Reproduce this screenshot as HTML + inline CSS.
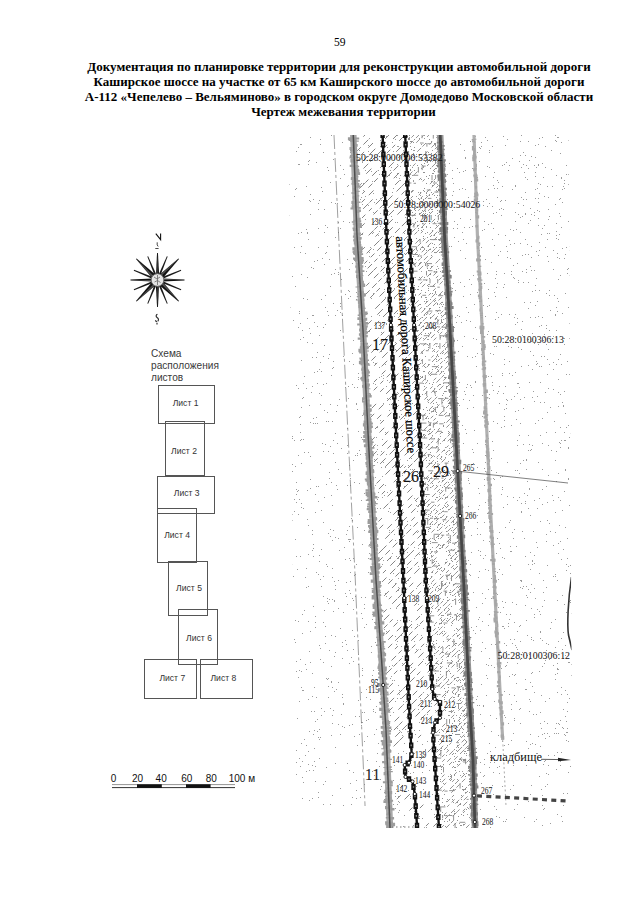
<!DOCTYPE html>
<html><head><meta charset="utf-8">
<style>
html,body{margin:0;padding:0;background:#fff;}
body{width:640px;height:905px;position:relative;overflow:hidden;}
.t{position:absolute;white-space:nowrap;font-family:"Liberation Serif",serif;color:#000;}
.s{position:absolute;white-space:nowrap;font-family:"Liberation Sans",sans-serif;color:#222;}
.title{font-weight:bold;font-size:13px;line-height:15px;left:0;width:678px;text-align:center;}
.box{position:absolute;border:1px solid #555;box-sizing:border-box;}
.bl{position:absolute;width:60px;margin-left:-30px;margin-top:-5.5px;line-height:11px;text-align:center;font-family:"Liberation Sans",sans-serif;font-size:8.6px;color:#333;white-space:nowrap;}
.sc{top:772.6px;font-size:10px;line-height:12px;color:#111;}
.lbl{position:absolute;white-space:nowrap;font-family:"Liberation Serif",serif;color:#111;line-height:1;}
.rot{position:absolute;white-space:nowrap;font-family:"Liberation Serif",serif;font-size:12.5px;line-height:1;color:#000;transform-origin:0 0;-webkit-text-stroke:0.25px #000;}
</style></head><body>
<svg width="640" height="905" viewBox="0 0 640 905" style="position:absolute;left:0;top:0">
<defs>
<clipPath id="mapclip"><polygon points="289,135 568.5,135 572.5,828 385,828 385,806 295,806"/></clipPath>
</defs>
<g clip-path="url(#mapclip)">
<path d="M520 708h1v1h-1zM527 597h1v1h-1zM549 736h1v1h-1zM386 324h1v1h-1zM551 622h1v1h-1zM384 231h1v1h-1zM517 445h1v1h-1zM361 227h1v1h-1zM491 598h1v1h-1zM559 199h1v1h-1zM412 749h1v1h-1zM304 610h1v1h-1zM389 666h1v1h-1zM408 790h1v1h-1zM439 646h1v1h-1zM431 551h1v1h-1zM571 220h1v1h-1zM419 457h1v1h-1zM406 660h1v1h-1zM436 165h1v1h-1zM324 711h1v1h-1zM494 245h1v1h-1zM437 530h1v1h-1zM323 152h1v1h-1zM289 353h1v1h-1zM315 616h1v1h-1zM390 826h1v1h-1zM427 479h1v1h-1zM333 453h1v1h-1zM498 255h1v1h-1zM357 387h1v1h-1zM294 196h1v1h-1zM538 316h1v1h-1zM385 593h1v1h-1zM549 330h1v1h-1zM356 564h1v1h-1zM348 539h1v1h-1zM397 135h1v1h-1zM427 741h1v1h-1zM444 155h1v1h-1zM490 751h1v1h-1zM340 178h1v1h-1zM398 587h1v1h-1zM421 144h1v1h-1zM457 438h1v1h-1zM327 227h1v1h-1zM413 150h1v1h-1zM477 515h1v1h-1zM354 736h1v1h-1zM367 453h1v1h-1zM416 329h1v1h-1zM370 779h1v1h-1zM389 532h1v1h-1zM536 753h1v1h-1zM344 174h1v1h-1zM419 379h1v1h-1zM489 398h1v1h-1zM504 745h1v1h-1zM540 435h1v1h-1zM555 314h1v1h-1zM324 264h1v1h-1zM326 421h1v1h-1zM393 151h1v1h-1zM324 410h1v1h-1zM416 196h1v1h-1zM312 315h1v1h-1zM560 720h1v1h-1zM356 229h1v1h-1zM519 473h1v1h-1zM556 733h1v1h-1zM298 621h1v1h-1zM448 461h1v1h-1zM358 209h1v1h-1zM327 598h1v1h-1zM311 267h1v1h-1zM531 214h1v1h-1zM502 165h1v1h-1zM544 721h1v1h-1zM296 774h1v1h-1zM348 398h1v1h-1zM458 532h1v1h-1zM523 586h1v1h-1zM525 689h1v1h-1zM331 666h1v1h-1zM304 452h1v1h-1zM535 157h1v1h-1zM406 250h1v1h-1zM543 764h1v1h-1zM537 396h1v1h-1zM294 511h1v1h-1zM392 665h1v1h-1zM375 485h1v1h-1zM515 645h1v1h-1zM412 469h1v1h-1zM496 816h1v1h-1zM509 340h1v1h-1zM398 528h1v1h-1zM401 732h1v1h-1zM451 349h1v1h-1zM358 272h1v1h-1zM309 200h1v1h-1zM430 308h1v1h-1zM346 596h1v1h-1zM398 558h1v1h-1zM484 775h1v1h-1zM450 774h1v1h-1zM520 463h1v1h-1zM327 167h1v1h-1zM310 422h1v1h-1zM447 799h1v1h-1zM521 329h1v1h-1zM301 407h1v1h-1zM361 183h1v1h-1zM563 805h1v1h-1zM477 214h1v1h-1zM390 339h1v1h-1zM532 397h1v1h-1zM380 146h1v1h-1zM530 682h1v1h-1zM307 318h1v1h-1zM466 687h1v1h-1zM555 647h1v1h-1zM370 537h1v1h-1zM403 224h1v1h-1zM499 532h1v1h-1zM355 596h1v1h-1zM292 520h1v1h-1zM546 486h1v1h-1zM526 469h1v1h-1zM393 236h1v1h-1zM352 353h1v1h-1zM488 224h1v1h-1zM447 684h1v1h-1zM453 403h1v1h-1zM297 491h1v1h-1zM308 586h1v1h-1zM504 416h1v1h-1zM538 164h1v1h-1zM400 200h1v1h-1zM508 170h1v1h-1zM377 680h1v1h-1zM553 665h1v1h-1zM514 639h1v1h-1zM333 361h1v1h-1zM437 710h1v1h-1zM373 670h1v1h-1zM420 454h1v1h-1zM484 759h1v1h-1zM361 692h1v1h-1zM543 340h1v1h-1zM291 754h1v1h-1zM564 180h1v1h-1zM553 545h1v1h-1zM567 711h1v1h-1zM374 202h1v1h-1zM564 604h1v1h-1zM500 548h1v1h-1zM426 387h1v1h-1zM531 639h1v1h-1zM354 482h1v1h-1zM532 672h1v1h-1zM451 246h1v1h-1zM405 147h1v1h-1zM434 464h1v1h-1zM470 385h1v1h-1zM342 646h1v1h-1zM351 657h1v1h-1zM390 678h1v1h-1zM512 158h1v1h-1zM481 783h1v1h-1zM560 765h1v1h-1zM370 686h1v1h-1zM399 690h1v1h-1zM358 373h1v1h-1zM466 320h1v1h-1zM450 334h1v1h-1zM400 334h1v1h-1zM338 272h1v1h-1zM356 225h1v1h-1zM338 580h1v1h-1zM504 691h1v1h-1zM353 340h1v1h-1zM298 233h1v1h-1zM547 784h1v1h-1zM546 328h1v1h-1zM308 699h1v1h-1zM535 285h1v1h-1zM386 323h1v1h-1zM369 424h1v1h-1zM525 214h1v1h-1zM338 469h1v1h-1zM507 662h1v1h-1zM470 575h1v1h-1zM480 148h1v1h-1zM521 503h1v1h-1zM478 550h1v1h-1zM373 232h1v1h-1zM551 150h1v1h-1zM454 221h1v1h-1zM496 718h1v1h-1zM547 733h1v1h-1zM463 399h1v1h-1zM348 298h1v1h-1zM496 271h1v1h-1zM457 686h1v1h-1zM478 577h1v1h-1zM496 346h1v1h-1zM383 207h1v1h-1zM463 443h1v1h-1zM294 499h1v1h-1zM314 372h1v1h-1zM442 480h1v1h-1zM399 810h1v1h-1zM496 718h1v1h-1zM328 533h1v1h-1zM350 539h1v1h-1zM300 252h1v1h-1zM410 397h1v1h-1zM516 546h1v1h-1zM547 186h1v1h-1zM389 798h1v1h-1zM481 146h1v1h-1zM339 399h1v1h-1zM463 698h1v1h-1zM565 655h1v1h-1zM501 668h1v1h-1zM340 788h1v1h-1zM328 697h1v1h-1zM312 530h1v1h-1zM370 530h1v1h-1zM375 642h1v1h-1zM318 574h1v1h-1zM504 426h1v1h-1zM558 543h1v1h-1zM448 509h1v1h-1zM560 427h1v1h-1zM434 814h1v1h-1zM440 162h1v1h-1zM296 385h1v1h-1zM369 553h1v1h-1zM488 189h1v1h-1zM450 542h1v1h-1zM314 730h1v1h-1zM452 210h1v1h-1zM403 574h1v1h-1zM533 391h1v1h-1zM413 181h1v1h-1zM556 235h1v1h-1zM528 282h1v1h-1zM414 753h1v1h-1zM347 186h1v1h-1zM522 255h1v1h-1zM393 188h1v1h-1zM471 675h1v1h-1zM502 601h1v1h-1zM423 789h1v1h-1zM503 507h1v1h-1zM560 275h1v1h-1zM437 266h1v1h-1zM411 627h1v1h-1zM347 650h1v1h-1zM548 774h1v1h-1zM429 413h1v1h-1zM386 783h1v1h-1zM411 329h1v1h-1zM416 649h1v1h-1zM389 175h1v1h-1zM320 144h1v1h-1zM506 162h1v1h-1zM308 239h1v1h-1zM431 209h1v1h-1zM409 781h1v1h-1zM480 630h1v1h-1zM396 481h1v1h-1zM464 641h1v1h-1zM357 211h1v1h-1zM350 593h1v1h-1zM398 590h1v1h-1zM506 399h1v1h-1zM488 289h1v1h-1zM477 292h1v1h-1zM455 432h1v1h-1zM569 323h1v1h-1zM338 608h1v1h-1zM537 609h1v1h-1zM398 812h1v1h-1zM330 446h1v1h-1zM456 424h1v1h-1zM401 501h1v1h-1zM456 510h1v1h-1zM349 465h1v1h-1zM431 583h1v1h-1zM560 447h1v1h-1zM523 460h1v1h-1zM402 544h1v1h-1zM553 389h1v1h-1zM332 505h1v1h-1zM301 507h1v1h-1zM487 334h1v1h-1zM477 534h1v1h-1zM379 315h1v1h-1zM334 600h1v1h-1zM433 157h1v1h-1zM402 663h1v1h-1zM440 157h1v1h-1zM505 200h1v1h-1zM568 447h1v1h-1zM568 221h1v1h-1zM460 218h1v1h-1zM362 234h1v1h-1zM505 386h1v1h-1zM401 635h1v1h-1zM556 481h1v1h-1zM524 538h1v1h-1zM468 480h1v1h-1zM459 823h1v1h-1zM358 640h1v1h-1zM326 767h1v1h-1zM499 817h1v1h-1zM290 522h1v1h-1zM526 689h1v1h-1zM301 671h1v1h-1zM294 247h1v1h-1zM504 284h1v1h-1zM414 301h1v1h-1zM481 306h1v1h-1zM488 570h1v1h-1zM429 195h1v1h-1zM530 450h1v1h-1zM347 445h1v1h-1zM380 198h1v1h-1zM523 152h1v1h-1zM535 172h1v1h-1zM449 246h1v1h-1zM472 357h1v1h-1zM530 744h1v1h-1zM549 364h1v1h-1zM515 324h1v1h-1zM432 547h1v1h-1zM377 454h1v1h-1zM569 698h1v1h-1zM534 401h1v1h-1zM537 547h1v1h-1zM464 811h1v1h-1zM569 229h1v1h-1zM536 361h1v1h-1zM493 185h1v1h-1zM400 272h1v1h-1zM486 675h1v1h-1zM429 194h1v1h-1zM410 146h1v1h-1zM530 515h1v1h-1zM519 387h1v1h-1zM504 755h1v1h-1zM453 283h1v1h-1zM553 269h1v1h-1zM425 663h1v1h-1zM562 189h1v1h-1zM366 720h1v1h-1zM289 344h1v1h-1zM365 266h1v1h-1zM331 495h1v1h-1zM559 234h1v1h-1zM534 614h1v1h-1zM331 735h1v1h-1zM548 445h1v1h-1zM298 327h1v1h-1zM335 585h1v1h-1zM567 558h1v1h-1zM558 641h1v1h-1zM369 453h1v1h-1zM496 212h1v1h-1zM445 613h1v1h-1zM360 243h1v1h-1zM490 827h1v1h-1zM351 804h1v1h-1zM482 621h1v1h-1zM347 604h1v1h-1zM394 765h1v1h-1zM366 432h1v1h-1zM565 440h1v1h-1zM461 536h1v1h-1zM481 247h1v1h-1zM457 452h1v1h-1zM484 229h1v1h-1zM341 279h1v1h-1zM356 780h1v1h-1zM381 332h1v1h-1zM494 172h1v1h-1zM526 741h1v1h-1zM335 237h1v1h-1zM369 262h1v1h-1zM511 551h1v1h-1zM326 484h1v1h-1zM507 658h1v1h-1zM360 797h1v1h-1zM364 530h1v1h-1zM494 762h1v1h-1zM414 811h1v1h-1zM560 153h1v1h-1zM422 473h1v1h-1zM385 485h1v1h-1zM446 801h1v1h-1zM514 243h1v1h-1zM482 344h1v1h-1zM439 240h1v1h-1zM370 394h1v1h-1zM564 440h1v1h-1zM569 374h1v1h-1zM469 761h1v1h-1zM545 660h1v1h-1zM361 722h1v1h-1zM553 336h1v1h-1zM302 777h1v1h-1zM331 274h1v1h-1zM502 476h1v1h-1zM457 228h1v1h-1zM473 407h1v1h-1zM352 598h1v1h-1zM358 379h1v1h-1zM567 694h1v1h-1zM321 708h1v1h-1zM375 477h1v1h-1zM363 260h1v1h-1zM290 430h1v1h-1zM475 381h1v1h-1zM474 304h1v1h-1zM569 213h1v1h-1zM521 167h1v1h-1zM495 319h1v1h-1zM359 450h1v1h-1zM484 764h1v1h-1zM528 168h1v1h-1zM362 675h1v1h-1zM496 312h1v1h-1zM461 667h1v1h-1zM356 404h1v1h-1zM459 189h1v1h-1zM308 822h1v1h-1zM495 644h1v1h-1zM529 488h1v1h-1zM499 773h1v1h-1zM497 423h1v1h-1zM537 609h1v1h-1zM498 579h1v1h-1zM558 473h1v1h-1zM557 668h1v1h-1zM510 565h1v1h-1zM301 463h1v1h-1zM440 765h1v1h-1zM510 520h1v1h-1zM453 447h1v1h-1zM517 383h1v1h-1zM546 541h1v1h-1zM315 622h1v1h-1zM558 379h1v1h-1zM568 448h1v1h-1zM491 376h1v1h-1zM324 816h1v1h-1zM568 566h1v1h-1zM373 362h1v1h-1zM504 715h1v1h-1zM355 261h1v1h-1zM521 135h1v1h-1zM440 384h1v1h-1zM442 159h1v1h-1zM321 586h1v1h-1zM560 541h1v1h-1zM361 500h1v1h-1zM407 181h1v1h-1zM445 166h1v1h-1zM449 450h1v1h-1zM455 645h1v1h-1zM362 618h1v1h-1zM392 437h1v1h-1zM319 335h1v1h-1zM392 680h1v1h-1zM409 331h1v1h-1zM449 415h1v1h-1zM504 273h1v1h-1zM460 590h1v1h-1zM501 215h1v1h-1zM375 363h1v1h-1zM446 258h1v1h-1zM389 410h1v1h-1zM381 376h1v1h-1zM428 516h1v1h-1zM557 253h1v1h-1zM553 369h1v1h-1zM443 319h1v1h-1zM404 418h1v1h-1zM356 790h1v1h-1zM525 213h1v1h-1zM514 675h1v1h-1zM326 678h1v1h-1zM292 749h1v1h-1zM564 391h1v1h-1zM505 717h1v1h-1zM333 303h1v1h-1zM386 386h1v1h-1zM380 420h1v1h-1zM569 164h1v1h-1zM384 289h1v1h-1zM306 771h1v1h-1zM485 137h1v1h-1zM544 196h1v1h-1zM381 200h1v1h-1zM473 463h1v1h-1zM305 664h1v1h-1zM555 679h1v1h-1zM378 743h1v1h-1zM373 249h1v1h-1zM512 375h1v1h-1zM514 695h1v1h-1zM420 376h1v1h-1zM421 635h1v1h-1zM567 361h1v1h-1zM544 402h1v1h-1zM307 342h1v1h-1zM315 721h1v1h-1zM381 467h1v1h-1zM543 580h1v1h-1zM546 587h1v1h-1zM423 166h1v1h-1zM326 252h1v1h-1zM567 728h1v1h-1zM410 773h1v1h-1zM363 190h1v1h-1zM448 570h1v1h-1zM310 456h1v1h-1zM558 406h1v1h-1zM544 225h1v1h-1zM550 310h1v1h-1zM482 395h1v1h-1zM543 809h1v1h-1zM521 197h1v1h-1zM450 555h1v1h-1zM528 508h1v1h-1zM399 178h1v1h-1zM354 636h1v1h-1zM357 283h1v1h-1zM556 175h1v1h-1zM290 381h1v1h-1zM558 279h1v1h-1zM335 537h1v1h-1zM530 569h1v1h-1zM328 170h1v1h-1zM406 437h1v1h-1zM418 256h1v1h-1zM571 382h1v1h-1zM503 607h1v1h-1zM333 367h1v1h-1zM461 760h1v1h-1zM400 175h1v1h-1zM371 547h1v1h-1zM318 486h1v1h-1zM379 608h1v1h-1zM490 353h1v1h-1zM484 522h1v1h-1zM399 563h1v1h-1zM466 387h1v1h-1zM570 302h1v1h-1zM534 343h1v1h-1zM493 354h1v1h-1zM528 450h1v1h-1zM530 592h1v1h-1zM539 776h1v1h-1zM538 344h1v1h-1zM565 527h1v1h-1zM503 209h1v1h-1zM313 418h1v1h-1zM429 770h1v1h-1zM423 659h1v1h-1zM490 715h1v1h-1zM400 410h1v1h-1zM473 275h1v1h-1zM350 155h1v1h-1zM484 468h1v1h-1zM490 757h1v1h-1zM354 167h1v1h-1zM499 569h1v1h-1zM534 692h1v1h-1zM358 664h1v1h-1zM422 456h1v1h-1zM393 422h1v1h-1zM562 595h1v1h-1zM496 274h1v1h-1zM486 664h1v1h-1zM404 240h1v1h-1zM438 514h1v1h-1zM465 760h1v1h-1zM399 278h1v1h-1zM309 160h1v1h-1zM536 714h1v1h-1zM294 440h1v1h-1zM323 356h1v1h-1zM469 817h1v1h-1zM351 518h1v1h-1zM421 227h1v1h-1zM507 257h1v1h-1zM485 471h1v1h-1zM432 361h1v1h-1zM370 547h1v1h-1zM374 494h1v1h-1zM411 667h1v1h-1zM336 485h1v1h-1zM366 624h1v1h-1zM572 450h1v1h-1zM321 549h1v1h-1zM482 642h1v1h-1zM442 615h1v1h-1zM307 490h1v1h-1zM480 714h1v1h-1zM384 792h1v1h-1zM399 212h1v1h-1zM313 770h1v1h-1zM501 200h1v1h-1zM430 204h1v1h-1zM526 595h1v1h-1zM358 654h1v1h-1zM542 504h1v1h-1zM531 156h1v1h-1zM405 399h1v1h-1zM401 375h1v1h-1zM555 135h1v1h-1zM567 538h1v1h-1zM290 380h1v1h-1zM569 215h1v1h-1zM459 405h1v1h-1zM298 455h1v1h-1zM395 540h1v1h-1zM369 331h1v1h-1zM371 298h1v1h-1zM459 771h1v1h-1zM540 712h1v1h-1zM439 513h1v1h-1zM501 427h1v1h-1zM476 819h1v1h-1zM410 796h1v1h-1zM416 505h1v1h-1zM455 317h1v1h-1zM353 199h1v1h-1zM520 659h1v1h-1zM535 176h1v1h-1zM372 771h1v1h-1zM535 189h1v1h-1zM465 394h1v1h-1zM489 394h1v1h-1zM417 511h1v1h-1zM456 322h1v1h-1zM393 712h1v1h-1zM355 716h1v1h-1zM353 772h1v1h-1zM426 299h1v1h-1zM353 340h1v1h-1zM438 371h1v1h-1zM383 149h1v1h-1zM530 734h1v1h-1zM357 409h1v1h-1zM503 393h1v1h-1zM492 530h1v1h-1zM360 184h1v1h-1zM369 256h1v1h-1zM310 333h1v1h-1zM564 258h1v1h-1zM496 472h1v1h-1zM302 690h1v1h-1zM376 517h1v1h-1zM323 451h1v1h-1zM434 364h1v1h-1zM489 767h1v1h-1zM361 725h1v1h-1zM399 694h1v1h-1zM433 285h1v1h-1zM515 314h1v1h-1zM343 704h1v1h-1zM417 634h1v1h-1zM510 258h1v1h-1zM366 466h1v1h-1zM427 714h1v1h-1zM362 415h1v1h-1zM429 464h1v1h-1zM405 217h1v1h-1zM535 340h1v1h-1zM476 699h1v1h-1zM447 821h1v1h-1zM536 278h1v1h-1zM392 553h1v1h-1zM536 167h1v1h-1zM501 494h1v1h-1zM570 766h1v1h-1zM418 418h1v1h-1zM385 432h1v1h-1zM416 588h1v1h-1zM313 315h1v1h-1zM327 412h1v1h-1zM447 199h1v1h-1zM475 146h1v1h-1zM558 406h1v1h-1zM414 641h1v1h-1zM493 450h1v1h-1zM561 816h1v1h-1zM340 628h1v1h-1zM498 391h1v1h-1zM301 144h1v1h-1zM405 466h1v1h-1zM487 513h1v1h-1zM430 508h1v1h-1zM519 497h1v1h-1zM448 420h1v1h-1zM323 804h1v1h-1zM337 405h1v1h-1zM381 351h1v1h-1zM313 268h1v1h-1zM394 316h1v1h-1zM466 243h1v1h-1zM479 493h1v1h-1zM300 144h1v1h-1zM564 344h1v1h-1zM299 313h1v1h-1zM344 727h1v1h-1zM509 619h1v1h-1zM401 646h1v1h-1zM498 317h1v1h-1zM428 206h1v1h-1zM488 464h1v1h-1zM471 672h1v1h-1zM364 784h1v1h-1zM317 352h1v1h-1zM465 585h1v1h-1zM506 651h1v1h-1zM347 259h1v1h-1zM521 581h1v1h-1zM528 564h1v1h-1zM485 648h1v1h-1zM566 721h1v1h-1zM310 662h1v1h-1zM434 742h1v1h-1zM455 290h1v1h-1zM457 397h1v1h-1zM449 327h1v1h-1zM529 699h1v1h-1zM494 188h1v1h-1zM384 799h1v1h-1zM361 252h1v1h-1zM342 658h1v1h-1zM422 201h1v1h-1zM383 174h1v1h-1zM464 391h1v1h-1zM467 599h1v1h-1zM432 794h1v1h-1zM411 210h1v1h-1zM343 703h1v1h-1zM540 382h1v1h-1zM325 643h1v1h-1zM570 202h1v1h-1zM459 172h1v1h-1zM401 430h1v1h-1zM487 166h1v1h-1zM527 635h1v1h-1zM325 225h1v1h-1zM394 680h1v1h-1zM450 336h1v1h-1zM509 522h1v1h-1zM296 482h1v1h-1zM431 809h1v1h-1zM395 349h1v1h-1zM381 266h1v1h-1zM376 729h1v1h-1zM465 759h1v1h-1zM472 449h1v1h-1zM324 345h1v1h-1zM473 452h1v1h-1zM391 284h1v1h-1zM325 781h1v1h-1zM480 762h1v1h-1zM522 271h1v1h-1zM548 261h1v1h-1zM337 489h1v1h-1zM502 375h1v1h-1zM541 728h1v1h-1zM435 215h1v1h-1zM521 366h1v1h-1zM533 531h1v1h-1zM390 558h1v1h-1zM401 594h1v1h-1zM321 510h1v1h-1zM433 733h1v1h-1zM514 809h1v1h-1zM438 812h1v1h-1zM295 823h1v1h-1zM296 556h1v1h-1zM417 532h1v1h-1zM504 420h1v1h-1zM463 239h1v1h-1zM342 694h1v1h-1zM521 349h1v1h-1zM304 739h1v1h-1zM465 158h1v1h-1zM376 610h1v1h-1zM534 821h1v1h-1zM320 362h1v1h-1zM491 578h1v1h-1zM566 247h1v1h-1zM318 203h1v1h-1zM494 806h1v1h-1zM554 733h1v1h-1zM396 644h1v1h-1zM478 281h1v1h-1zM418 814h1v1h-1zM531 257h1v1h-1zM510 614h1v1h-1zM368 151h1v1h-1zM478 509h1v1h-1zM301 246h1v1h-1zM563 709h1v1h-1zM562 248h1v1h-1zM337 443h1v1h-1zM352 204h1v1h-1zM551 450h1v1h-1zM439 496h1v1h-1zM414 387h1v1h-1zM500 612h1v1h-1zM316 357h1v1h-1zM359 241h1v1h-1zM546 293h1v1h-1zM362 712h1v1h-1zM497 767h1v1h-1zM349 558h1v1h-1zM406 292h1v1h-1zM345 640h1v1h-1zM567 793h1v1h-1zM312 534h1v1h-1zM329 354h1v1h-1zM346 807h1v1h-1zM457 635h1v1h-1zM393 804h1v1h-1zM359 716h1v1h-1zM338 538h1v1h-1zM425 749h1v1h-1zM421 360h1v1h-1zM477 221h1v1h-1zM508 623h1v1h-1zM485 502h1v1h-1zM459 596h1v1h-1zM348 185h1v1h-1zM560 198h1v1h-1zM372 675h1v1h-1zM454 544h1v1h-1zM403 826h1v1h-1zM473 630h1v1h-1zM555 674h1v1h-1zM538 144h1v1h-1zM480 551h1v1h-1zM342 142h1v1h-1zM471 387h1v1h-1zM477 443h1v1h-1zM349 663h1v1h-1zM465 189h1v1h-1zM398 393h1v1h-1zM427 570h1v1h-1zM338 222h1v1h-1zM404 391h1v1h-1zM457 168h1v1h-1zM368 427h1v1h-1zM433 193h1v1h-1zM540 184h1v1h-1zM359 483h1v1h-1zM300 766h1v1h-1zM397 728h1v1h-1zM568 140h1v1h-1zM534 563h1v1h-1zM460 775h1v1h-1zM327 311h1v1h-1zM514 278h1v1h-1zM482 593h1v1h-1zM349 590h1v1h-1zM325 253h1v1h-1zM471 817h1v1h-1zM569 250h1v1h-1zM349 541h1v1h-1zM454 684h1v1h-1zM360 261h1v1h-1zM368 415h1v1h-1zM530 552h1v1h-1zM305 577h1v1h-1zM391 825h1v1h-1zM542 640h1v1h-1zM512 532h1v1h-1zM550 628h1v1h-1zM342 697h1v1h-1zM374 734h1v1h-1zM296 489h1v1h-1zM468 521h1v1h-1zM555 532h1v1h-1zM520 723h1v1h-1zM525 501h1v1h-1zM364 627h1v1h-1zM491 470h1v1h-1zM335 636h1v1h-1zM422 494h1v1h-1zM321 395h1v1h-1zM398 578h1v1h-1zM500 678h1v1h-1zM522 531h1v1h-1zM538 255h1v1h-1zM407 325h1v1h-1zM341 448h1v1h-1zM365 170h1v1h-1zM469 716h1v1h-1zM370 699h1v1h-1zM539 290h1v1h-1zM517 500h1v1h-1zM443 235h1v1h-1zM415 294h1v1h-1zM400 339h1v1h-1zM562 759h1v1h-1zM465 258h1v1h-1zM477 467h1v1h-1zM437 757h1v1h-1zM424 248h1v1h-1zM416 501h1v1h-1zM299 311h1v1h-1zM418 818h1v1h-1zM439 428h1v1h-1zM418 709h1v1h-1zM356 403h1v1h-1zM428 164h1v1h-1zM434 419h1v1h-1zM549 290h1v1h-1zM488 298h1v1h-1zM567 269h1v1h-1zM334 691h1v1h-1zM372 682h1v1h-1zM422 448h1v1h-1zM316 572h1v1h-1zM474 802h1v1h-1zM566 374h1v1h-1zM535 598h1v1h-1zM478 488h1v1h-1zM547 412h1v1h-1zM570 247h1v1h-1zM325 444h1v1h-1zM341 714h1v1h-1zM388 511h1v1h-1zM447 497h1v1h-1zM361 197h1v1h-1zM362 668h1v1h-1zM512 674h1v1h-1zM383 223h1v1h-1zM558 497h1v1h-1zM544 337h1v1h-1zM387 215h1v1h-1zM538 165h1v1h-1zM334 273h1v1h-1zM420 478h1v1h-1zM401 414h1v1h-1zM366 689h1v1h-1zM368 572h1v1h-1zM299 758h1v1h-1zM554 295h1v1h-1zM443 159h1v1h-1zM365 325h1v1h-1zM555 728h1v1h-1zM331 135h1v1h-1zM399 539h1v1h-1zM407 552h1v1h-1zM468 478h1v1h-1zM489 150h1v1h-1zM412 403h1v1h-1zM313 734h1v1h-1zM460 668h1v1h-1zM469 600h1v1h-1zM501 314h1v1h-1zM391 288h1v1h-1zM397 394h1v1h-1zM520 625h1v1h-1zM402 475h1v1h-1zM383 378h1v1h-1zM422 744h1v1h-1zM556 723h1v1h-1zM419 722h1v1h-1zM300 323h1v1h-1zM322 443h1v1h-1zM393 825h1v1h-1zM306 388h1v1h-1zM329 650h1v1h-1zM400 180h1v1h-1zM501 705h1v1h-1zM359 514h1v1h-1zM324 209h1v1h-1zM487 273h1v1h-1zM503 821h1v1h-1zM462 346h1v1h-1zM435 710h1v1h-1zM323 622h1v1h-1zM296 188h1v1h-1zM483 201h1v1h-1zM506 297h1v1h-1zM362 204h1v1h-1zM394 298h1v1h-1zM541 366h1v1h-1zM452 485h1v1h-1zM452 178h1v1h-1zM358 377h1v1h-1zM521 511h1v1h-1zM479 258h1v1h-1zM428 284h1v1h-1zM325 324h1v1h-1zM314 261h1v1h-1zM558 669h1v1h-1zM565 716h1v1h-1zM515 674h1v1h-1zM423 229h1v1h-1zM330 804h1v1h-1zM328 451h1v1h-1zM546 325h1v1h-1zM371 473h1v1h-1zM342 436h1v1h-1zM524 493h1v1h-1zM539 611h1v1h-1zM529 160h1v1h-1zM513 733h1v1h-1zM372 181h1v1h-1zM377 545h1v1h-1zM397 155h1v1h-1zM301 360h1v1h-1zM544 761h1v1h-1zM464 150h1v1h-1zM310 479h1v1h-1zM478 619h1v1h-1zM451 305h1v1h-1zM502 574h1v1h-1zM565 735h1v1h-1zM524 397h1v1h-1zM459 638h1v1h-1zM408 771h1v1h-1zM372 614h1v1h-1zM436 310h1v1h-1zM449 375h1v1h-1zM495 296h1v1h-1zM462 425h1v1h-1zM290 490h1v1h-1zM346 644h1v1h-1zM289 813h1v1h-1zM426 644h1v1h-1zM525 192h1v1h-1zM335 462h1v1h-1zM535 198h1v1h-1zM362 162h1v1h-1zM432 686h1v1h-1zM515 186h1v1h-1zM332 421h1v1h-1zM409 732h1v1h-1zM493 177h1v1h-1zM419 334h1v1h-1zM547 239h1v1h-1zM507 496h1v1h-1zM318 209h1v1h-1zM535 290h1v1h-1zM437 458h1v1h-1zM546 650h1v1h-1zM464 336h1v1h-1zM517 440h1v1h-1zM354 387h1v1h-1zM429 439h1v1h-1zM379 255h1v1h-1zM532 445h1v1h-1zM413 180h1v1h-1zM300 659h1v1h-1zM530 794h1v1h-1zM493 794h1v1h-1zM370 247h1v1h-1zM421 429h1v1h-1zM488 453h1v1h-1zM419 325h1v1h-1zM422 772h1v1h-1zM497 538h1v1h-1zM290 717h1v1h-1zM541 789h1v1h-1zM404 528h1v1h-1zM371 646h1v1h-1zM406 371h1v1h-1zM349 291h1v1h-1zM450 612h1v1h-1zM428 326h1v1h-1zM302 798h1v1h-1zM341 473h1v1h-1zM316 162h1v1h-1zM444 610h1v1h-1zM400 670h1v1h-1zM538 202h1v1h-1zM307 233h1v1h-1zM563 186h1v1h-1zM531 673h1v1h-1zM416 430h1v1h-1zM391 729h1v1h-1zM475 382h1v1h-1zM492 206h1v1h-1zM462 188h1v1h-1zM440 674h1v1h-1zM561 559h1v1h-1zM399 551h1v1h-1zM409 620h1v1h-1zM329 259h1v1h-1zM532 560h1v1h-1zM545 392h1v1h-1zM566 564h1v1h-1zM382 193h1v1h-1zM365 323h1v1h-1zM571 414h1v1h-1zM452 409h1v1h-1zM310 194h1v1h-1zM510 244h1v1h-1zM532 333h1v1h-1zM418 192h1v1h-1zM570 207h1v1h-1zM290 410h1v1h-1zM513 265h1v1h-1zM506 645h1v1h-1zM414 547h1v1h-1zM411 765h1v1h-1zM498 182h1v1h-1zM317 719h1v1h-1zM489 614h1v1h-1zM395 386h1v1h-1zM538 736h1v1h-1zM450 788h1v1h-1zM350 478h1v1h-1zM402 656h1v1h-1zM499 543h1v1h-1zM387 398h1v1h-1zM306 229h1v1h-1zM518 347h1v1h-1zM476 813h1v1h-1zM520 580h1v1h-1zM450 351h1v1h-1zM300 556h1v1h-1zM334 601h1v1h-1zM570 600h1v1h-1zM481 651h1v1h-1zM405 438h1v1h-1zM406 753h1v1h-1zM521 580h1v1h-1zM397 804h1v1h-1zM441 366h1v1h-1zM332 687h1v1h-1zM463 711h1v1h-1zM489 152h1v1h-1zM502 487h1v1h-1zM507 400h1v1h-1zM335 763h1v1h-1zM492 441h1v1h-1zM389 579h1v1h-1zM319 645h1v1h-1zM399 802h1v1h-1zM489 203h1v1h-1zM462 508h1v1h-1zM417 397h1v1h-1zM497 692h1v1h-1zM301 274h1v1h-1zM455 656h1v1h-1zM300 416h1v1h-1zM464 675h1v1h-1zM542 469h1v1h-1zM374 775h1v1h-1zM313 606h1v1h-1zM514 718h1v1h-1zM300 432h1v1h-1zM568 307h1v1h-1zM475 356h1v1h-1zM429 284h1v1h-1zM472 727h1v1h-1zM301 687h1v1h-1zM496 287h1v1h-1zM448 776h1v1h-1zM416 346h1v1h-1zM380 161h1v1h-1zM349 222h1v1h-1zM302 330h1v1h-1zM539 193h1v1h-1zM303 816h1v1h-1zM458 351h1v1h-1zM474 464h1v1h-1zM400 620h1v1h-1zM449 163h1v1h-1zM433 758h1v1h-1zM547 502h1v1h-1zM403 696h1v1h-1zM403 751h1v1h-1zM452 288h1v1h-1zM463 585h1v1h-1zM509 314h1v1h-1zM382 741h1v1h-1zM376 619h1v1h-1zM467 356h1v1h-1zM452 366h1v1h-1zM319 369h1v1h-1zM313 199h1v1h-1zM567 732h1v1h-1zM301 232h1v1h-1zM469 638h1v1h-1zM486 199h1v1h-1zM379 702h1v1h-1zM436 361h1v1h-1zM299 499h1v1h-1zM290 389h1v1h-1zM442 402h1v1h-1zM296 151h1v1h-1zM502 741h1v1h-1zM377 250h1v1h-1zM372 233h1v1h-1zM529 659h1v1h-1zM386 454h1v1h-1zM568 772h1v1h-1zM516 647h1v1h-1zM414 558h1v1h-1zM488 505h1v1h-1zM528 589h1v1h-1zM559 724h1v1h-1zM561 364h1v1h-1zM434 157h1v1h-1zM440 443h1v1h-1zM489 167h1v1h-1zM309 770h1v1h-1zM556 330h1v1h-1zM477 705h1v1h-1zM545 701h1v1h-1zM405 729h1v1h-1zM388 211h1v1h-1zM345 387h1v1h-1zM460 691h1v1h-1zM507 662h1v1h-1zM447 174h1v1h-1zM553 500h1v1h-1zM327 679h1v1h-1zM295 286h1v1h-1zM345 593h1v1h-1zM511 740h1v1h-1zM568 741h1v1h-1zM317 731h1v1h-1zM324 610h1v1h-1zM413 825h1v1h-1zM544 356h1v1h-1zM461 726h1v1h-1zM298 147h1v1h-1zM398 753h1v1h-1zM326 383h1v1h-1zM459 316h1v1h-1zM556 238h1v1h-1zM383 403h1v1h-1zM385 364h1v1h-1zM373 193h1v1h-1zM465 170h1v1h-1zM360 341h1v1h-1zM372 619h1v1h-1zM453 400h1v1h-1zM383 462h1v1h-1zM311 711h1v1h-1zM418 531h1v1h-1zM383 560h1v1h-1zM542 805h1v1h-1zM411 740h1v1h-1zM431 411h1v1h-1zM391 825h1v1h-1zM331 202h1v1h-1zM410 525h1v1h-1zM437 816h1v1h-1zM350 783h1v1h-1zM485 462h1v1h-1zM319 555h1v1h-1zM485 259h1v1h-1zM560 394h1v1h-1zM479 705h1v1h-1zM364 741h1v1h-1zM381 343h1v1h-1zM545 146h1v1h-1zM544 808h1v1h-1zM411 594h1v1h-1zM386 631h1v1h-1zM310 214h1v1h-1zM528 365h1v1h-1zM372 507h1v1h-1zM315 494h1v1h-1zM308 164h1v1h-1zM484 283h1v1h-1zM464 751h1v1h-1zM435 319h1v1h-1zM386 596h1v1h-1zM346 582h1v1h-1zM556 307h1v1h-1zM325 307h1v1h-1zM549 233h1v1h-1zM487 140h1v1h-1zM531 449h1v1h-1zM460 144h1v1h-1zM489 431h1v1h-1zM566 427h1v1h-1zM356 299h1v1h-1zM479 245h1v1h-1zM309 405h1v1h-1zM438 385h1v1h-1zM490 484h1v1h-1zM417 250h1v1h-1zM350 560h1v1h-1zM474 739h1v1h-1zM431 374h1v1h-1zM362 400h1v1h-1zM335 269h1v1h-1zM320 579h1v1h-1zM432 348h1v1h-1zM454 756h1v1h-1zM488 331h1v1h-1zM426 593h1v1h-1zM548 755h1v1h-1zM386 690h1v1h-1zM423 338h1v1h-1zM483 705h1v1h-1zM290 777h1v1h-1zM429 615h1v1h-1zM509 373h1v1h-1zM535 317h1v1h-1zM526 620h1v1h-1zM504 409h1v1h-1zM451 710h1v1h-1zM492 382h1v1h-1zM449 609h1v1h-1zM392 263h1v1h-1zM371 171h1v1h-1zM504 558h1v1h-1zM382 693h1v1h-1zM472 796h1v1h-1zM307 277h1v1h-1zM420 396h1v1h-1zM569 601h1v1h-1zM479 250h1v1h-1zM318 792h1v1h-1zM532 369h1v1h-1zM340 165h1v1h-1zM321 299h1v1h-1zM354 230h1v1h-1zM465 258h1v1h-1zM479 571h1v1h-1zM412 190h1v1h-1zM565 469h1v1h-1zM435 589h1v1h-1zM435 783h1v1h-1zM506 614h1v1h-1zM397 146h1v1h-1zM514 622h1v1h-1zM423 628h1v1h-1zM549 295h1v1h-1zM550 407h1v1h-1zM476 234h1v1h-1zM437 210h1v1h-1zM522 758h1v1h-1zM547 565h1v1h-1zM432 538h1v1h-1zM536 542h1v1h-1zM534 500h1v1h-1zM505 235h1v1h-1zM406 286h1v1h-1zM477 528h1v1h-1zM398 146h1v1h-1zM290 307h1v1h-1zM321 715h1v1h-1zM398 475h1v1h-1zM517 322h1v1h-1zM315 423h1v1h-1zM460 282h1v1h-1zM327 246h1v1h-1zM459 616h1v1h-1zM494 346h1v1h-1zM542 443h1v1h-1zM446 562h1v1h-1zM395 793h1v1h-1zM326 564h1v1h-1zM319 561h1v1h-1zM309 651h1v1h-1zM568 662h1v1h-1zM568 425h1v1h-1zM416 310h1v1h-1zM571 664h1v1h-1zM451 307h1v1h-1zM423 383h1v1h-1zM461 825h1v1h-1zM504 364h1v1h-1zM526 199h1v1h-1zM375 384h1v1h-1zM504 643h1v1h-1zM537 508h1v1h-1zM390 512h1v1h-1zM328 315h1v1h-1zM415 266h1v1h-1zM335 652h1v1h-1zM510 551h1v1h-1zM410 798h1v1h-1zM480 555h1v1h-1zM352 797h1v1h-1zM527 495h1v1h-1zM426 827h1v1h-1zM367 429h1v1h-1zM311 392h1v1h-1zM340 312h1v1h-1zM443 740h1v1h-1zM361 788h1v1h-1zM331 681h1v1h-1zM539 366h1v1h-1zM337 203h1v1h-1zM531 341h1v1h-1zM437 569h1v1h-1zM431 447h1v1h-1zM534 165h1v1h-1zM396 789h1v1h-1zM455 643h1v1h-1zM387 147h1v1h-1zM572 150h1v1h-1zM412 599h1v1h-1zM528 748h1v1h-1zM538 462h1v1h-1zM452 170h1v1h-1zM513 497h1v1h-1zM421 271h1v1h-1zM473 772h1v1h-1zM352 263h1v1h-1zM335 315h1v1h-1zM499 766h1v1h-1zM451 726h1v1h-1zM440 436h1v1h-1zM329 599h1v1h-1zM531 270h1v1h-1zM449 820h1v1h-1zM350 296h1v1h-1zM500 662h1v1h-1zM516 229h1v1h-1zM363 183h1v1h-1zM371 451h1v1h-1zM375 712h1v1h-1zM458 241h1v1h-1zM503 136h1v1h-1zM541 695h1v1h-1zM482 230h1v1h-1zM397 206h1v1h-1zM467 408h1v1h-1zM382 557h1v1h-1zM457 668h1v1h-1zM393 573h1v1h-1zM525 177h1v1h-1zM420 195h1v1h-1zM527 244h1v1h-1zM569 275h1v1h-1zM390 715h1v1h-1zM561 687h1v1h-1zM539 138h1v1h-1zM398 801h1v1h-1zM483 776h1v1h-1zM514 317h1v1h-1zM542 734h1v1h-1zM395 796h1v1h-1zM407 228h1v1h-1zM291 620h1v1h-1zM469 227h1v1h-1zM564 491h1v1h-1zM512 602h1v1h-1zM302 614h1v1h-1zM522 652h1v1h-1zM456 715h1v1h-1zM363 292h1v1h-1zM312 673h1v1h-1zM472 168h1v1h-1zM506 819h1v1h-1zM403 512h1v1h-1zM347 453h1v1h-1zM319 739h1v1h-1zM484 479h1v1h-1zM407 325h1v1h-1zM450 616h1v1h-1zM539 498h1v1h-1zM423 200h1v1h-1zM441 750h1v1h-1zM464 678h1v1h-1zM337 310h1v1h-1zM457 340h1v1h-1zM403 259h1v1h-1zM523 444h1v1h-1zM515 212h1v1h-1zM501 657h1v1h-1zM306 186h1v1h-1zM438 563h1v1h-1zM493 213h1v1h-1zM501 208h1v1h-1zM499 386h1v1h-1zM495 747h1v1h-1zM405 646h1v1h-1zM321 187h1v1h-1zM427 694h1v1h-1zM438 544h1v1h-1zM564 432h1v1h-1zM477 152h1v1h-1zM540 521h1v1h-1zM336 411h1v1h-1zM292 438h1v1h-1zM369 252h1v1h-1zM410 165h1v1h-1zM535 744h1v1h-1zM299 164h1v1h-1zM516 683h1v1h-1zM558 301h1v1h-1zM541 234h1v1h-1zM465 530h1v1h-1zM546 534h1v1h-1zM361 825h1v1h-1zM562 727h1v1h-1zM557 663h1v1h-1zM315 766h1v1h-1zM314 748h1v1h-1zM481 142h1v1h-1zM373 711h1v1h-1zM539 250h1v1h-1zM446 576h1v1h-1zM292 471h1v1h-1zM482 416h1v1h-1zM498 607h1v1h-1zM320 737h1v1h-1zM559 213h1v1h-1zM306 587h1v1h-1zM517 263h1v1h-1zM428 700h1v1h-1zM545 247h1v1h-1zM382 476h1v1h-1zM485 555h1v1h-1zM557 580h1v1h-1zM357 745h1v1h-1zM298 677h1v1h-1zM414 337h1v1h-1zM467 807h1v1h-1zM439 454h1v1h-1zM396 177h1v1h-1zM410 237h1v1h-1zM413 256h1v1h-1zM330 404h1v1h-1zM516 419h1v1h-1zM530 266h1v1h-1zM468 656h1v1h-1zM557 752h1v1h-1zM455 789h1v1h-1zM358 285h1v1h-1zM397 313h1v1h-1zM404 253h1v1h-1zM308 554h1v1h-1zM460 715h1v1h-1zM320 659h1v1h-1zM538 183h1v1h-1zM451 580h1v1h-1zM477 195h1v1h-1zM323 522h1v1h-1zM496 608h1v1h-1zM394 288h1v1h-1zM520 587h1v1h-1zM569 246h1v1h-1zM369 138h1v1h-1zM492 385h1v1h-1zM405 275h1v1h-1zM402 560h1v1h-1zM357 827h1v1h-1zM377 449h1v1h-1zM378 497h1v1h-1zM331 482h1v1h-1zM467 814h1v1h-1zM316 697h1v1h-1zM528 755h1v1h-1zM537 210h1v1h-1zM525 605h1v1h-1zM296 750h1v1h-1zM376 761h1v1h-1zM320 139h1v1h-1zM454 774h1v1h-1zM540 631h1v1h-1zM390 170h1v1h-1zM396 608h1v1h-1zM492 146h1v1h-1zM572 468h1v1h-1zM468 197h1v1h-1zM491 458h1v1h-1zM429 201h1v1h-1zM338 724h1v1h-1zM491 262h1v1h-1zM335 747h1v1h-1zM471 181h1v1h-1zM389 725h1v1h-1zM560 443h1v1h-1zM404 467h1v1h-1zM296 671h1v1h-1zM438 482h1v1h-1zM539 671h1v1h-1zM425 682h1v1h-1zM472 201h1v1h-1zM434 744h1v1h-1zM357 453h1v1h-1zM338 682h1v1h-1zM513 754h1v1h-1zM526 272h1v1h-1zM485 455h1v1h-1zM426 195h1v1h-1zM514 529h1v1h-1zM521 756h1v1h-1zM507 462h1v1h-1zM396 394h1v1h-1zM472 226h1v1h-1zM353 364h1v1h-1zM558 733h1v1h-1zM543 592h1v1h-1zM542 163h1v1h-1zM518 410h1v1h-1zM309 800h1v1h-1zM528 254h1v1h-1zM457 315h1v1h-1zM457 727h1v1h-1zM353 558h1v1h-1zM430 429h1v1h-1zM439 492h1v1h-1zM332 540h1v1h-1zM386 136h1v1h-1zM340 228h1v1h-1zM538 198h1v1h-1zM530 302h1v1h-1zM314 761h1v1h-1zM488 438h1v1h-1zM428 373h1v1h-1zM303 298h1v1h-1zM504 558h1v1h-1zM477 696h1v1h-1zM449 448h1v1h-1zM385 680h1v1h-1zM509 240h1v1h-1zM526 165h1v1h-1zM471 758h1v1h-1zM552 186h1v1h-1zM413 263h1v1h-1zM408 465h1v1h-1zM392 385h1v1h-1zM440 294h1v1h-1zM546 643h1v1h-1zM343 356h1v1h-1zM315 512h1v1h-1zM399 203h1v1h-1zM376 437h1v1h-1zM310 137h1v1h-1zM470 219h1v1h-1zM312 343h1v1h-1zM411 765h1v1h-1zM404 233h1v1h-1zM472 682h1v1h-1zM423 585h1v1h-1zM352 384h1v1h-1zM424 138h1v1h-1zM567 702h1v1h-1zM481 684h1v1h-1zM518 280h1v1h-1zM537 363h1v1h-1zM390 262h1v1h-1zM535 423h1v1h-1zM403 701h1v1h-1zM334 656h1v1h-1zM502 186h1v1h-1zM559 258h1v1h-1zM315 781h1v1h-1zM488 376h1v1h-1zM376 199h1v1h-1zM519 709h1v1h-1zM395 139h1v1h-1zM413 264h1v1h-1zM530 220h1v1h-1zM466 755h1v1h-1zM532 561h1v1h-1zM434 271h1v1h-1zM301 743h1v1h-1zM359 734h1v1h-1zM362 544h1v1h-1zM303 782h1v1h-1zM539 326h1v1h-1zM541 356h1v1h-1zM451 488h1v1h-1zM392 192h1v1h-1zM516 604h1v1h-1zM531 584h1v1h-1zM358 431h1v1h-1zM438 332h1v1h-1zM428 444h1v1h-1zM571 200h1v1h-1zM562 202h1v1h-1zM476 607h1v1h-1zM502 626h1v1h-1zM395 222h1v1h-1zM482 603h1v1h-1zM317 260h1v1h-1zM497 283h1v1h-1zM523 199h1v1h-1zM359 257h1v1h-1zM549 216h1v1h-1zM506 246h1v1h-1zM359 243h1v1h-1zM516 701h1v1h-1zM370 417h1v1h-1zM568 184h1v1h-1zM300 339h1v1h-1zM338 274h1v1h-1zM421 297h1v1h-1zM312 357h1v1h-1zM498 659h1v1h-1zM393 352h1v1h-1zM494 292h1v1h-1zM296 494h1v1h-1zM415 325h1v1h-1zM391 676h1v1h-1zM432 756h1v1h-1zM437 404h1v1h-1zM390 399h1v1h-1zM397 698h1v1h-1zM466 307h1v1h-1zM302 398h1v1h-1zM308 452h1v1h-1zM309 731h1v1h-1zM412 203h1v1h-1zM340 330h1v1h-1zM361 613h1v1h-1zM475 136h1v1h-1zM377 753h1v1h-1zM413 772h1v1h-1zM407 731h1v1h-1zM454 237h1v1h-1zM434 388h1v1h-1zM489 305h1v1h-1zM404 815h1v1h-1zM303 383h1v1h-1zM511 274h1v1h-1zM569 437h1v1h-1zM554 755h1v1h-1zM572 171h1v1h-1zM376 706h1v1h-1zM409 434h1v1h-1zM352 724h1v1h-1zM491 665h1v1h-1zM530 317h1v1h-1zM332 368h1v1h-1zM392 142h1v1h-1zM557 311h1v1h-1zM534 617h1v1h-1zM361 437h1v1h-1zM557 673h1v1h-1zM399 417h1v1h-1zM340 734h1v1h-1zM442 766h1v1h-1zM426 697h1v1h-1zM395 430h1v1h-1zM446 516h1v1h-1zM510 639h1v1h-1zM570 324h1v1h-1zM471 284h1v1h-1zM542 666h1v1h-1zM462 771h1v1h-1zM369 528h1v1h-1zM350 152h1v1h-1zM406 581h1v1h-1zM537 753h1v1h-1zM569 505h1v1h-1zM426 227h1v1h-1zM569 186h1v1h-1zM508 626h1v1h-1zM535 305h1v1h-1zM489 658h1v1h-1zM441 304h1v1h-1zM382 309h1v1h-1zM553 362h1v1h-1zM438 225h1v1h-1zM520 141h1v1h-1zM570 339h1v1h-1zM518 214h1v1h-1zM524 302h1v1h-1zM471 513h1v1h-1zM347 763h1v1h-1zM530 701h1v1h-1zM290 713h1v1h-1zM454 327h1v1h-1zM427 484h1v1h-1zM569 662h1v1h-1zM312 798h1v1h-1zM465 429h1v1h-1zM515 372h1v1h-1zM395 583h1v1h-1zM407 567h1v1h-1zM468 750h1v1h-1zM427 612h1v1h-1zM531 785h1v1h-1zM379 377h1v1h-1zM568 478h1v1h-1zM473 395h1v1h-1zM512 643h1v1h-1zM420 757h1v1h-1zM424 526h1v1h-1zM513 538h1v1h-1zM494 567h1v1h-1zM362 670h1v1h-1zM511 709h1v1h-1zM408 290h1v1h-1zM388 229h1v1h-1zM316 417h1v1h-1zM525 155h1v1h-1zM373 469h1v1h-1zM295 189h1v1h-1zM531 637h1v1h-1zM411 739h1v1h-1zM343 169h1v1h-1zM411 621h1v1h-1zM479 505h1v1h-1zM345 559h1v1h-1zM536 364h1v1h-1zM391 297h1v1h-1zM540 632h1v1h-1zM428 372h1v1h-1zM318 228h1v1h-1zM317 326h1v1h-1zM492 239h1v1h-1zM405 146h1v1h-1zM423 167h1v1h-1zM459 382h1v1h-1zM522 335h1v1h-1zM332 795h1v1h-1zM566 165h1v1h-1zM389 404h1v1h-1zM517 470h1v1h-1zM364 608h1v1h-1zM564 338h1v1h-1zM509 676h1v1h-1zM416 154h1v1h-1zM403 324h1v1h-1zM418 425h1v1h-1zM292 514h1v1h-1zM520 399h1v1h-1zM294 639h1v1h-1zM424 262h1v1h-1zM496 809h1v1h-1zM455 552h1v1h-1zM451 205h1v1h-1zM471 535h1v1h-1zM470 141h1v1h-1zM442 659h1v1h-1zM364 604h1v1h-1zM418 548h1v1h-1zM298 388h1v1h-1zM555 576h1v1h-1zM566 570h1v1h-1zM555 512h1v1h-1zM571 242h1v1h-1zM540 638h1v1h-1zM418 440h1v1h-1zM508 744h1v1h-1zM534 215h1v1h-1zM470 294h1v1h-1zM349 539h1v1h-1zM443 511h1v1h-1zM295 642h1v1h-1zM312 696h1v1h-1zM323 596h1v1h-1zM547 374h1v1h-1zM527 655h1v1h-1zM297 718h1v1h-1zM557 669h1v1h-1zM383 364h1v1h-1zM323 327h1v1h-1zM542 606h1v1h-1zM502 786h1v1h-1zM534 555h1v1h-1zM525 679h1v1h-1zM476 339h1v1h-1zM571 675h1v1h-1zM415 734h1v1h-1zM341 206h1v1h-1zM416 786h1v1h-1zM366 697h1v1h-1zM469 574h1v1h-1zM377 445h1v1h-1zM292 276h1v1h-1zM449 653h1v1h-1zM518 203h1v1h-1zM508 723h1v1h-1zM299 701h1v1h-1zM497 594h1v1h-1zM517 663h1v1h-1zM434 456h1v1h-1zM395 409h1v1h-1zM502 373h1v1h-1zM555 574h1v1h-1zM431 803h1v1h-1zM532 686h1v1h-1zM359 211h1v1h-1zM328 421h1v1h-1zM368 205h1v1h-1zM441 490h1v1h-1zM556 769h1v1h-1zM380 651h1v1h-1zM482 365h1v1h-1zM437 814h1v1h-1zM361 597h1v1h-1zM319 729h1v1h-1zM503 626h1v1h-1zM483 205h1v1h-1zM381 669h1v1h-1zM571 200h1v1h-1zM464 613h1v1h-1zM406 345h1v1h-1zM571 408h1v1h-1zM419 730h1v1h-1zM529 382h1v1h-1zM527 179h1v1h-1zM469 699h1v1h-1zM503 287h1v1h-1zM418 330h1v1h-1zM557 600h1v1h-1zM495 278h1v1h-1zM480 809h1v1h-1zM467 384h1v1h-1zM510 546h1v1h-1zM380 226h1v1h-1zM345 294h1v1h-1zM477 522h1v1h-1zM444 505h1v1h-1zM413 299h1v1h-1zM369 544h1v1h-1zM437 497h1v1h-1zM424 315h1v1h-1zM508 346h1v1h-1zM342 642h1v1h-1zM485 598h1v1h-1zM523 205h1v1h-1zM303 508h1v1h-1zM493 772h1v1h-1zM539 211h1v1h-1zM505 145h1v1h-1zM537 188h1v1h-1zM330 286h1v1h-1zM452 375h1v1h-1zM368 558h1v1h-1zM518 383h1v1h-1zM428 675h1v1h-1zM447 475h1v1h-1zM467 466h1v1h-1zM562 821h1v1h-1zM329 472h1v1h-1zM542 825h1v1h-1zM444 373h1v1h-1zM382 564h1v1h-1zM435 252h1v1h-1zM479 161h1v1h-1zM557 298h1v1h-1zM360 827h1v1h-1zM441 581h1v1h-1zM552 653h1v1h-1zM556 451h1v1h-1zM343 805h1v1h-1zM565 293h1v1h-1zM327 601h1v1h-1zM423 581h1v1h-1zM567 273h1v1h-1zM425 750h1v1h-1zM522 588h1v1h-1zM561 178h1v1h-1zM292 436h1v1h-1zM488 625h1v1h-1zM411 458h1v1h-1zM555 432h1v1h-1zM462 536h1v1h-1zM476 196h1v1h-1zM486 445h1v1h-1zM314 687h1v1h-1zM342 726h1v1h-1zM498 234h1v1h-1zM464 595h1v1h-1zM395 636h1v1h-1zM539 573h1v1h-1zM408 673h1v1h-1zM317 383h1v1h-1zM374 622h1v1h-1zM458 661h1v1h-1zM550 531h1v1h-1zM483 540h1v1h-1zM519 161h1v1h-1zM528 308h1v1h-1zM427 705h1v1h-1zM365 219h1v1h-1zM548 765h1v1h-1zM522 216h1v1h-1zM312 765h1v1h-1zM436 658h1v1h-1zM313 556h1v1h-1zM450 337h1v1h-1zM544 663h1v1h-1zM308 764h1v1h-1zM488 801h1v1h-1zM531 246h1v1h-1zM382 655h1v1h-1zM377 606h1v1h-1zM523 408h1v1h-1zM541 325h1v1h-1zM374 459h1v1h-1zM397 392h1v1h-1zM505 602h1v1h-1zM362 257h1v1h-1zM566 612h1v1h-1zM446 206h1v1h-1zM382 439h1v1h-1zM378 170h1v1h-1zM381 786h1v1h-1zM308 525h1v1h-1zM406 399h1v1h-1zM330 529h1v1h-1zM394 534h1v1h-1zM535 145h1v1h-1zM377 462h1v1h-1zM307 299h1v1h-1zM403 583h1v1h-1zM426 297h1v1h-1zM328 603h1v1h-1zM420 262h1v1h-1zM332 723h1v1h-1zM517 649h1v1h-1zM528 141h1v1h-1zM525 556h1v1h-1zM517 318h1v1h-1zM460 736h1v1h-1zM513 277h1v1h-1zM428 584h1v1h-1zM542 489h1v1h-1zM303 439h1v1h-1zM558 359h1v1h-1zM375 817h1v1h-1zM399 416h1v1h-1zM474 430h1v1h-1zM453 191h1v1h-1zM360 199h1v1h-1zM432 608h1v1h-1zM301 439h1v1h-1zM393 780h1v1h-1zM296 502h1v1h-1zM565 690h1v1h-1zM325 636h1v1h-1zM556 223h1v1h-1zM444 266h1v1h-1zM403 704h1v1h-1zM368 719h1v1h-1zM476 626h1v1h-1zM430 332h1v1h-1zM511 399h1v1h-1zM480 343h1v1h-1zM547 520h1v1h-1zM560 761h1v1h-1zM442 461h1v1h-1zM472 139h1v1h-1zM359 266h1v1h-1zM379 231h1v1h-1zM487 678h1v1h-1zM561 638h1v1h-1zM463 518h1v1h-1zM454 440h1v1h-1zM293 576h1v1h-1zM483 706h1v1h-1zM520 217h1v1h-1zM441 619h1v1h-1zM318 797h1v1h-1zM462 232h1v1h-1zM333 611h1v1h-1zM560 500h1v1h-1zM335 433h1v1h-1zM548 209h1v1h-1zM399 784h1v1h-1zM533 714h1v1h-1zM330 536h1v1h-1zM436 765h1v1h-1zM313 544h1v1h-1zM504 359h1v1h-1zM410 744h1v1h-1zM399 543h1v1h-1zM364 493h1v1h-1zM479 147h1v1h-1zM534 212h1v1h-1zM332 568h1v1h-1zM318 737h1v1h-1zM389 530h1v1h-1zM523 282h1v1h-1zM296 661h1v1h-1zM450 276h1v1h-1zM564 734h1v1h-1zM397 641h1v1h-1zM448 537h1v1h-1zM315 627h1v1h-1zM518 282h1v1h-1zM377 544h1v1h-1zM437 777h1v1h-1zM307 232h1v1h-1zM509 361h1v1h-1zM499 209h1v1h-1zM522 321h1v1h-1zM384 629h1v1h-1zM380 694h1v1h-1zM362 722h1v1h-1zM387 380h1v1h-1zM303 690h1v1h-1zM443 352h1v1h-1zM447 749h1v1h-1zM408 544h1v1h-1zM411 632h1v1h-1zM528 223h1v1h-1zM546 773h1v1h-1zM505 527h1v1h-1zM507 504h1v1h-1zM381 451h1v1h-1zM323 384h1v1h-1zM291 594h1v1h-1zM452 372h1v1h-1zM528 339h1v1h-1zM544 600h1v1h-1zM469 483h1v1h-1zM469 279h1v1h-1zM468 312h1v1h-1zM507 251h1v1h-1zM438 166h1v1h-1zM417 624h1v1h-1zM543 177h1v1h-1zM557 257h1v1h-1zM479 617h1v1h-1zM532 743h1v1h-1zM570 602h1v1h-1zM562 510h1v1h-1zM559 442h1v1h-1zM410 329h1v1h-1zM320 648h1v1h-1zM402 509h1v1h-1zM542 137h1v1h-1zM452 348h1v1h-1zM491 644h1v1h-1zM529 489h1v1h-1zM346 534h1v1h-1zM336 689h1v1h-1zM371 652h1v1h-1zM423 580h1v1h-1zM422 818h1v1h-1zM530 208h1v1h-1zM397 173h1v1h-1zM407 521h1v1h-1zM404 743h1v1h-1zM537 301h1v1h-1zM402 735h1v1h-1zM335 203h1v1h-1zM438 268h1v1h-1zM302 633h1v1h-1zM445 447h1v1h-1zM367 313h1v1h-1zM556 231h1v1h-1zM445 416h1v1h-1zM554 421h1v1h-1zM442 238h1v1h-1zM377 427h1v1h-1zM421 719h1v1h-1zM454 513h1v1h-1zM365 196h1v1h-1zM333 530h1v1h-1zM397 261h1v1h-1zM551 169h1v1h-1zM428 504h1v1h-1zM331 682h1v1h-1zM333 159h1v1h-1zM561 752h1v1h-1zM464 286h1v1h-1zM548 197h1v1h-1zM548 219h1v1h-1zM524 172h1v1h-1zM411 712h1v1h-1zM440 810h1v1h-1zM564 188h1v1h-1zM391 216h1v1h-1zM453 228h1v1h-1zM459 723h1v1h-1zM323 784h1v1h-1zM353 661h1v1h-1zM475 327h1v1h-1zM368 275h1v1h-1zM406 583h1v1h-1zM397 222h1v1h-1zM403 150h1v1h-1zM471 796h1v1h-1zM292 564h1v1h-1zM353 252h1v1h-1zM555 619h1v1h-1zM318 247h1v1h-1zM349 770h1v1h-1zM328 678h1v1h-1zM317 423h1v1h-1zM557 692h1v1h-1zM517 804h1v1h-1zM493 478h1v1h-1zM468 649h1v1h-1zM477 177h1v1h-1zM397 164h1v1h-1zM387 492h1v1h-1zM504 628h1v1h-1zM513 765h1v1h-1zM402 617h1v1h-1zM399 730h1v1h-1zM419 554h1v1h-1zM517 393h1v1h-1zM332 599h1v1h-1zM303 337h1v1h-1zM485 176h1v1h-1zM400 378h1v1h-1zM423 320h1v1h-1zM368 145h1v1h-1zM357 171h1v1h-1zM385 142h1v1h-1zM449 715h1v1h-1zM549 523h1v1h-1zM380 213h1v1h-1zM461 322h1v1h-1zM292 464h1v1h-1zM354 149h1v1h-1zM396 556h1v1h-1zM452 195h1v1h-1zM460 250h1v1h-1zM450 360h1v1h-1zM415 233h1v1h-1zM353 460h1v1h-1zM470 203h1v1h-1zM405 675h1v1h-1zM313 548h1v1h-1zM538 420h1v1h-1zM380 779h1v1h-1zM412 175h1v1h-1zM395 808h1v1h-1zM442 812h1v1h-1zM300 440h1v1h-1zM565 645h1v1h-1zM538 225h1v1h-1zM558 137h1v1h-1zM490 762h1v1h-1zM378 492h1v1h-1zM453 183h1v1h-1zM290 573h1v1h-1zM534 270h1v1h-1zM320 404h1v1h-1zM439 231h1v1h-1zM497 572h1v1h-1zM353 649h1v1h-1zM461 551h1v1h-1zM514 396h1v1h-1zM560 216h1v1h-1zM423 692h1v1h-1zM377 499h1v1h-1zM389 268h1v1h-1zM536 819h1v1h-1zM471 644h1v1h-1zM487 455h1v1h-1zM476 366h1v1h-1zM448 357h1v1h-1zM368 156h1v1h-1zM333 440h1v1h-1zM459 721h1v1h-1zM513 230h1v1h-1zM350 581h1v1h-1zM526 460h1v1h-1zM497 188h1v1h-1zM438 793h1v1h-1zM544 733h1v1h-1zM398 465h1v1h-1zM493 228h1v1h-1zM497 197h1v1h-1zM539 242h1v1h-1zM330 182h1v1h-1zM461 499h1v1h-1zM354 575h1v1h-1zM515 185h1v1h-1zM329 478h1v1h-1zM542 317h1v1h-1zM548 388h1v1h-1zM499 403h1v1h-1zM317 371h1v1h-1zM450 474h1v1h-1zM332 577h1v1h-1zM547 233h1v1h-1zM431 703h1v1h-1zM316 486h1v1h-1zM414 498h1v1h-1zM558 239h1v1h-1zM407 460h1v1h-1zM373 709h1v1h-1zM565 413h1v1h-1zM395 701h1v1h-1zM407 239h1v1h-1zM340 211h1v1h-1zM528 435h1v1h-1zM426 765h1v1h-1zM484 221h1v1h-1zM489 743h1v1h-1zM464 227h1v1h-1zM321 371h1v1h-1zM473 779h1v1h-1zM421 806h1v1h-1zM289 215h1v1h-1zM340 303h1v1h-1zM528 801h1v1h-1zM382 497h1v1h-1zM364 435h1v1h-1zM476 748h1v1h-1zM298 164h1v1h-1zM306 669h1v1h-1zM431 706h1v1h-1zM352 630h1v1h-1zM480 534h1v1h-1zM438 367h1v1h-1zM457 224h1v1h-1zM548 644h1v1h-1zM389 550h1v1h-1zM394 657h1v1h-1zM309 152h1v1h-1zM305 253h1v1h-1zM310 488h1v1h-1zM328 358h1v1h-1zM404 791h1v1h-1zM358 700h1v1h-1zM414 150h1v1h-1zM365 597h1v1h-1zM555 460h1v1h-1zM330 708h1v1h-1zM306 745h1v1h-1zM306 568h1v1h-1zM514 720h1v1h-1zM308 161h1v1h-1zM439 629h1v1h-1zM532 564h1v1h-1zM403 141h1v1h-1zM515 221h1v1h-1zM510 229h1v1h-1zM444 346h1v1h-1zM400 779h1v1h-1zM347 428h1v1h-1zM570 565h1v1h-1zM328 686h1v1h-1zM555 204h1v1h-1zM463 296h1v1h-1zM414 329h1v1h-1zM384 495h1v1h-1zM373 293h1v1h-1zM480 772h1v1h-1zM533 355h1v1h-1zM542 795h1v1h-1zM350 572h1v1h-1zM570 573h1v1h-1zM335 589h1v1h-1zM408 244h1v1h-1zM452 767h1v1h-1zM320 464h1v1h-1zM500 201h1v1h-1zM533 640h1v1h-1zM463 171h1v1h-1zM371 158h1v1h-1zM465 157h1v1h-1zM347 530h1v1h-1zM349 361h1v1h-1zM471 552h1v1h-1zM324 232h1v1h-1zM505 821h1v1h-1zM526 459h1v1h-1zM494 667h1v1h-1zM359 150h1v1h-1zM428 339h1v1h-1zM487 753h1v1h-1zM521 512h1v1h-1zM370 534h1v1h-1zM545 786h1v1h-1zM380 716h1v1h-1zM566 732h1v1h-1zM394 513h1v1h-1zM303 397h1v1h-1zM540 402h1v1h-1zM519 435h1v1h-1zM409 304h1v1h-1zM546 432h1v1h-1zM353 600h1v1h-1zM331 635h1v1h-1zM519 626h1v1h-1zM494 479h1v1h-1zM561 227h1v1h-1zM373 481h1v1h-1zM380 789h1v1h-1zM498 640h1v1h-1zM498 651h1v1h-1zM417 741h1v1h-1zM289 184h1v1h-1zM564 391h1v1h-1zM353 609h1v1h-1zM563 793h1v1h-1zM523 336h1v1h-1zM483 558h1v1h-1zM424 135h1v1h-1zM561 694h1v1h-1zM547 723h1v1h-1zM300 424h1v1h-1zM454 697h1v1h-1zM356 798h1v1h-1zM526 586h1v1h-1zM298 514h1v1h-1zM404 486h1v1h-1zM327 566h1v1h-1zM302 761h1v1h-1zM373 212h1v1h-1zM515 470h1v1h-1zM449 702h1v1h-1zM386 691h1v1h-1zM449 740h1v1h-1zM502 489h1v1h-1zM380 643h1v1h-1zM418 566h1v1h-1zM500 651h1v1h-1zM445 397h1v1h-1zM534 588h1v1h-1zM487 206h1v1h-1zM338 232h1v1h-1zM432 562h1v1h-1zM340 306h1v1h-1zM418 286h1v1h-1zM432 599h1v1h-1zM562 313h1v1h-1zM489 541h1v1h-1zM310 201h1v1h-1zM556 364h1v1h-1zM355 827h1v1h-1zM466 433h1v1h-1zM563 406h1v1h-1zM563 658h1v1h-1zM379 766h1v1h-1zM482 723h1v1h-1zM529 444h1v1h-1zM428 250h1v1h-1zM538 218h1v1h-1zM331 375h1v1h-1zM437 696h1v1h-1zM540 614h1v1h-1zM546 344h1v1h-1zM367 494h1v1h-1zM571 505h1v1h-1zM370 486h1v1h-1zM515 411h1v1h-1zM312 386h1v1h-1zM443 243h1v1h-1zM322 191h1v1h-1zM455 371h1v1h-1zM513 785h1v1h-1zM304 376h1v1h-1zM488 513h1v1h-1zM469 400h1v1h-1zM559 525h1v1h-1zM393 447h1v1h-1zM295 620h1v1h-1zM314 322h1v1h-1zM349 725h1v1h-1zM362 262h1v1h-1zM520 243h1v1h-1zM398 796h1v1h-1zM349 526h1v1h-1zM502 557h1v1h-1zM377 350h1v1h-1zM443 695h1v1h-1zM319 758h1v1h-1zM323 576h1v1h-1zM566 740h1v1h-1zM536 251h1v1h-1zM523 164h1v1h-1zM426 518h1v1h-1zM520 641h1v1h-1zM442 524h1v1h-1zM323 662h1v1h-1zM391 167h1v1h-1zM542 418h1v1h-1zM553 250h1v1h-1zM473 592h1v1h-1zM409 381h1v1h-1zM566 174h1v1h-1zM426 646h1v1h-1zM443 652h1v1h-1zM485 569h1v1h-1zM511 347h1v1h-1zM431 473h1v1h-1zM390 608h1v1h-1zM410 469h1v1h-1zM506 408h1v1h-1zM547 256h1v1h-1zM562 402h1v1h-1zM454 437h1v1h-1zM488 665h1v1h-1zM308 621h1v1h-1zM357 527h1v1h-1zM360 454h1v1h-1zM343 194h1v1h-1zM324 497h1v1h-1zM561 440h1v1h-1zM447 703h1v1h-1zM540 723h1v1h-1zM397 620h1v1h-1zM432 150h1v1h-1zM458 416h1v1h-1zM419 818h1v1h-1zM383 272h1v1h-1zM400 698h1v1h-1zM434 653h1v1h-1zM497 393h1v1h-1zM540 746h1v1h-1zM527 481h1v1h-1zM549 659h1v1h-1zM443 237h1v1h-1zM442 802h1v1h-1zM325 295h1v1h-1zM507 139h1v1h-1zM511 425h1v1h-1zM350 485h1v1h-1zM398 400h1v1h-1zM509 694h1v1h-1zM568 479h1v1h-1zM511 704h1v1h-1zM314 711h1v1h-1zM475 633h1v1h-1zM427 590h1v1h-1zM423 213h1v1h-1zM423 508h1v1h-1zM302 814h1v1h-1zM441 459h1v1h-1zM428 794h1v1h-1zM570 433h1v1h-1zM436 168h1v1h-1zM444 627h1v1h-1zM561 177h1v1h-1zM408 192h1v1h-1zM383 375h1v1h-1zM423 793h1v1h-1zM473 660h1v1h-1zM429 673h1v1h-1zM565 470h1v1h-1zM401 207h1v1h-1zM420 698h1v1h-1zM332 715h1v1h-1zM325 626h1v1h-1zM558 553h1v1h-1zM339 550h1v1h-1zM563 728h1v1h-1zM560 761h1v1h-1zM506 665h1v1h-1zM293 320h1v1h-1zM344 547h1v1h-1zM364 712h1v1h-1zM509 165h1v1h-1zM560 354h1v1h-1zM385 467h1v1h-1zM563 632h1v1h-1zM295 539h1v1h-1zM563 405h1v1h-1zM390 801h1v1h-1zM349 269h1v1h-1zM348 386h1v1h-1zM352 520h1v1h-1zM461 553h1v1h-1zM367 736h1v1h-1zM467 652h1v1h-1zM389 508h1v1h-1zM451 625h1v1h-1zM380 592h1v1h-1zM568 174h1v1h-1zM347 485h1v1h-1zM319 393h1v1h-1zM355 455h1v1h-1zM529 654h1v1h-1zM531 608h1v1h-1zM400 341h1v1h-1zM366 271h1v1h-1zM484 726h1v1h-1zM494 701h1v1h-1zM444 805h1v1h-1zM553 576h1v1h-1zM438 568h1v1h-1zM308 751h1v1h-1zM297 569h1v1h-1zM520 232h1v1h-1zM318 501h1v1h-1zM367 760h1v1h-1zM550 823h1v1h-1zM418 604h1v1h-1zM484 485h1v1h-1zM431 556h1v1h-1zM417 342h1v1h-1zM506 404h1v1h-1zM520 423h1v1h-1zM562 649h1v1h-1zM468 560h1v1h-1zM483 305h1v1h-1zM542 228h1v1h-1zM446 620h1v1h-1zM497 180h1v1h-1zM355 574h1v1h-1zM548 349h1v1h-1zM545 167h1v1h-1zM454 630h1v1h-1zM498 735h1v1h-1zM525 239h1v1h-1zM295 466h1v1h-1zM468 506h1v1h-1zM436 294h1v1h-1zM504 164h1v1h-1zM348 290h1v1h-1zM371 316h1v1h-1zM363 293h1v1h-1zM299 670h1v1h-1zM404 648h1v1h-1zM322 258h1v1h-1zM571 613h1v1h-1zM414 730h1v1h-1zM425 198h1v1h-1zM301 503h1v1h-1zM436 520h1v1h-1zM385 181h1v1h-1zM380 508h1v1h-1zM483 367h1v1h-1zM457 511h1v1h-1zM487 306h1v1h-1zM471 771h1v1h-1zM307 808h1v1h-1zM512 189h1v1h-1zM313 423h1v1h-1zM299 417h1v1h-1zM373 383h1v1h-1zM397 517h1v1h-1zM453 346h1v1h-1zM555 140h1v1h-1zM398 685h1v1h-1zM357 455h1v1h-1zM525 254h1v1h-1zM372 574h1v1h-1zM418 506h1v1h-1zM385 297h1v1h-1zM434 655h1v1h-1zM548 475h1v1h-1zM557 814h1v1h-1zM565 254h1v1h-1zM529 711h1v1h-1zM488 589h1v1h-1zM451 663h1v1h-1zM549 698h1v1h-1zM470 321h1v1h-1zM386 673h1v1h-1zM563 549h1v1h-1zM459 463h1v1h-1zM491 223h1v1h-1zM307 519h1v1h-1zM500 477h1v1h-1zM572 517h1v1h-1zM408 580h1v1h-1zM537 188h1v1h-1zM379 367h1v1h-1zM414 778h1v1h-1zM570 304h1v1h-1zM564 183h1v1h-1zM556 141h1v1h-1zM520 155h1v1h-1zM372 175h1v1h-1zM364 183h1v1h-1zM505 666h1v1h-1zM485 316h1v1h-1zM477 353h1v1h-1zM547 359h1v1h-1zM361 266h1v1h-1zM342 315h1v1h-1zM365 327h1v1h-1zM525 503h1v1h-1zM419 625h1v1h-1zM545 738h1v1h-1zM310 631h1v1h-1zM485 444h1v1h-1zM420 649h1v1h-1zM492 785h1v1h-1zM569 338h1v1h-1zM388 305h1v1h-1zM390 490h1v1h-1zM334 581h1v1h-1zM448 272h1v1h-1zM386 210h1v1h-1zM425 722h1v1h-1zM459 525h1v1h-1zM462 710h1v1h-1zM471 627h1v1h-1zM395 342h1v1h-1zM532 291h1v1h-1zM500 251h1v1h-1zM491 731h1v1h-1zM473 338h1v1h-1zM517 631h1v1h-1zM545 760h1v1h-1zM305 755h1v1h-1zM343 612h1v1h-1zM367 160h1v1h-1zM379 174h1v1h-1zM362 439h1v1h-1zM438 741h1v1h-1zM450 417h1v1h-1zM486 695h1v1h-1zM356 292h1v1h-1zM493 421h1v1h-1zM419 816h1v1h-1zM378 235h1v1h-1zM478 206h1v1h-1zM496 553h1v1h-1zM563 338h1v1h-1zM298 490h1v1h-1zM400 166h1v1h-1zM380 140h1v1h-1zM558 723h1v1h-1zM309 328h1v1h-1zM568 268h1v1h-1zM510 789h1v1h-1zM319 200h1v1h-1zM558 392h1v1h-1zM427 339h1v1h-1zM343 221h1v1h-1zM296 762h1v1h-1zM396 350h1v1h-1zM544 334h1v1h-1zM312 550h1v1h-1zM396 462h1v1h-1zM552 495h1v1h-1zM333 710h1v1h-1zM377 508h1v1h-1zM526 269h1v1h-1zM526 765h1v1h-1zM372 503h1v1h-1zM421 614h1v1h-1zM561 142h1v1h-1zM427 642h1v1h-1zM524 817h1v1h-1zM493 390h1v1h-1zM355 181h1v1h-1zM557 137h1v1h-1zM426 306h1v1h-1zM470 564h1v1h-1zM421 635h1v1h-1zM511 271h1v1h-1zM530 351h1v1h-1zM555 315h1v1h-1z" fill="#9c9c9c"/>
<path d="M359.0 125.0l5.5 -5.5M367.0 125.0l4.2 -4.2M360.7 131.3l4.2 -4.2M375.0 125.0l2.9 -2.9M370.0 130.0l2.9 -2.9M363.3 136.7l4.4 -4.4M383.0 125.0l3.1 -3.1M363.4 144.6l4.9 -4.9M357.1 150.9l3.7 -3.7M391.0 125.0l4.0 -4.0M383.4 132.6l5.6 -5.6M368.3 147.7l4.7 -4.7M360.7 155.3l3.4 -3.4M385.1 138.9l4.6 -4.6M370.0 154.0l5.3 -5.3M362.3 161.7l5.0 -5.0M400.2 131.8l4.6 -4.6M393.0 139.0l4.9 -4.9M384.0 148.0l3.2 -3.2M377.4 154.6l4.7 -4.7M370.3 161.7l4.8 -4.8M363.5 168.5l4.7 -4.7M399.1 140.9l5.3 -5.3M392.2 147.8l3.0 -3.0M386.8 153.2l3.5 -3.5M366.2 173.8l5.2 -5.2M396.2 151.8l5.0 -5.0M387.7 160.3l3.4 -3.4M380.2 167.8l4.8 -4.8M372.6 175.4l4.6 -4.6M365.3 182.7l3.2 -3.2M359.4 188.6l4.5 -4.5M398.3 157.7l5.3 -5.3M388.8 167.2l5.0 -5.0M381.1 174.9l4.4 -4.4M374.0 182.0l3.8 -3.8M368.4 187.6l4.0 -4.0M362.2 193.8l2.8 -2.8M401.2 162.8l5.6 -5.6M393.4 170.6l5.1 -5.1M386.7 177.3l5.1 -5.1M368.8 195.2l4.8 -4.8M361.6 202.4l3.3 -3.3M393.7 178.3l5.4 -5.4M369.5 202.5l3.1 -3.1M363.1 208.9l5.3 -5.3M403.7 176.3l5.2 -5.2M395.1 184.9l4.5 -4.5M381.2 198.8l3.1 -3.1M375.7 204.3l4.9 -4.9M368.9 211.1l2.9 -2.9M362.0 218.0l3.4 -3.4M402.1 185.9l3.4 -3.4M396.5 191.5l5.2 -5.2M387.9 200.1l4.6 -4.6M379.7 208.3l4.3 -4.3M373.5 214.5l4.2 -4.2M361.4 226.6l3.3 -3.3M401.5 194.5l3.2 -3.2M395.2 200.8l3.0 -3.0M388.2 207.8l4.9 -4.9M372.7 223.3l3.8 -3.8M360.2 235.8l3.0 -3.0M403.2 200.8l5.2 -5.2M388.6 215.4l5.4 -5.4M374.4 229.6l3.3 -3.3M368.6 235.4l4.9 -4.9M397.4 214.6l5.1 -5.1M388.4 223.6l4.5 -4.5M382.5 229.5l4.4 -4.4M375.4 236.6l3.2 -3.2M361.1 250.9l3.8 -3.8M404.8 215.2l4.9 -4.9M387.8 232.2l5.0 -5.0M379.4 240.6l3.5 -3.5M374.1 245.9l4.9 -4.9M366.6 253.4l5.0 -5.0M401.9 226.1l5.3 -5.3M395.0 233.0l4.8 -4.8M386.6 241.4l5.2 -5.2M377.9 250.1l3.5 -3.5M370.7 257.3l3.8 -3.8M364.4 263.6l2.9 -2.9M408.9 227.1l3.7 -3.7M402.8 233.2l3.1 -3.1M389.0 247.0l3.6 -3.6M381.7 254.3l4.7 -4.7M374.3 261.7l3.1 -3.1M367.6 268.4l4.4 -4.4M404.1 239.9l3.5 -3.5M396.4 247.6l3.7 -3.7M381.9 262.1l5.0 -5.0M373.7 270.3l3.1 -3.1M368.5 275.5l4.9 -4.9M408.5 243.5l3.5 -3.5M402.8 249.2l3.5 -3.5M397.3 254.7l4.2 -4.2M389.6 262.4l5.5 -5.5M380.6 271.4l4.3 -4.3M373.9 278.1l4.6 -4.6M366.2 285.8l3.1 -3.1M405.0 255.0l5.4 -5.4M390.9 269.1l5.4 -5.4M383.6 276.4l3.0 -3.0M378.4 281.6l3.2 -3.2M372.1 287.9l4.6 -4.6M365.1 294.9l4.6 -4.6M405.9 262.1l4.3 -4.3M390.8 277.2l4.1 -4.1M384.3 283.7l5.2 -5.2M376.4 291.6l3.6 -3.6M370.1 297.9l4.5 -4.5M409.7 266.3l4.3 -4.3M403.0 273.0l4.5 -4.5M394.6 281.4l3.9 -3.9M387.1 288.9l5.1 -5.1M379.5 296.5l5.0 -5.0M402.0 282.0l3.5 -3.5M396.7 287.3l5.1 -5.1M390.0 294.0l4.6 -4.6M381.2 302.8l4.5 -4.5M375.2 308.8l5.0 -5.0M409.3 282.7l5.2 -5.2M401.2 290.8l5.4 -5.4M394.1 297.9l5.1 -5.1M386.7 305.3l5.3 -5.3M377.3 314.7l5.2 -5.2M368.1 323.9l3.6 -3.6M399.8 300.2l3.7 -3.7M383.0 317.0l5.4 -5.4M374.2 325.8l4.9 -4.9M366.5 333.5l4.8 -4.8M407.2 300.8l5.2 -5.2M393.9 314.1l4.0 -4.0M387.5 320.5l4.4 -4.4M381.4 326.6l2.9 -2.9M410.5 305.5l3.5 -3.5M404.9 311.1l3.9 -3.9M398.1 317.9l4.0 -4.0M380.7 335.3l3.5 -3.5M374.7 341.3l3.9 -3.9M367.1 348.9l4.2 -4.2M397.5 326.5l3.6 -3.6M391.3 332.7l2.8 -2.8M384.8 339.2l4.4 -4.4M379.0 345.0l5.0 -5.0M371.3 352.7l4.0 -4.0M412.6 319.4l5.2 -5.2M396.3 335.7l5.2 -5.2M387.5 344.5l5.1 -5.1M379.6 352.4l4.2 -4.2M371.4 360.6l4.3 -4.3M406.9 333.1l4.3 -4.3M399.4 340.6l5.2 -5.2M391.5 348.5l5.4 -5.4M382.2 357.8l5.5 -5.5M374.2 365.8l3.0 -3.0M403.5 344.5l4.9 -4.9M395.8 352.2l5.6 -5.6M381.6 366.4l5.6 -5.6M413.5 342.5l4.9 -4.9M406.2 349.8l4.1 -4.1M398.9 357.1l5.2 -5.2M390.3 365.7l4.9 -4.9M381.7 374.3l3.8 -3.8M373.9 382.1l3.2 -3.2M414.3 349.7l3.1 -3.1M408.5 355.5l4.0 -4.0M401.9 362.1l5.1 -5.1M386.7 377.3l4.0 -4.0M380.3 383.7l3.0 -3.0M373.7 390.3l3.6 -3.6M401.3 370.7l4.9 -4.9M394.6 377.4l3.8 -3.8M389.2 382.8l5.4 -5.4M380.1 391.9l3.6 -3.6M409.0 371.0l3.8 -3.8M402.8 377.2l3.1 -3.1M391.6 388.4l3.4 -3.4M386.1 393.9l4.9 -4.9M372.0 408.0l4.1 -4.1M409.3 378.7l4.1 -4.1M402.3 385.7l3.0 -3.0M387.1 400.9l5.2 -5.2M378.7 409.3l4.9 -4.9M370.5 417.5l3.7 -3.7M412.2 383.8l3.1 -3.1M406.9 389.1l4.0 -4.0M399.3 396.7l5.1 -5.1M391.0 405.0l3.1 -3.1M377.1 418.9l4.1 -4.1M411.3 392.7l4.8 -4.8M394.5 409.5l4.3 -4.3M387.5 416.5l3.8 -3.8M380.3 423.7l3.7 -3.7M375.0 429.0l2.8 -2.8M407.5 404.5l4.3 -4.3M401.5 410.5l5.1 -5.1M379.5 432.5l4.7 -4.7M371.1 440.9l3.7 -3.7M413.9 406.1l4.9 -4.9M407.5 412.5l2.9 -2.9M400.3 419.7l5.0 -5.0M391.8 428.2l3.5 -3.5M385.0 435.0l3.4 -3.4M372.2 447.8l3.3 -3.3M413.0 415.0l4.0 -4.0M404.9 423.1l3.5 -3.5M397.9 430.1l5.5 -5.5M382.0 446.0l5.4 -5.4M372.8 455.2l3.9 -3.9M416.0 420.0l5.5 -5.5M401.7 434.3l3.3 -3.3M394.3 441.7l3.8 -3.8M387.4 448.6l3.9 -3.9M380.4 455.6l4.0 -4.0M374.1 461.9l3.6 -3.6M410.4 433.6l5.2 -5.2M403.1 440.9l3.5 -3.5M395.7 448.3l3.2 -3.2M389.6 454.4l5.3 -5.3M380.1 463.9l5.6 -5.6M414.5 437.5l4.1 -4.1M408.3 443.7l4.6 -4.6M400.0 452.0l5.5 -5.5M391.1 460.9l4.4 -4.4M385.2 466.8l5.6 -5.6M413.1 446.9l4.7 -4.7M404.6 455.4l4.9 -4.9M397.4 462.6l3.2 -3.2M392.1 467.9l5.1 -5.1M385.4 474.6l4.9 -4.9M376.6 483.4l3.8 -3.8M415.8 452.2l3.9 -3.9M409.0 459.0l5.3 -5.3M400.0 468.0l3.3 -3.3M393.7 474.3l3.9 -3.9M378.9 489.1l5.1 -5.1M413.9 462.1l4.5 -4.5M408.0 468.0l4.4 -4.4M402.1 473.9l4.3 -4.3M393.7 482.3l3.1 -3.1M381.8 494.2l3.2 -3.2M419.3 464.7l5.2 -5.2M410.1 473.9l4.9 -4.9M402.8 481.2l3.5 -3.5M396.0 488.0l5.3 -5.3M387.5 496.5l5.0 -5.0M417.0 475.0l3.6 -3.6M409.6 482.4l3.7 -3.7M403.2 488.8l4.7 -4.7M395.7 496.3l4.5 -4.5M389.8 502.2l3.0 -3.0M383.4 508.6l5.0 -5.0M407.4 492.6l4.7 -4.7M378.5 521.5l3.5 -3.5M420.0 488.0l5.5 -5.5M407.7 500.3l4.8 -4.8M399.5 508.5l4.0 -4.0M393.3 514.7l4.8 -4.8M379.3 528.7l3.9 -3.9M420.5 495.5l3.5 -3.5M415.0 501.0l3.4 -3.4M408.2 507.8l3.6 -3.6M400.5 515.5l3.1 -3.1M395.1 520.9l4.7 -4.7M387.3 528.7l4.6 -4.6M417.3 506.7l4.2 -4.2M411.1 512.9l4.5 -4.5M402.7 521.3l4.2 -4.2M396.7 527.3l3.3 -3.3M390.7 533.3l3.7 -3.7M385.2 538.8l4.6 -4.6M411.3 520.7l3.5 -3.5M404.5 527.5l3.5 -3.5M389.3 542.7l3.3 -3.3M383.6 548.4l2.9 -2.9M378.5 553.5l5.3 -5.3M413.4 526.6l4.4 -4.4M406.4 533.6l4.8 -4.8M400.0 540.0l4.8 -4.8M392.7 547.3l4.7 -4.7M385.4 554.6l4.3 -4.3M379.0 561.0l3.1 -3.1M420.9 527.1l4.4 -4.4M412.8 535.2l4.8 -4.8M387.0 561.0l4.7 -4.7M378.4 569.6l3.3 -3.3M417.5 538.5l3.5 -3.5M410.6 545.4l4.0 -4.0M404.0 552.0l4.5 -4.5M396.9 559.1l3.9 -3.9M390.3 565.7l5.1 -5.1M382.9 573.1l3.1 -3.1M418.2 545.8l4.9 -4.9M410.4 553.6l3.5 -3.5M404.9 559.1l5.6 -5.6M397.1 566.9l3.3 -3.3M390.0 574.0l5.3 -5.3M382.1 581.9l4.4 -4.4M420.9 551.1l4.0 -4.0M415.4 556.6l4.3 -4.3M407.1 564.9l4.2 -4.2M401.1 570.9l2.9 -2.9M395.5 576.5l4.0 -4.0M388.2 583.8l4.4 -4.4M422.1 557.9l4.1 -4.1M414.4 565.6l3.7 -3.7M406.6 573.4l5.6 -5.6M392.0 588.0l4.6 -4.6M384.1 595.9l4.7 -4.7M422.2 565.8l4.6 -4.6M414.3 573.7l5.3 -5.3M405.2 582.8l5.6 -5.6M395.9 592.1l3.9 -3.9M388.8 599.2l2.8 -2.8M422.6 573.4l4.5 -4.5M409.3 586.7l3.9 -3.9M403.5 592.5l3.7 -3.7M398.0 598.0l3.9 -3.9M392.2 603.8l5.1 -5.1M383.5 612.5l3.2 -3.2M417.1 586.9l4.3 -4.3M410.1 593.9l3.7 -3.7M404.4 599.6l4.7 -4.7M396.5 607.5l4.0 -4.0M383.8 620.2l5.5 -5.5M417.7 594.3l3.2 -3.2M402.6 609.4l3.1 -3.1M389.7 622.3l3.0 -3.0M383.7 628.3l3.8 -3.8M423.6 596.4l5.5 -5.5M414.3 605.7l2.9 -2.9M393.5 626.5l4.1 -4.1M385.8 634.2l3.9 -3.9M417.0 611.0l5.5 -5.5M396.8 631.2l4.5 -4.5M388.2 639.8l4.8 -4.8M415.8 620.2l4.2 -4.2M407.6 628.4l4.4 -4.4M400.3 635.7l3.2 -3.2M395.2 640.8l5.4 -5.4M388.1 647.9l4.1 -4.1M427.5 616.5l3.9 -3.9M420.0 624.0l3.3 -3.3M414.7 629.3l3.5 -3.5M408.8 635.2l3.7 -3.7M394.9 649.1l3.0 -3.0M411.2 640.8l5.3 -5.3M404.5 647.5l4.2 -4.2M398.5 653.5l3.2 -3.2M391.5 660.5l4.6 -4.6M419.5 640.5l3.5 -3.5M411.8 648.2l3.6 -3.6M405.7 654.3l4.5 -4.5M398.7 661.3l3.0 -3.0M393.5 666.5l3.9 -3.9M386.9 673.1l4.8 -4.8M427.8 640.2l5.4 -5.4M420.9 647.1l3.3 -3.3M414.8 653.2l3.7 -3.7M402.1 665.9l4.8 -4.8M393.9 674.1l3.4 -3.4M418.4 657.6l5.1 -5.1M409.8 666.2l3.3 -3.3M405.1 670.9l4.9 -4.9M389.1 686.9l3.8 -3.8M425.9 658.1l4.8 -4.8M418.1 665.9l4.9 -4.9M410.0 674.0l5.5 -5.5M389.7 694.3l4.0 -4.0M426.5 665.5l5.5 -5.5M417.0 675.0l3.3 -3.3M409.9 682.1l4.7 -4.7M403.3 688.7l3.9 -3.9M397.3 694.7l5.2 -5.2M388.7 703.3l5.4 -5.4M427.6 672.4l5.1 -5.1M420.1 679.9l3.5 -3.5M405.6 694.4l2.8 -2.8M401.3 698.7l4.6 -4.6M388.5 711.5l4.1 -4.1M420.2 687.8l4.7 -4.7M412.8 695.2l4.4 -4.4M405.7 702.3l5.3 -5.3M398.3 709.7l4.4 -4.4M426.7 689.3l5.2 -5.2M418.6 697.4l3.7 -3.7M412.0 704.0l4.7 -4.7M403.3 712.7l5.4 -5.4M394.6 721.4l4.6 -4.6M430.3 693.7l3.9 -3.9M424.3 699.7l4.9 -4.9M417.9 706.1l4.4 -4.4M411.9 712.1l3.3 -3.3M406.5 717.5l5.3 -5.3M399.2 724.8l3.2 -3.2M393.9 730.1l4.6 -4.6M429.4 702.6l5.0 -5.0M421.8 710.2l4.7 -4.7M415.5 716.5l4.6 -4.6M402.1 729.9l5.2 -5.2M395.2 736.8l5.4 -5.4M434.4 705.6l4.2 -4.2M426.9 713.1l3.2 -3.2M420.5 719.5l4.9 -4.9M407.7 732.3l4.7 -4.7M399.3 740.7l4.2 -4.2M393.6 746.4l5.2 -5.2M435.6 712.4l4.4 -4.4M427.4 720.6l4.8 -4.8M418.2 737.8l2.9 -2.9M430.4 733.6l4.7 -4.7M407.3 764.7l4.7 -4.7M432.4 747.6l3.0 -3.0M427.8 752.2l5.1 -5.1M420.5 759.5l3.9 -3.9M400.0 788.0l3.0 -3.0M396.8 799.2l3.9 -3.9M404.6 799.4l5.3 -5.3M409.4 810.6l3.1 -3.1M419.9 808.1l3.5 -3.5M434.2 817.8l4.3 -4.3M425.9 826.1l2.9 -2.9M421.0 831.0l3.7 -3.7M433.4 826.6l3.6 -3.6" stroke="#858585" stroke-width="1" fill="none"/>
<path d="M409.0 125.0l2.4 -2.4M407.2 131.8l3.0 -3.0M419.0 125.0l3.9 -3.9M411.8 132.2l2.2 -2.2M424.0 125.0l3.6 -3.6M417.3 131.7l2.5 -2.5M411.4 137.6l3.6 -3.6M429.0 125.0l3.5 -3.5M423.2 130.8l3.8 -3.8M415.9 138.1l3.9 -3.9M410.3 143.7l3.0 -3.0M421.6 137.4l2.2 -2.2M416.2 142.8l3.7 -3.7M427.0 137.0l2.9 -2.9M433.8 135.2l4.0 -4.0M422.4 146.6l3.6 -3.6M417.2 151.8l3.9 -3.9M410.6 158.4l3.6 -3.6M436.2 137.8l3.3 -3.3M429.4 144.6l2.8 -2.8M431.5 147.5l4.1 -4.1M424.6 154.4l3.0 -3.0M419.7 159.3l4.0 -4.0M412.8 166.2l2.8 -2.8M434.8 149.2l2.9 -2.9M424.7 159.3l2.2 -2.2M409.7 174.3l2.8 -2.8M437.2 151.8l2.2 -2.2M433.4 155.6l3.7 -3.7M426.7 162.3l4.2 -4.2M414.3 174.7l3.2 -3.2M408.8 180.2l2.3 -2.3M432.4 161.6l3.6 -3.6M436.6 162.4l2.6 -2.6M431.8 167.2l3.5 -3.5M418.9 180.1l2.2 -2.2M433.0 171.0l2.4 -2.4M422.6 181.4l2.2 -2.2M411.2 192.8l2.6 -2.6M410.6 198.4l2.4 -2.4M439.1 174.9l3.8 -3.8M433.7 180.3l2.2 -2.2M429.9 184.1l3.1 -3.1M418.8 195.2l2.5 -2.5M437.5 181.5l2.7 -2.7M431.7 187.3l3.5 -3.5M426.1 192.9l3.6 -3.6M420.7 198.3l2.1 -2.1M436.1 187.9l2.6 -2.6M424.9 199.1l3.5 -3.5M419.2 204.8l3.1 -3.1M414.0 210.0l2.9 -2.9M436.6 192.4l3.7 -3.7M423.5 205.5l2.9 -2.9M418.3 210.7l2.4 -2.4M412.6 216.4l3.3 -3.3M419.0 215.0l3.2 -3.2M440.3 198.7l3.1 -3.1M434.9 204.1l3.5 -3.5M428.1 210.9l2.6 -2.6M422.4 216.6l3.6 -3.6M412.7 226.3l2.8 -2.8M435.6 208.4l2.7 -2.7M429.4 214.6l3.6 -3.6M423.1 220.9l4.0 -4.0M416.8 227.2l2.5 -2.5M412.3 231.7l3.3 -3.3M440.1 208.9l3.5 -3.5M421.7 227.3l4.1 -4.1M414.5 234.5l2.9 -2.9M437.6 216.4l3.2 -3.2M431.6 222.4l3.5 -3.5M420.8 233.2l2.2 -2.2M440.2 218.8l4.1 -4.1M415.4 243.6l3.8 -3.8M435.1 228.9l2.9 -2.9M429.3 234.7l3.9 -3.9M422.7 241.3l2.7 -2.7M417.6 246.4l3.5 -3.5M411.9 252.1l3.5 -3.5M439.3 229.7l3.2 -3.2M433.3 235.7l4.0 -4.0M425.9 243.1l3.2 -3.2M420.4 248.6l2.5 -2.5M414.5 254.5l2.8 -2.8M439.5 234.5l3.7 -3.7M433.9 240.1l3.2 -3.2M427.4 246.6l3.8 -3.8M421.7 252.3l2.5 -2.5M417.5 256.5l2.1 -2.1M438.8 240.2l2.4 -2.4M427.9 251.1l2.5 -2.5M423.8 255.2l3.6 -3.6M418.4 260.6l2.2 -2.2M413.9 265.1l2.6 -2.6M438.8 245.2l4.2 -4.2M431.5 252.5l4.1 -4.1M423.9 260.1l3.9 -3.9M417.8 266.2l4.1 -4.1M435.9 253.1l3.6 -3.6M429.7 259.3l2.9 -2.9M425.0 264.0l3.7 -3.7M419.1 269.9l4.0 -4.0M442.2 256.8l3.9 -3.9M435.6 263.4l3.1 -3.1M430.0 269.0l3.3 -3.3M419.0 280.0l3.7 -3.7M427.2 276.8l4.0 -4.0M419.9 284.1l2.5 -2.5M444.2 264.8l3.1 -3.1M433.4 275.6l3.7 -3.7M421.9 287.1l3.3 -3.3M441.6 272.4l3.0 -3.0M435.9 278.1l2.3 -2.3M418.7 295.3l2.5 -2.5M443.5 275.5l3.0 -3.0M438.6 280.4l2.9 -2.9M432.4 286.6l3.2 -3.2M414.8 304.2l3.9 -3.9M439.6 284.4l3.2 -3.2M433.0 291.0l2.7 -2.7M428.6 295.4l2.4 -2.4M417.5 306.5l2.4 -2.4M431.6 297.4l4.1 -4.1M424.9 304.1l3.4 -3.4M419.3 309.7l2.4 -2.4M438.7 295.3l4.1 -4.1M432.4 301.6l3.5 -3.5M427.4 306.6l4.2 -4.2M421.4 312.6l4.0 -4.0M444.0 295.0l3.4 -3.4M438.5 300.5l3.3 -3.3M433.7 305.3l3.0 -3.0M428.8 310.2l2.2 -2.2M423.8 315.2l3.4 -3.4M418.8 320.2l2.7 -2.7M439.3 304.7l2.8 -2.8M429.3 314.7l2.3 -2.3M424.3 319.7l2.7 -2.7M418.3 325.7l3.9 -3.9M436.9 312.1l2.4 -2.4M431.2 317.8l3.5 -3.5M420.6 328.4l3.2 -3.2M440.2 313.8l3.1 -3.1M434.8 319.2l3.1 -3.1M428.3 325.7l2.5 -2.5M422.6 331.4l3.5 -3.5M417.4 336.6l3.7 -3.7M441.4 317.6l3.7 -3.7M436.1 322.9l3.1 -3.1M430.9 328.1l2.7 -2.7M418.8 340.2l2.8 -2.8M444.8 319.2l2.3 -2.3M439.7 324.3l2.2 -2.2M434.6 329.4l3.5 -3.5M428.5 335.5l2.8 -2.8M423.4 340.6l3.6 -3.6M417.3 346.7l3.4 -3.4M442.6 326.4l3.9 -3.9M437.0 332.0l3.6 -3.6M431.9 337.1l2.9 -2.9M423.2 345.8l2.8 -2.8M444.5 329.5l2.6 -2.6M439.4 334.6l2.8 -2.8M433.6 340.4l2.8 -2.8M428.2 345.8l2.1 -2.1M420.5 353.5l4.0 -4.0M444.7 334.3l2.8 -2.8M433.5 345.5l2.3 -2.3M417.9 361.1l2.2 -2.2M432.2 351.8l2.7 -2.7M447.0 342.0l2.8 -2.8M442.0 347.0l3.5 -3.5M436.3 352.7l2.2 -2.2M431.4 357.6l2.2 -2.2M422.4 366.6l3.4 -3.4M445.1 348.9l2.2 -2.2M441.3 352.7l2.5 -2.5M432.4 361.6l4.0 -4.0M426.7 367.3l3.2 -3.2M444.4 354.6l4.1 -4.1M437.7 361.3l2.6 -2.6M419.8 379.2l2.8 -2.8M445.1 358.9l3.1 -3.1M440.0 364.0l2.7 -2.7M435.1 368.9l3.7 -3.7M428.8 375.2l3.5 -3.5M422.3 381.7l3.4 -3.4M445.8 363.2l2.3 -2.3M440.2 368.8l2.2 -2.2M435.6 373.4l3.7 -3.7M425.2 383.8l2.3 -2.3M444.7 369.3l3.1 -3.1M439.3 374.7l3.0 -3.0M433.6 380.4l2.6 -2.6M423.3 390.7l2.5 -2.5M441.5 377.5l2.1 -2.1M436.4 382.6l4.0 -4.0M430.1 388.9l2.5 -2.5M424.7 394.3l2.6 -2.6M448.3 375.7l2.9 -2.9M443.4 380.6l3.2 -3.2M437.1 386.9l2.9 -2.9M431.3 392.7l4.0 -4.0M424.4 399.6l3.4 -3.4M440.2 388.8l3.2 -3.2M427.5 401.5l3.9 -3.9M446.1 387.9l3.5 -3.5M434.5 399.5l2.7 -2.7M430.3 403.7l3.3 -3.3M450.9 388.1l3.8 -3.8M429.2 409.8l3.8 -3.8M422.2 416.8l3.6 -3.6M443.0 401.0l3.1 -3.1M436.4 407.6l3.1 -3.1M431.5 412.5l3.5 -3.5M424.8 419.2l3.2 -3.2M447.6 401.4l3.0 -3.0M430.7 418.3l2.5 -2.5M450.1 403.9l2.6 -2.6M445.9 408.1l3.3 -3.3M439.5 414.5l3.7 -3.7M433.4 420.6l2.5 -2.5M428.3 425.7l2.8 -2.8M423.9 430.1l3.6 -3.6M450.0 409.0l3.5 -3.5M443.5 415.5l3.4 -3.4M434.2 424.8l3.8 -3.8M427.2 431.8l3.4 -3.4M421.9 437.1l3.0 -3.0M448.1 415.9l2.2 -2.2M429.7 434.3l3.5 -3.5M446.4 422.6l4.1 -4.1M435.4 433.6l3.0 -3.0M429.6 439.4l2.9 -2.9M450.7 423.3l2.2 -2.2M446.4 427.6l3.2 -3.2M439.8 434.2l2.2 -2.2M430.8 443.2l2.4 -2.4M425.7 448.3l3.9 -3.9M450.6 428.4l2.9 -2.9M436.3 442.7l3.8 -3.8M429.0 450.0l3.8 -3.8M423.3 455.7l3.4 -3.4M447.6 436.4l2.9 -2.9M442.4 441.6l3.8 -3.8M435.7 448.3l2.6 -2.6M424.9 459.1l2.1 -2.1M447.7 441.3l4.1 -4.1M436.4 452.6l3.4 -3.4M430.6 458.4l3.0 -3.0M453.5 440.5l3.6 -3.6M446.3 447.7l2.3 -2.3M441.5 452.5l2.9 -2.9M436.6 457.4l2.2 -2.2M431.0 463.0l2.9 -2.9M426.3 467.7l3.9 -3.9M450.8 448.2l3.2 -3.2M445.4 453.6l3.1 -3.1M439.9 459.1l2.2 -2.2M431.8 467.2l3.9 -3.9M448.7 455.3l4.1 -4.1M441.6 462.4l4.0 -4.0M436.1 467.9l4.0 -4.0M429.9 474.1l2.4 -2.4M424.6 479.4l3.8 -3.8M435.0 474.0l2.6 -2.6M429.3 479.7l2.5 -2.5M423.5 485.5l2.3 -2.3M440.4 473.6l2.6 -2.6M435.2 478.8l2.8 -2.8M430.3 483.7l3.4 -3.4M425.2 488.8l2.2 -2.2M442.7 476.3l4.0 -4.0M431.6 487.4l2.2 -2.2M441.6 482.4l4.2 -4.2M434.4 489.6l3.7 -3.7M453.1 475.9l2.3 -2.3M449.0 480.0l2.9 -2.9M443.7 485.3l3.5 -3.5M437.1 491.9l2.9 -2.9M432.0 497.0l3.8 -3.8M426.0 503.0l3.8 -3.8M455.8 478.2l2.9 -2.9M450.8 483.2l2.9 -2.9M446.3 487.7l3.7 -3.7M439.5 494.5l4.0 -4.0M427.0 507.0l3.8 -3.8M454.1 484.9l3.4 -3.4M442.9 496.1l2.2 -2.2M437.5 501.5l3.8 -3.8M430.3 508.7l4.1 -4.1M424.8 514.2l2.6 -2.6M454.4 489.6l2.4 -2.4M449.8 494.2l3.3 -3.3M444.5 499.5l3.8 -3.8M437.5 506.5l2.2 -2.2M433.2 510.8l2.2 -2.2M429.6 514.4l2.1 -2.1M454.8 494.2l2.6 -2.6M450.6 498.4l2.5 -2.5M444.9 504.1l2.6 -2.6M434.8 514.2l3.4 -3.4M428.5 520.5l2.2 -2.2M453.0 501.0l4.1 -4.1M446.1 507.9l2.9 -2.9M440.5 513.5l3.0 -3.0M434.4 519.6l3.0 -3.0M429.5 524.5l3.4 -3.4M455.3 503.7l3.5 -3.5M448.6 510.4l4.2 -4.2M440.9 518.1l3.5 -3.5M434.1 524.9l3.3 -3.3M455.4 508.6l3.8 -3.8M443.6 520.4l3.8 -3.8M437.5 526.5l3.6 -3.6M431.5 532.5l3.1 -3.1M455.5 513.5l4.1 -4.1M449.8 519.2l2.7 -2.7M445.4 523.6l3.5 -3.5M438.5 530.5l3.8 -3.8M427.9 541.1l2.9 -2.9M456.2 517.8l2.6 -2.6M451.1 522.9l4.1 -4.1M445.2 528.8l2.4 -2.4M440.0 534.0l2.2 -2.2M436.4 537.6l4.1 -4.1M453.6 525.4l3.6 -3.6M447.3 531.7l3.8 -3.8M440.2 538.8l2.4 -2.4M452.7 531.3l3.5 -3.5M435.9 548.1l3.7 -3.7M430.0 554.0l2.9 -2.9M452.8 536.2l3.8 -3.8M446.7 542.3l3.7 -3.7M441.5 547.5l3.4 -3.4M435.3 553.7l2.5 -2.5M431.3 557.7l2.4 -2.4M458.0 536.0l3.7 -3.7M445.6 548.4l3.0 -3.0M433.1 560.9l3.4 -3.4M456.0 543.0l3.6 -3.6M431.7 567.3l4.0 -4.0M457.4 546.6l2.6 -2.6M452.9 551.1l2.4 -2.4M448.0 556.0l2.4 -2.4M436.1 567.9l3.1 -3.1M431.2 572.8l2.3 -2.3M458.6 550.4l2.4 -2.4M454.7 554.3l2.5 -2.5M450.2 558.8l4.0 -4.0M444.7 564.3l2.9 -2.9M439.1 569.9l2.2 -2.2M434.9 574.1l3.1 -3.1M429.5 579.5l2.9 -2.9M458.7 555.3l2.7 -2.7M454.1 559.9l3.8 -3.8M447.9 566.1l2.4 -2.4M442.1 571.9l2.9 -2.9M431.7 582.3l2.7 -2.7M456.3 562.7l2.2 -2.2M451.1 567.9l2.7 -2.7M439.6 579.4l3.9 -3.9M433.0 586.0l3.2 -3.2M428.3 590.7l2.7 -2.7M460.4 563.6l3.2 -3.2M453.9 570.1l4.1 -4.1M447.3 576.7l3.8 -3.8M440.8 583.2l2.4 -2.4M435.7 588.3l2.4 -2.4M429.9 594.1l3.3 -3.3M455.1 573.9l3.1 -3.1M450.6 578.4l4.2 -4.2M442.9 586.1l3.7 -3.7M437.4 591.6l3.2 -3.2M430.8 598.2l3.6 -3.6M460.8 573.2l2.6 -2.6M455.5 578.5l3.6 -3.6M444.6 589.4l3.8 -3.8M438.1 595.9l3.8 -3.8M452.9 586.1l3.2 -3.2M437.0 602.0l3.7 -3.7M430.8 608.2l2.7 -2.7M461.6 582.4l2.8 -2.8M456.1 587.9l2.3 -2.3M451.6 592.4l3.7 -3.7M440.5 603.5l2.5 -2.5M435.0 609.0l4.2 -4.2M453.5 595.5l2.8 -2.8M447.5 601.5l2.3 -2.3M442.9 606.1l4.0 -4.0M437.2 611.8l3.0 -3.0M458.3 595.7l2.8 -2.8M453.3 600.7l2.2 -2.2M448.2 605.8l2.1 -2.1M443.9 610.1l3.7 -3.7M438.2 615.8l4.2 -4.2M458.2 600.8l2.1 -2.1M446.2 612.8l3.1 -3.1M439.6 619.4l2.2 -2.2M434.8 624.2l2.2 -2.2M461.5 602.5l3.9 -3.9M448.5 615.5l2.2 -2.2M443.2 620.8l2.2 -2.2M439.4 624.6l3.6 -3.6M433.1 630.9l2.6 -2.6M459.4 609.6l2.4 -2.4M447.1 621.9l3.6 -3.6M440.3 628.7l2.2 -2.2M434.7 634.3l3.4 -3.4M462.4 611.6l2.7 -2.7M457.5 616.5l2.9 -2.9M451.1 622.9l4.1 -4.1M439.1 634.9l4.0 -4.0M459.2 619.8l3.4 -3.4M442.8 636.2l3.5 -3.5M431.6 647.4l2.8 -2.8M446.4 637.6l2.4 -2.4M457.5 631.5l3.2 -3.2M452.4 636.6l2.8 -2.8M447.3 641.7l3.6 -3.6M440.3 648.7l2.5 -2.5M435.5 653.5l3.5 -3.5M456.9 637.1l3.3 -3.3M445.4 648.6l3.5 -3.5M439.4 654.6l3.7 -3.7M462.6 636.4l3.9 -3.9M451.8 647.2l4.2 -4.2M445.2 653.8l2.4 -2.4M440.8 658.2l3.1 -3.1M435.1 663.9l3.3 -3.3M462.3 641.7l2.4 -2.4M458.2 645.8l3.2 -3.2M451.8 652.2l3.8 -3.8M446.5 657.5l3.5 -3.5M439.9 664.1l2.8 -2.8M433.9 670.1l3.3 -3.3M461.2 647.8l2.9 -2.9M456.2 652.8l2.2 -2.2M451.8 657.2l4.1 -4.1M439.9 669.1l2.7 -2.7M460.4 653.6l3.4 -3.4M448.1 665.9l3.7 -3.7M463.4 655.6l2.6 -2.6M457.5 661.5l2.8 -2.8M451.5 667.5l3.3 -3.3M446.0 673.0l3.4 -3.4M439.2 679.8l4.1 -4.1M464.0 660.0l2.7 -2.7M459.8 664.2l3.7 -3.7M443.6 680.4l2.9 -2.9M437.6 686.4l3.9 -3.9M457.3 671.7l3.0 -3.0M451.2 677.8l2.9 -2.9M445.4 683.6l3.2 -3.2M440.6 688.4l3.9 -3.9M460.3 673.7l3.8 -3.8M453.6 680.4l2.8 -2.8M449.4 684.6l3.0 -3.0M462.7 676.3l2.6 -2.6M457.3 681.7l2.5 -2.5M446.6 692.4l2.3 -2.3M441.9 697.1l4.1 -4.1M463.0 681.0l4.1 -4.1M452.1 691.9l3.8 -3.8M465.8 683.2l3.3 -3.3M454.9 694.1l2.7 -2.7M448.7 700.3l3.8 -3.8M464.5 689.5l3.4 -3.4M457.6 696.4l2.6 -2.6M451.7 702.3l2.8 -2.8M446.9 707.1l3.4 -3.4M441.8 712.2l3.9 -3.9M457.9 701.1l3.4 -3.4M460.4 703.6l2.3 -2.3M451.6 712.4l2.3 -2.3M464.1 704.9l2.3 -2.3M458.4 710.6l4.1 -4.1M451.1 717.9l3.1 -3.1M442.1 726.9l3.3 -3.3M436.6 732.4l3.2 -3.2M462.7 711.3l3.9 -3.9M443.6 730.4l2.7 -2.7M462.6 716.4l2.7 -2.7M457.8 721.2l3.1 -3.1M451.4 727.6l2.6 -2.6M445.6 733.4l3.6 -3.6M439.2 739.8l3.6 -3.6M467.7 716.3l2.8 -2.8M463.2 720.8l3.6 -3.6M457.9 726.1l3.8 -3.8M445.9 738.1l3.4 -3.4M439.2 744.8l4.1 -4.1M468.3 720.7l2.4 -2.4M463.4 725.6l3.3 -3.3M458.2 730.8l3.7 -3.7M440.7 748.3l2.5 -2.5M436.7 752.3l3.9 -3.9M466.8 727.2l2.4 -2.4M449.2 744.8l2.2 -2.2M444.2 749.8l3.2 -3.2M438.7 755.3l2.5 -2.5M467.0 732.0l2.6 -2.6M461.1 737.9l3.3 -3.3M456.2 742.8l3.6 -3.6M446.4 752.6l2.7 -2.7M441.8 757.2l2.8 -2.8M467.0 737.0l2.2 -2.2M461.6 742.4l3.3 -3.3M456.2 747.8l3.5 -3.5M449.3 754.7l4.2 -4.2M442.2 761.8l2.6 -2.6M469.0 740.0l2.3 -2.3M464.0 745.0l3.1 -3.1M457.9 751.1l4.2 -4.2M447.2 761.8l3.6 -3.6M441.0 768.0l2.3 -2.3M465.2 748.8l3.5 -3.5M460.2 753.8l4.2 -4.2M454.2 759.8l3.5 -3.5M449.1 764.9l3.0 -3.0M470.1 748.9l2.1 -2.1M459.0 760.0l2.8 -2.8M441.8 777.2l2.7 -2.7M468.8 755.2l4.1 -4.1M462.6 761.4l2.6 -2.6M457.4 766.6l3.0 -3.0M441.7 782.3l3.5 -3.5M466.4 762.6l4.1 -4.1M454.5 774.5l2.3 -2.3M449.0 780.0l2.3 -2.3M443.9 785.1l2.4 -2.4M438.8 790.2l3.8 -3.8M469.4 764.6l3.4 -3.4M452.1 781.9l2.6 -2.6M442.3 791.7l2.3 -2.3M467.7 771.3l3.6 -3.6M461.3 777.7l3.8 -3.8M455.7 783.3l3.4 -3.4M450.7 788.3l3.1 -3.1M468.4 775.6l4.2 -4.2M461.8 782.2l3.4 -3.4M456.4 787.6l3.3 -3.3M451.2 792.8l3.2 -3.2M451.8 797.2l2.2 -2.2M446.9 802.1l3.2 -3.2M468.1 785.9l2.6 -2.6M463.0 791.0l4.0 -4.0M451.6 802.4l3.0 -3.0M447.1 806.9l2.3 -2.3M470.7 788.3l4.0 -4.0M465.3 793.7l2.7 -2.7M460.8 798.2l2.8 -2.8M455.4 803.6l3.8 -3.8M444.2 814.8l2.2 -2.2M463.8 800.2l3.8 -3.8M457.2 806.8l3.1 -3.1M451.1 812.9l3.8 -3.8M445.7 818.3l4.1 -4.1M463.1 805.9l4.1 -4.1M457.2 811.8l2.4 -2.4M452.7 816.3l4.1 -4.1M440.6 828.4l3.3 -3.3M469.1 804.9l3.9 -3.9M462.7 811.3l2.6 -2.6M450.9 823.1l2.9 -2.9M445.6 828.4l4.1 -4.1M469.7 809.3l2.9 -2.9M453.2 825.8l3.1 -3.1M447.6 831.4l2.4 -2.4M441.9 837.1l3.8 -3.8M447.2 836.8l3.3 -3.3M469.9 819.1l3.5 -3.5M463.4 825.6l2.1 -2.1M471.4 822.6l2.8 -2.8M465.7 828.3l3.8 -3.8M468.5 830.5l3.6 -3.6M462.6 836.4l2.2 -2.2M472.1 831.9l3.6 -3.6M436.5 135.1h1.7M422.1 135.0v3.2M433.3 135.0v3.6M420.0 143.0h3.7M427.6 143.7h3.7M435.5 143.0v3.5M426.9 143.0v3.7M408.6 151.0v4.1M425.8 151.0v5.2M408.2 159.0h2.4M427.4 159.0v3.4M435.5 159.0v4.9M421.6 166.1h4.1M437.9 167.2h1.7M418.4 167.0v5.6M422.2 167.0v3.1M408.9 174.4h2.2M413.0 175.3h5.2M432.0 175.0v5.2M435.6 175.0v3.1M409.3 183.0h2.1M413.6 183.3h2.4M433.0 183.0h4.0M426.8 190.0h4.0M434.4 192.0h4.1M440.1 191.0v4.9M427.9 198.4h3.5M437.6 199.0v5.4M416.3 207.0h4.9M425.2 207.0v3.7M410.6 215.3h5.3M422.3 215.6h3.6M438.4 215.0v5.3M431.2 215.0v5.2M422.1 223.8h2.1M432.6 223.7h4.0M437.7 223.3h4.3M413.9 223.0v4.5M438.9 230.8h3.5M430.9 239.6h5.5M439.3 239.9h3.4M420.1 239.0v3.8M412.1 246.7h4.6M439.0 247.5h2.2M416.5 247.0v3.2M412.5 254.5h5.5M419.6 256.0h2.5M440.9 255.0h2.8M426.9 263.6h5.1M414.8 263.0v3.2M427.2 263.0v4.5M413.3 271.2h4.2M428.9 270.7h3.6M433.5 272.0h3.8M426.5 271.0v4.4M417.8 279.8h3.8M422.9 279.9h4.7M437.7 279.0v4.2M430.0 279.0v4.3M429.7 286.4h5.3M437.4 287.2h2.4M422.3 295.3h3.8M438.0 295.7h5.2M428.0 311.0h4.4M435.2 310.7h5.8M427.7 311.0v3.2M441.5 319.0v3.2M437.8 319.0v5.6M428.4 327.7h5.9M437.8 326.9h2.2M441.3 327.2h4.6M423.8 335.7h5.8M439.8 335.8h6.0M446.9 335.0v5.7M440.1 335.0v4.7M420.9 343.9h5.8M435.6 343.7h2.2M445.6 342.3h3.1M429.9 343.0v5.7M439.9 343.0v5.9M425.9 350.7h2.7M422.1 351.0v3.0M428.3 360.0h2.1M422.4 359.0v4.9M431.9 366.6h5.7M431.5 374.3h5.7M425.4 375.0v5.2M419.0 383.1h4.0M443.2 382.8h5.0M450.4 383.4h0.5M432.5 391.3h2.5M444.6 391.5h2.2M426.7 391.0v5.1M435.1 391.0v3.6M438.2 398.6h5.4M444.9 398.3h3.5M441.9 399.0v5.5M441.6 406.2h2.1M435.3 407.0v4.4M443.8 407.0v4.6M420.6 415.3h5.0M438.7 415.4h4.2M445.8 415.8h4.6M423.1 415.0v5.4M421.0 423.1h5.4M428.4 422.8h3.0M433.3 423.2h4.5M439.2 423.8h4.3M452.7 422.5h0.4M433.4 423.0v4.6M421.4 430.4h4.8M437.0 431.3h4.8M452.4 431.0v4.9M421.8 438.0h5.4M430.6 438.9h4.3M438.2 439.0v5.6M450.6 439.0v4.1M430.8 447.8h5.7M438.2 447.0v3.9M422.5 455.6h3.3M427.7 454.6h3.0M428.5 463.4h3.8M444.6 463.1h3.7M437.9 463.0v3.7M446.1 463.0v4.6M428.2 470.8h5.0M445.7 472.0h4.5M451.9 470.8h3.8M440.1 471.0v3.4M423.5 478.4h4.3M430.2 478.5h2.4M433.7 478.8h5.2M441.4 478.1h2.1M445.8 487.9h5.0M445.7 487.0v4.7M427.7 487.0v3.8M424.2 494.5h5.5M431.0 502.2h3.4M424.9 510.1h4.8M444.2 511.7h3.5M425.2 518.5h3.0M430.1 518.2h3.0M435.0 518.6h4.2M442.4 519.8h3.9M427.7 519.0v5.8M425.6 527.4h4.1M433.7 534.3h5.2M441.2 535.2h3.0M446.1 535.0h3.3M434.1 535.0v4.4M450.3 535.0v4.8M431.8 542.6h5.9M447.9 542.0h2.5M452.1 543.2h4.1M434.0 551.9h3.4M449.4 550.2h5.0M432.2 559.0v5.1M427.3 567.4h3.9M433.3 566.0h3.9M445.4 575.2h4.4M458.8 574.3h2.5M451.5 575.0v5.7M447.0 575.0v4.3M454.7 583.8h5.7M442.3 583.0v3.6M441.5 583.0v5.9M443.5 591.1h3.7M457.2 591.2h4.3M458.7 591.0v4.5M445.4 591.0v4.8M437.8 599.0v5.6M455.6 599.0v5.9M430.0 615.8h4.2M447.0 614.3h4.6M454.0 614.9h2.7M459.3 614.6h4.0M456.5 615.0v5.4M430.5 622.1h3.1M443.4 623.0h3.9M446.6 639.2h2.3M453.8 639.0v5.7M432.0 647.2h3.4M463.7 647.0v4.1M442.9 647.0v3.6M444.8 654.1h5.3M458.2 655.0v3.6M446.9 662.9h5.4M457.2 663.0v4.1M459.4 663.0v5.0M433.4 671.0h5.5M464.2 671.0v4.2M446.4 671.0v5.6M436.7 679.0v3.1M434.2 686.0h5.8M451.5 687.9h3.8M456.7 686.8h3.8M463.0 687.0v3.3M458.3 687.0v4.0M435.7 694.6h5.0M464.6 695.2h2.7M456.5 703.5h4.8M458.5 703.0v6.0M448.7 711.5h3.1M466.1 711.1h2.1M446.7 719.0v5.8M449.5 719.0v4.7M448.4 727.4h2.4M452.6 727.0h2.9M435.1 735.2h4.3M455.0 734.5h5.1M468.9 734.8h0.6M456.9 742.7h2.1M440.8 751.0v5.4M436.6 758.1h4.5M459.3 759.2h3.3M465.6 759.0v5.2M464.0 759.0v3.9M437.1 766.5h4.7M443.5 767.0v5.4M468.9 775.7h2.5M451.5 775.0v3.3M460.1 783.0v5.5M438.7 790.2h3.1M444.4 791.1h3.2M449.2 790.6h5.7M466.6 799.4h2.1M471.3 798.0h0.8M439.7 806.9h5.7M440.7 807.0v5.1M445.1 815.7h2.6M449.0 815.5h3.4M442.6 815.0v3.2M453.6 815.0v5.1M459.5 822.3h5.7M455.1 823.0v5.4" stroke="#888" stroke-width="0.9" fill="none"/>
<path d="M418 230h1v1h-1zM423 409h1v1h-1zM452 471h1v1h-1zM440 607h1v1h-1zM461 686h1v1h-1zM431 620h1v1h-1zM413 142h1v1h-1zM425 428h1v1h-1zM467 748h1v1h-1zM471 808h1v1h-1zM429 429h1v1h-1zM435 673h1v1h-1zM417 316h1v1h-1zM414 139h1v1h-1zM430 543h1v1h-1zM438 232h1v1h-1zM428 364h1v1h-1zM412 215h1v1h-1zM422 214h1v1h-1zM424 210h1v1h-1zM459 602h1v1h-1zM462 786h1v1h-1zM427 557h1v1h-1zM457 751h1v1h-1zM451 558h1v1h-1zM430 528h1v1h-1zM451 470h1v1h-1zM457 802h1v1h-1zM428 449h1v1h-1zM438 536h1v1h-1zM453 645h1v1h-1zM460 680h1v1h-1zM419 138h1v1h-1zM433 305h1v1h-1zM437 354h1v1h-1zM434 244h1v1h-1zM435 505h1v1h-1zM440 671h1v1h-1zM436 356h1v1h-1zM439 195h1v1h-1zM425 264h1v1h-1zM430 204h1v1h-1zM427 237h1v1h-1zM407 141h1v1h-1zM443 507h1v1h-1zM454 678h1v1h-1zM462 615h1v1h-1zM444 815h1v1h-1zM439 307h1v1h-1zM433 400h1v1h-1zM445 710h1v1h-1zM430 604h1v1h-1zM461 825h1v1h-1zM448 351h1v1h-1zM410 141h1v1h-1zM419 213h1v1h-1zM440 493h1v1h-1zM441 729h1v1h-1zM429 528h1v1h-1zM454 775h1v1h-1zM438 310h1v1h-1zM437 369h1v1h-1zM466 753h1v1h-1zM428 485h1v1h-1zM446 551h1v1h-1zM459 687h1v1h-1zM470 771h1v1h-1zM430 452h1v1h-1zM435 516h1v1h-1zM456 564h1v1h-1zM419 239h1v1h-1zM455 770h1v1h-1zM435 409h1v1h-1zM436 537h1v1h-1zM430 203h1v1h-1zM421 205h1v1h-1zM445 584h1v1h-1zM435 687h1v1h-1zM436 359h1v1h-1zM442 302h1v1h-1zM440 666h1v1h-1zM423 199h1v1h-1zM421 257h1v1h-1zM449 396h1v1h-1zM442 508h1v1h-1zM428 347h1v1h-1zM450 590h1v1h-1zM432 572h1v1h-1zM440 210h1v1h-1zM408 139h1v1h-1zM424 491h1v1h-1zM449 645h1v1h-1zM428 246h1v1h-1zM429 175h1v1h-1zM460 610h1v1h-1zM463 789h1v1h-1zM438 627h1v1h-1zM468 766h1v1h-1zM421 296h1v1h-1zM428 152h1v1h-1zM437 221h1v1h-1zM434 625h1v1h-1zM451 735h1v1h-1zM428 418h1v1h-1zM432 194h1v1h-1zM448 666h1v1h-1zM427 380h1v1h-1zM452 600h1v1h-1zM419 199h1v1h-1zM419 370h1v1h-1zM454 641h1v1h-1zM434 195h1v1h-1zM465 762h1v1h-1zM453 532h1v1h-1zM424 308h1v1h-1zM424 444h1v1h-1zM415 295h1v1h-1zM424 210h1v1h-1zM458 587h1v1h-1zM430 322h1v1h-1zM420 363h1v1h-1zM457 745h1v1h-1zM423 211h1v1h-1zM467 750h1v1h-1zM457 551h1v1h-1zM469 735h1v1h-1zM409 139h1v1h-1zM424 249h1v1h-1zM436 318h1v1h-1zM415 210h1v1h-1zM421 179h1v1h-1zM451 606h1v1h-1zM417 331h1v1h-1zM437 663h1v1h-1zM460 700h1v1h-1zM454 720h1v1h-1zM449 764h1v1h-1zM444 391h1v1h-1zM468 774h1v1h-1zM435 590h1v1h-1zM412 191h1v1h-1zM459 667h1v1h-1zM441 456h1v1h-1zM426 280h1v1h-1zM448 687h1v1h-1zM441 567h1v1h-1zM434 665h1v1h-1zM463 773h1v1h-1zM449 552h1v1h-1zM439 694h1v1h-1zM442 353h1v1h-1zM441 585h1v1h-1zM447 597h1v1h-1zM453 524h1v1h-1zM416 328h1v1h-1zM463 745h1v1h-1zM434 351h1v1h-1zM428 205h1v1h-1zM427 540h1v1h-1zM453 432h1v1h-1zM430 161h1v1h-1zM443 641h1v1h-1zM421 221h1v1h-1zM443 544h1v1h-1zM421 334h1v1h-1zM441 769h1v1h-1zM440 337h1v1h-1zM464 716h1v1h-1zM417 221h1v1h-1zM428 477h1v1h-1zM442 498h1v1h-1zM421 158h1v1h-1zM433 411h1v1h-1zM443 271h1v1h-1zM431 555h1v1h-1zM443 731h1v1h-1zM429 139h1v1h-1zM431 603h1v1h-1zM436 239h1v1h-1zM429 586h1v1h-1zM439 565h1v1h-1zM450 594h1v1h-1zM412 241h1v1h-1zM436 346h1v1h-1zM426 183h1v1h-1zM451 549h1v1h-1zM446 755h1v1h-1zM434 518h1v1h-1zM436 203h1v1h-1zM438 677h1v1h-1zM436 269h1v1h-1zM432 251h1v1h-1zM436 412h1v1h-1zM460 753h1v1h-1zM457 511h1v1h-1zM442 234h1v1h-1zM445 826h1v1h-1zM463 668h1v1h-1zM431 153h1v1h-1zM453 521h1v1h-1zM448 715h1v1h-1zM452 617h1v1h-1zM441 773h1v1h-1zM425 356h1v1h-1zM443 383h1v1h-1zM422 165h1v1h-1zM468 808h1v1h-1zM468 760h1v1h-1zM430 299h1v1h-1zM409 175h1v1h-1zM466 773h1v1h-1zM463 824h1v1h-1zM462 685h1v1h-1zM439 800h1v1h-1zM448 363h1v1h-1zM455 559h1v1h-1zM430 168h1v1h-1zM442 322h1v1h-1zM458 694h1v1h-1zM425 499h1v1h-1zM447 745h1v1h-1zM440 471h1v1h-1zM417 330h1v1h-1zM422 377h1v1h-1zM430 424h1v1h-1zM452 656h1v1h-1zM443 304h1v1h-1zM461 799h1v1h-1zM449 819h1v1h-1zM434 473h1v1h-1zM470 767h1v1h-1zM428 336h1v1h-1zM443 425h1v1h-1zM431 255h1v1h-1zM451 812h1v1h-1zM454 451h1v1h-1zM443 615h1v1h-1zM446 815h1v1h-1zM456 750h1v1h-1zM438 609h1v1h-1zM427 410h1v1h-1zM424 437h1v1h-1zM448 555h1v1h-1zM438 664h1v1h-1zM423 202h1v1h-1zM418 289h1v1h-1zM466 809h1v1h-1zM465 715h1v1h-1zM434 646h1v1h-1zM439 732h1v1h-1zM434 648h1v1h-1zM453 693h1v1h-1zM431 455h1v1h-1zM430 227h1v1h-1zM439 623h1v1h-1zM415 277h1v1h-1zM434 479h1v1h-1zM441 367h1v1h-1zM428 270h1v1h-1zM430 549h1v1h-1zM433 247h1v1h-1zM442 730h1v1h-1zM448 825h1v1h-1zM432 173h1v1h-1zM425 297h1v1h-1zM439 585h1v1h-1zM431 266h1v1h-1zM445 457h1v1h-1zM432 155h1v1h-1zM432 201h1v1h-1zM454 813h1v1h-1zM442 487h1v1h-1zM447 671h1v1h-1zM456 516h1v1h-1zM462 789h1v1h-1zM424 163h1v1h-1zM467 725h1v1h-1zM441 233h1v1h-1zM435 291h1v1h-1zM459 761h1v1h-1zM444 360h1v1h-1zM446 328h1v1h-1zM459 586h1v1h-1zM447 621h1v1h-1zM444 525h1v1h-1zM425 503h1v1h-1zM416 330h1v1h-1zM429 157h1v1h-1zM425 233h1v1h-1zM460 759h1v1h-1zM469 792h1v1h-1zM436 497h1v1h-1zM437 303h1v1h-1zM430 425h1v1h-1zM438 650h1v1h-1zM444 479h1v1h-1zM453 753h1v1h-1zM463 815h1v1h-1zM461 602h1v1h-1zM458 534h1v1h-1zM436 640h1v1h-1zM470 784h1v1h-1zM428 275h1v1h-1zM450 592h1v1h-1zM437 304h1v1h-1zM440 589h1v1h-1zM452 561h1v1h-1zM453 434h1v1h-1zM435 540h1v1h-1zM443 375h1v1h-1zM432 230h1v1h-1zM438 650h1v1h-1zM432 369h1v1h-1zM434 252h1v1h-1zM460 825h1v1h-1zM434 392h1v1h-1zM458 816h1v1h-1zM442 326h1v1h-1zM422 353h1v1h-1zM456 514h1v1h-1zM444 466h1v1h-1zM436 252h1v1h-1zM454 478h1v1h-1zM452 490h1v1h-1zM449 413h1v1h-1zM468 727h1v1h-1zM442 395h1v1h-1zM452 799h1v1h-1zM419 155h1v1h-1zM456 662h1v1h-1zM455 596h1v1h-1zM429 410h1v1h-1zM437 749h1v1h-1zM455 767h1v1h-1zM427 431h1v1h-1zM435 168h1v1h-1zM435 670h1v1h-1zM429 425h1v1h-1zM429 343h1v1h-1zM436 600h1v1h-1zM437 184h1v1h-1zM439 252h1v1h-1zM455 761h1v1h-1zM423 247h1v1h-1zM420 192h1v1h-1zM420 249h1v1h-1zM425 489h1v1h-1zM425 265h1v1h-1zM451 712h1v1h-1zM436 414h1v1h-1zM434 301h1v1h-1zM428 481h1v1h-1zM443 426h1v1h-1zM415 218h1v1h-1zM427 214h1v1h-1zM437 276h1v1h-1zM431 192h1v1h-1zM428 190h1v1h-1zM421 290h1v1h-1zM436 561h1v1h-1zM460 637h1v1h-1zM447 571h1v1h-1zM441 371h1v1h-1zM457 616h1v1h-1zM432 293h1v1h-1zM421 198h1v1h-1zM457 592h1v1h-1zM459 589h1v1h-1zM442 236h1v1h-1zM444 688h1v1h-1zM455 468h1v1h-1zM463 759h1v1h-1zM415 289h1v1h-1zM443 620h1v1h-1zM417 289h1v1h-1zM431 611h1v1h-1zM432 643h1v1h-1zM444 631h1v1h-1zM417 225h1v1h-1zM455 728h1v1h-1zM435 292h1v1h-1zM456 633h1v1h-1zM448 550h1v1h-1zM436 271h1v1h-1zM436 391h1v1h-1zM425 161h1v1h-1zM458 761h1v1h-1zM444 821h1v1h-1zM425 367h1v1h-1zM431 576h1v1h-1zM460 804h1v1h-1zM439 161h1v1h-1zM430 239h1v1h-1zM456 827h1v1h-1zM428 402h1v1h-1zM446 454h1v1h-1zM442 819h1v1h-1zM440 781h1v1h-1zM442 545h1v1h-1zM436 205h1v1h-1zM424 323h1v1h-1zM439 259h1v1h-1zM456 726h1v1h-1zM428 290h1v1h-1zM459 730h1v1h-1zM419 277h1v1h-1zM446 531h1v1h-1zM443 263h1v1h-1zM440 384h1v1h-1zM433 644h1v1h-1zM434 429h1v1h-1zM439 548h1v1h-1zM443 315h1v1h-1zM423 285h1v1h-1zM434 143h1v1h-1zM464 710h1v1h-1zM430 375h1v1h-1zM438 346h1v1h-1zM431 141h1v1h-1zM449 582h1v1h-1zM448 687h1v1h-1zM452 641h1v1h-1zM435 594h1v1h-1zM429 383h1v1h-1zM423 172h1v1h-1zM425 292h1v1h-1zM437 195h1v1h-1zM409 176h1v1h-1zM449 648h1v1h-1zM442 306h1v1h-1zM437 634h1v1h-1zM436 550h1v1h-1zM446 388h1v1h-1zM435 693h1v1h-1zM426 314h1v1h-1zM420 304h1v1h-1zM466 679h1v1h-1zM436 510h1v1h-1zM428 531h1v1h-1zM432 587h1v1h-1zM448 431h1v1h-1zM461 713h1v1h-1zM451 456h1v1h-1zM454 460h1v1h-1zM465 715h1v1h-1zM441 663h1v1h-1zM429 371h1v1h-1zM409 137h1v1h-1zM431 235h1v1h-1zM449 700h1v1h-1zM432 435h1v1h-1zM428 288h1v1h-1zM437 213h1v1h-1zM426 301h1v1h-1zM433 408h1v1h-1zM450 737h1v1h-1zM458 531h1v1h-1zM454 472h1v1h-1zM428 578h1v1h-1zM433 641h1v1h-1zM458 740h1v1h-1zM464 753h1v1h-1zM460 803h1v1h-1zM453 584h1v1h-1zM438 438h1v1h-1zM467 723h1v1h-1zM433 403h1v1h-1zM433 382h1v1h-1zM435 462h1v1h-1zM426 418h1v1h-1zM455 706h1v1h-1zM456 680h1v1h-1zM463 676h1v1h-1zM450 776h1v1h-1zM446 572h1v1h-1zM444 624h1v1h-1zM465 740h1v1h-1zM422 376h1v1h-1zM425 484h1v1h-1zM459 599h1v1h-1zM429 460h1v1h-1zM454 721h1v1h-1zM414 285h1v1h-1zM439 389h1v1h-1zM435 395h1v1h-1zM446 386h1v1h-1zM434 539h1v1h-1zM454 811h1v1h-1zM462 776h1v1h-1zM425 155h1v1h-1zM432 516h1v1h-1zM429 528h1v1h-1zM430 236h1v1h-1zM449 671h1v1h-1zM428 327h1v1h-1zM426 534h1v1h-1zM436 643h1v1h-1zM436 201h1v1h-1zM460 689h1v1h-1zM440 472h1v1h-1zM428 529h1v1h-1zM445 349h1v1h-1zM438 450h1v1h-1zM434 222h1v1h-1zM451 530h1v1h-1zM424 386h1v1h-1zM445 506h1v1h-1zM448 475h1v1h-1zM446 674h1v1h-1zM434 330h1v1h-1zM458 696h1v1h-1zM441 251h1v1h-1zM430 249h1v1h-1zM437 527h1v1h-1zM423 434h1v1h-1zM452 661h1v1h-1zM432 524h1v1h-1zM436 225h1v1h-1zM462 732h1v1h-1zM438 524h1v1h-1zM453 789h1v1h-1zM419 396h1v1h-1zM437 696h1v1h-1zM468 768h1v1h-1zM437 461h1v1h-1zM462 679h1v1h-1zM454 767h1v1h-1zM436 683h1v1h-1zM454 749h1v1h-1zM466 703h1v1h-1zM428 286h1v1h-1zM424 188h1v1h-1zM419 368h1v1h-1zM438 680h1v1h-1zM439 183h1v1h-1zM449 592h1v1h-1zM455 583h1v1h-1zM438 776h1v1h-1zM429 195h1v1h-1zM462 728h1v1h-1zM444 699h1v1h-1zM441 615h1v1h-1zM460 753h1v1h-1zM448 482h1v1h-1zM465 776h1v1h-1zM451 740h1v1h-1zM453 517h1v1h-1zM414 147h1v1h-1zM425 333h1v1h-1zM457 677h1v1h-1zM430 317h1v1h-1zM450 652h1v1h-1zM429 558h1v1h-1zM430 487h1v1h-1zM415 222h1v1h-1zM457 629h1v1h-1zM443 336h1v1h-1zM446 740h1v1h-1zM426 460h1v1h-1zM444 697h1v1h-1zM427 344h1v1h-1zM427 554h1v1h-1zM432 384h1v1h-1zM411 199h1v1h-1zM429 480h1v1h-1zM459 650h1v1h-1zM414 170h1v1h-1zM423 326h1v1h-1zM445 377h1v1h-1zM438 429h1v1h-1zM417 165h1v1h-1zM441 742h1v1h-1zM448 403h1v1h-1zM465 751h1v1h-1zM436 262h1v1h-1zM422 223h1v1h-1zM441 570h1v1h-1zM428 178h1v1h-1zM455 614h1v1h-1zM444 377h1v1h-1zM432 185h1v1h-1zM441 824h1v1h-1zM427 484h1v1h-1zM430 515h1v1h-1zM418 228h1v1h-1zM427 157h1v1h-1zM449 551h1v1h-1zM424 436h1v1h-1zM445 497h1v1h-1zM423 204h1v1h-1zM413 157h1v1h-1zM435 499h1v1h-1zM437 205h1v1h-1zM438 776h1v1h-1zM428 333h1v1h-1zM440 517h1v1h-1zM428 434h1v1h-1zM430 274h1v1h-1zM424 172h1v1h-1zM431 511h1v1h-1zM426 407h1v1h-1zM415 259h1v1h-1zM464 774h1v1h-1zM430 560h1v1h-1zM453 522h1v1h-1zM449 525h1v1h-1zM449 392h1v1h-1zM460 718h1v1h-1zM431 337h1v1h-1zM445 327h1v1h-1zM410 169h1v1h-1zM445 695h1v1h-1zM453 802h1v1h-1zM457 764h1v1h-1zM409 177h1v1h-1zM424 158h1v1h-1zM449 583h1v1h-1zM444 821h1v1h-1zM458 677h1v1h-1zM464 664h1v1h-1zM430 524h1v1h-1zM432 416h1v1h-1zM425 216h1v1h-1zM433 562h1v1h-1zM422 136h1v1h-1zM428 514h1v1h-1zM429 431h1v1h-1zM458 696h1v1h-1zM446 668h1v1h-1zM454 461h1v1h-1zM442 272h1v1h-1zM463 812h1v1h-1zM443 521h1v1h-1zM420 322h1v1h-1zM443 266h1v1h-1zM440 814h1v1h-1zM448 433h1v1h-1zM443 764h1v1h-1zM427 494h1v1h-1zM432 483h1v1h-1zM438 218h1v1h-1zM456 643h1v1h-1zM459 721h1v1h-1zM412 200h1v1h-1zM424 371h1v1h-1zM453 495h1v1h-1zM447 504h1v1h-1zM452 723h1v1h-1zM412 212h1v1h-1zM448 488h1v1h-1zM463 652h1v1h-1zM457 779h1v1h-1zM425 509h1v1h-1zM447 618h1v1h-1zM419 364h1v1h-1zM463 729h1v1h-1zM442 272h1v1h-1zM423 236h1v1h-1zM438 203h1v1h-1zM442 329h1v1h-1zM428 265h1v1h-1zM441 315h1v1h-1zM429 278h1v1h-1zM427 399h1v1h-1zM422 247h1v1h-1zM463 619h1v1h-1zM452 417h1v1h-1zM431 192h1v1h-1zM428 349h1v1h-1zM452 692h1v1h-1zM428 364h1v1h-1zM444 407h1v1h-1zM426 514h1v1h-1zM429 433h1v1h-1zM432 243h1v1h-1zM448 420h1v1h-1zM428 455h1v1h-1zM453 568h1v1h-1zM445 292h1v1h-1zM432 587h1v1h-1zM411 191h1v1h-1zM449 702h1v1h-1zM436 732h1v1h-1zM464 760h1v1h-1zM443 783h1v1h-1zM444 486h1v1h-1zM453 718h1v1h-1zM446 592h1v1h-1zM444 470h1v1h-1zM438 538h1v1h-1zM457 535h1v1h-1zM463 659h1v1h-1zM426 250h1v1h-1zM459 599h1v1h-1zM443 400h1v1h-1zM414 208h1v1h-1zM437 407h1v1h-1zM449 563h1v1h-1zM470 753h1v1h-1zM413 153h1v1h-1zM457 820h1v1h-1zM441 748h1v1h-1zM428 456h1v1h-1zM451 660h1v1h-1zM459 654h1v1h-1zM444 794h1v1h-1zM434 171h1v1h-1zM418 366h1v1h-1zM455 753h1v1h-1zM440 509h1v1h-1zM434 219h1v1h-1zM431 181h1v1h-1zM438 239h1v1h-1zM440 485h1v1h-1zM434 561h1v1h-1zM438 647h1v1h-1zM445 818h1v1h-1zM432 646h1v1h-1zM437 766h1v1h-1zM448 608h1v1h-1zM449 432h1v1h-1zM426 176h1v1h-1zM448 666h1v1h-1zM439 481h1v1h-1zM451 560h1v1h-1zM436 446h1v1h-1zM453 479h1v1h-1zM426 193h1v1h-1zM448 684h1v1h-1zM440 574h1v1h-1zM408 153h1v1h-1zM461 666h1v1h-1zM447 692h1v1h-1zM424 277h1v1h-1zM437 355h1v1h-1zM440 271h1v1h-1zM445 562h1v1h-1zM447 615h1v1h-1zM436 474h1v1h-1zM424 191h1v1h-1zM446 677h1v1h-1zM411 141h1v1h-1zM448 382h1v1h-1zM427 285h1v1h-1zM448 679h1v1h-1zM444 568h1v1h-1zM425 217h1v1h-1zM434 438h1v1h-1zM461 760h1v1h-1zM469 746h1v1h-1zM442 652h1v1h-1zM448 533h1v1h-1zM433 173h1v1h-1zM440 548h1v1h-1zM466 753h1v1h-1zM441 740h1v1h-1zM432 209h1v1h-1zM444 749h1v1h-1zM424 221h1v1h-1zM437 519h1v1h-1zM452 733h1v1h-1zM444 450h1v1h-1zM438 313h1v1h-1zM429 223h1v1h-1zM436 402h1v1h-1zM455 783h1v1h-1zM461 795h1v1h-1zM423 190h1v1h-1zM456 628h1v1h-1zM463 689h1v1h-1zM450 475h1v1h-1zM421 332h1v1h-1zM436 197h1v1h-1zM407 136h1v1h-1zM453 766h1v1h-1zM452 754h1v1h-1zM447 579h1v1h-1zM442 633h1v1h-1zM442 547h1v1h-1zM425 435h1v1h-1zM439 228h1v1h-1zM421 230h1v1h-1zM463 824h1v1h-1zM452 595h1v1h-1zM435 649h1v1h-1zM438 356h1v1h-1zM433 485h1v1h-1zM430 541h1v1h-1zM439 389h1v1h-1zM410 170h1v1h-1zM465 789h1v1h-1zM471 811h1v1h-1zM408 138h1v1h-1zM444 718h1v1h-1zM448 543h1v1h-1zM446 559h1v1h-1zM453 762h1v1h-1zM429 160h1v1h-1zM421 164h1v1h-1zM434 235h1v1h-1zM421 168h1v1h-1zM459 717h1v1h-1zM461 814h1v1h-1zM445 691h1v1h-1zM423 371h1v1h-1zM423 329h1v1h-1zM422 227h1v1h-1zM456 527h1v1h-1zM429 308h1v1h-1zM427 268h1v1h-1zM418 198h1v1h-1zM440 750h1v1h-1zM427 572h1v1h-1zM436 485h1v1h-1zM427 232h1v1h-1zM441 623h1v1h-1zM466 741h1v1h-1zM424 366h1v1h-1zM452 623h1v1h-1zM438 154h1v1h-1zM437 369h1v1h-1zM429 212h1v1h-1zM464 723h1v1h-1zM460 682h1v1h-1zM451 407h1v1h-1zM454 467h1v1h-1zM424 477h1v1h-1zM430 318h1v1h-1zM433 247h1v1h-1zM449 391h1v1h-1zM422 317h1v1h-1zM412 167h1v1h-1zM409 135h1v1h-1zM440 545h1v1h-1zM451 779h1v1h-1zM418 364h1v1h-1zM426 221h1v1h-1zM424 301h1v1h-1zM441 620h1v1h-1zM443 393h1v1h-1zM443 371h1v1h-1zM448 383h1v1h-1zM445 328h1v1h-1zM444 440h1v1h-1zM426 226h1v1h-1zM457 613h1v1h-1zM440 353h1v1h-1zM455 694h1v1h-1zM450 673h1v1h-1zM440 779h1v1h-1zM450 540h1v1h-1zM409 138h1v1h-1zM454 712h1v1h-1zM440 739h1v1h-1zM450 780h1v1h-1zM434 181h1v1h-1zM422 210h1v1h-1zM458 654h1v1h-1zM422 394h1v1h-1zM466 732h1v1h-1zM468 748h1v1h-1zM435 300h1v1h-1zM449 402h1v1h-1zM465 792h1v1h-1zM428 421h1v1h-1zM464 736h1v1h-1zM453 697h1v1h-1zM449 473h1v1h-1zM423 238h1v1h-1zM458 747h1v1h-1zM438 588h1v1h-1zM447 600h1v1h-1zM436 247h1v1h-1zM448 715h1v1h-1zM444 422h1v1h-1zM411 149h1v1h-1zM430 526h1v1h-1zM416 238h1v1h-1zM431 621h1v1h-1zM452 527h1v1h-1zM456 554h1v1h-1zM431 257h1v1h-1zM436 190h1v1h-1zM417 320h1v1h-1zM448 656h1v1h-1zM419 263h1v1h-1zM425 211h1v1h-1zM442 535h1v1h-1zM442 432h1v1h-1zM458 620h1v1h-1zM442 798h1v1h-1zM455 542h1v1h-1zM441 358h1v1h-1zM427 162h1v1h-1zM443 599h1v1h-1zM435 411h1v1h-1zM436 663h1v1h-1zM427 165h1v1h-1zM426 496h1v1h-1zM447 660h1v1h-1z" fill="#909090"/>
<polyline points="334.0,135.0 343.0,330.0 348.3,440.0 355.3,580.0 366.0,828.0" fill="none" stroke="#777" stroke-width="0.7" stroke-dasharray="14 3 3 3"/>
<polyline points="353.3,135.0 357.0,235.0 363.0,330.0 368.4,440.0 376.0,580.0 381.6,660.0 386.0,730.0 390.0,828.0" fill="none" stroke="#a8a8a8" stroke-width="6.5"/>
<path d="M382.5 721.7h3.5v2.9h-3.5zM367.4 408.2h2.2v2.6h-2.2zM379.6 614.2h2.5v1.4h-2.5zM363.7 386.9h4.7v1.6h-4.7zM381.8 672.0h2.0v1.4h-2.0zM387.7 726.5h2.2v2.7h-2.2zM378.6 644.3h4.8v1.2h-4.8zM370.5 455.7h2.2v2.8h-2.2zM359.3 246.8h2.7v3.1h-2.7zM366.6 404.6h4.9v2.2h-4.9zM386.3 743.8h2.3v1.6h-2.3zM351.1 176.9h3.9v2.8h-3.9zM354.6 253.3h5.0v2.2h-5.0zM355.8 245.4h4.6v2.4h-4.6zM382.6 693.1h2.2v1.9h-2.2zM385.9 752.3h3.3v1.1h-3.3zM377.0 638.7h4.2v2.9h-4.2zM376.7 602.7h3.9v3.1h-3.9zM380.9 632.5h3.9v1.8h-3.9zM378.0 684.0h3.6v1.8h-3.6zM352.3 143.8h3.0v3.3h-3.0zM365.9 426.0h4.8v2.7h-4.8zM386.3 726.6h5.0v2.3h-5.0zM370.5 482.9h2.8v1.9h-2.8zM366.2 414.8h2.1v1.4h-2.1zM384.1 750.6h2.9v2.9h-2.9zM388.8 749.2h2.2v3.3h-2.2zM367.2 417.0h3.7v2.0h-3.7zM373.4 589.2h4.8v1.1h-4.8zM356.3 255.2h2.8v1.2h-2.8zM377.2 613.3h3.8v2.8h-3.8zM367.4 483.0h4.3v1.3h-4.3zM356.0 169.5h3.4v3.3h-3.4zM379.0 604.5h2.9v1.6h-2.9zM361.0 324.7h4.3v2.8h-4.3zM389.3 769.0h2.8v1.0h-2.8zM369.0 484.4h2.2v1.2h-2.2zM369.8 496.2h3.4v1.2h-3.4zM368.0 467.3h2.6v3.4h-2.6zM363.2 439.0h5.0v3.4h-5.0zM356.4 263.0h4.2v1.0h-4.2zM387.8 773.8h2.1v3.0h-2.1zM366.2 427.8h3.8v2.0h-3.8zM388.8 784.9h3.9v1.0h-3.9zM371.0 520.8h2.7v1.4h-2.7zM366.9 422.7h4.8v3.2h-4.8zM369.7 470.8h4.6v2.2h-4.6zM351.9 180.4h2.7v3.0h-2.7zM369.0 451.2h4.0v3.2h-4.0zM365.3 376.8h2.3v1.3h-2.3zM363.6 378.5h2.5v3.3h-2.5zM353.3 238.8h3.3v1.3h-3.3zM374.6 608.5h2.0v3.2h-2.0zM366.0 409.3h3.0v1.3h-3.0zM359.7 298.4h4.6v1.1h-4.6zM385.2 705.4h2.1v2.5h-2.1zM353.4 219.7h3.9v1.8h-3.9zM350.5 207.6h4.0v2.0h-4.0zM373.3 522.8h3.8v2.1h-3.8zM360.7 343.1h4.8v1.5h-4.8zM375.3 577.4h3.2v1.0h-3.2zM367.4 503.3h3.6v1.6h-3.6zM355.6 219.5h4.9v2.7h-4.9zM378.5 594.6h2.7v1.4h-2.7zM387.1 794.2h3.4v2.7h-3.4zM352.9 235.5h2.4v2.2h-2.4zM355.4 158.4h2.5v3.0h-2.5zM385.8 733.9h2.7v1.6h-2.7zM387.7 780.4h5.0v2.8h-5.0zM377.5 589.7h3.0v2.0h-3.0zM366.6 475.2h3.9v3.4h-3.9zM358.9 220.5h2.0v2.1h-2.0zM363.9 444.2h3.5v3.1h-3.5zM367.2 448.0h5.0v2.9h-5.0zM390.0 822.8h5.1v3.4h-5.1zM357.0 195.3h2.3v1.2h-2.3zM369.5 465.6h3.8v1.8h-3.8zM360.4 270.3h4.0v1.8h-4.0zM357.3 276.7h2.7v2.4h-2.7zM371.2 569.8h3.0v2.2h-3.0zM368.9 435.9h2.4v2.5h-2.4zM387.3 791.0h2.9v1.2h-2.9zM382.0 700.6h4.3v3.0h-4.3zM358.9 333.3h3.9v2.4h-3.9zM381.9 660.9h3.4v1.4h-3.4zM379.7 701.4h2.7v3.3h-2.7zM365.4 421.9h2.4v3.2h-2.4zM355.6 185.4h5.0v2.4h-5.0zM355.8 175.8h2.6v1.6h-2.6zM368.9 526.7h2.3v1.4h-2.3zM383.4 767.0h2.4v1.0h-2.4zM386.5 790.7h2.1v1.2h-2.1zM356.8 220.1h2.0v2.5h-2.0zM382.7 722.5h3.0v1.4h-3.0zM365.5 478.7h3.2v3.0h-3.2zM365.6 369.5h3.5v2.6h-3.5zM384.3 718.6h2.3v2.7h-2.3zM386.9 730.1h4.2v2.0h-4.2zM352.5 227.5h3.0v1.7h-3.0zM366.7 463.1h3.8v2.0h-3.8zM352.5 196.4h2.2v2.4h-2.2zM360.7 343.6h2.5v2.1h-2.5zM355.5 236.4h3.2v1.1h-3.2zM367.3 454.2h4.7v2.8h-4.7zM378.0 582.1h3.0v1.9h-3.0zM371.7 504.8h4.1v1.2h-4.1zM352.9 178.0h4.1v2.7h-4.1zM367.2 451.2h2.2v2.4h-2.2zM362.6 347.9h3.7v2.4h-3.7zM381.6 753.2h5.1v2.3h-5.1zM368.0 525.1h5.2v2.4h-5.2zM358.4 281.6h3.8v2.5h-3.8zM380.8 700.9h2.0v3.4h-2.0zM371.4 557.1h3.0v1.4h-3.0zM369.0 418.6h2.5v2.2h-2.5zM363.9 434.9h2.5v1.8h-2.5zM386.8 738.7h3.6v3.1h-3.6zM371.3 507.6h4.4v2.9h-4.4zM378.0 618.6h2.4v1.2h-2.4zM359.6 275.3h2.4v3.0h-2.4zM355.3 179.4h2.3v3.0h-2.3zM384.3 691.6h4.1v1.5h-4.1zM387.0 720.9h3.4v1.4h-3.4zM357.0 263.9h2.9v1.8h-2.9zM370.1 460.1h2.6v1.5h-2.6zM381.8 718.4h2.1v1.3h-2.1zM360.5 265.3h2.8v2.2h-2.8zM363.8 345.4h4.8v3.5h-4.8zM369.4 514.8h2.9v2.9h-2.9zM365.3 462.1h3.6v1.3h-3.6zM350.8 177.4h4.4v2.6h-4.4zM360.6 332.6h5.0v3.1h-5.0zM370.8 579.6h4.0v3.1h-4.0zM361.2 368.3h5.1v2.4h-5.1zM373.1 545.3h5.1v1.8h-5.1zM358.0 209.6h2.9v2.5h-2.9zM368.3 408.2h3.5v3.1h-3.5zM368.0 484.5h4.0v2.7h-4.0zM380.4 674.4h3.1v1.3h-3.1zM368.2 531.1h3.9v1.4h-3.9zM361.7 375.7h3.2v1.1h-3.2zM365.1 359.4h3.9v1.5h-3.9zM354.7 180.1h2.2v1.9h-2.2zM361.8 307.7h4.0v1.1h-4.0zM384.5 789.7h2.2v1.1h-2.2zM360.4 358.3h4.2v2.4h-4.2zM370.6 543.1h3.9v2.5h-3.9zM376.1 590.2h3.1v2.9h-3.1zM376.0 612.0h2.6v2.7h-2.6zM366.7 508.2h4.4v1.1h-4.4zM352.5 183.4h3.5v1.4h-3.5zM356.8 275.5h4.6v1.6h-4.6zM369.7 558.6h4.1v1.3h-4.1zM384.9 703.0h3.5v2.3h-3.5zM370.5 533.6h5.2v2.4h-5.2zM373.8 562.2h4.1v2.2h-4.1zM367.7 460.0h2.7v3.4h-2.7zM379.7 673.9h4.6v2.3h-4.6zM366.6 461.1h3.8v1.6h-3.8zM354.0 152.8h3.6v2.1h-3.6zM365.7 456.7h2.4v3.1h-2.4zM350.5 154.9h2.6v1.1h-2.6zM380.1 676.9h2.3v2.7h-2.3zM353.6 250.5h3.9v3.1h-3.9zM374.1 552.0h3.1v2.8h-3.1zM369.8 428.2h2.1v1.4h-2.1zM352.7 155.8h5.1v2.7h-5.1zM355.5 270.4h3.1v2.5h-3.1zM374.1 548.4h3.8v2.4h-3.8zM374.5 582.0h2.9v2.3h-2.9zM358.4 279.5h4.1v1.3h-4.1zM357.0 201.5h3.4v1.5h-3.4zM378.8 632.1h2.8v2.1h-2.8zM373.8 611.4h3.5v3.4h-3.5zM368.7 421.0h3.0v2.6h-3.0zM383.8 731.8h3.9v3.2h-3.9zM355.4 210.3h3.9v2.7h-3.9zM378.5 625.6h2.7v2.9h-2.7zM350.4 159.0h4.1v3.4h-4.1zM360.1 334.9h3.6v1.1h-3.6zM351.4 201.8h3.8v2.3h-3.8zM363.4 373.4h5.2v2.7h-5.2zM372.7 509.9h2.7v2.9h-2.7zM363.0 311.6h4.5v3.2h-4.5zM369.4 495.8h5.0v2.3h-5.0zM357.1 237.6h3.8v1.6h-3.8zM370.0 538.1h4.6v1.5h-4.6zM377.2 631.0h4.1v1.7h-4.1zM375.5 566.8h4.3v2.8h-4.3zM381.2 658.2h4.5v3.1h-4.5zM370.5 519.8h4.7v2.6h-4.7zM381.8 734.2h4.2v3.1h-4.2zM366.0 383.5h3.9v2.3h-3.9zM369.9 442.7h2.7v2.8h-2.7zM369.4 454.5h4.6v1.8h-4.6zM367.1 395.0h4.6v2.4h-4.6zM361.0 335.8h4.8v1.2h-4.8zM353.3 192.3h2.8v1.6h-2.8zM370.5 451.1h3.0v2.9h-3.0zM356.5 232.8h4.0v2.6h-4.0zM374.4 511.2h2.3v1.5h-2.3zM381.7 742.1h4.2v3.3h-4.2zM369.2 441.4h4.5v1.6h-4.5zM368.8 476.3h2.8v1.3h-2.8zM358.4 268.7h2.3v1.9h-2.3zM360.9 328.0h3.6v1.1h-3.6zM357.2 285.9h4.5v1.6h-4.5zM378.1 677.2h4.1v1.0h-4.1zM358.5 294.4h4.1v1.5h-4.1zM387.4 812.2h2.7v2.1h-2.7zM366.6 470.8h4.0v1.9h-4.0zM387.2 821.5h4.5v2.3h-4.5zM365.6 346.9h3.0v2.4h-3.0zM362.0 397.2h2.3v2.9h-2.3zM379.7 715.6h3.8v2.3h-3.8zM380.8 739.9h4.8v2.0h-4.8zM376.0 644.6h3.0v1.4h-3.0zM358.6 251.7h3.6v1.4h-3.6zM384.4 762.9h3.7v1.7h-3.7zM366.9 464.3h4.9v2.1h-4.9zM367.6 440.3h4.9v2.0h-4.9zM366.9 483.8h3.9v1.6h-3.9zM359.5 280.8h4.4v2.7h-4.4zM364.2 410.0h5.0v1.9h-5.0zM368.8 498.2h4.9v1.7h-4.9zM382.9 781.3h4.5v1.9h-4.5zM359.8 321.0h4.2v1.0h-4.2zM380.3 643.3h3.8v2.5h-3.8zM371.3 487.3h3.1v2.0h-3.1zM365.2 342.8h2.8v1.9h-2.8zM389.2 758.7h2.7v1.2h-2.7zM367.7 519.0h5.1v2.3h-5.1zM376.3 557.2h3.3v3.4h-3.3zM372.1 531.7h4.9v3.2h-4.9zM380.4 629.9h2.2v2.9h-2.2zM361.6 301.5h2.0v3.0h-2.0zM372.5 502.5h2.4v2.3h-2.4zM372.5 527.9h2.2v1.3h-2.2zM362.0 401.1h3.6v1.4h-3.6zM370.0 462.7h2.5v1.6h-2.5zM350.4 150.1h3.3v1.0h-3.3zM365.8 499.4h5.1v1.7h-5.1zM370.9 465.0h4.2v1.1h-4.2zM353.7 201.4h2.7v3.3h-2.7zM356.6 257.4h2.3v3.0h-2.3zM374.9 605.9h2.4v2.5h-2.4zM355.3 265.6h3.6v2.2h-3.6zM365.9 465.7h3.0v1.6h-3.0zM381.2 689.4h2.7v1.7h-2.7zM359.1 328.4h3.5v3.2h-3.5zM365.7 493.6h4.8v2.4h-4.8zM378.3 663.6h4.5v1.2h-4.5zM375.1 537.9h3.4v2.2h-3.4zM372.6 556.8h4.5v2.6h-4.5zM370.4 522.4h2.4v2.5h-2.4zM360.1 358.2h2.5v1.9h-2.5zM363.8 367.6h3.5v1.5h-3.5zM369.8 572.2h5.0v2.9h-5.0zM365.1 375.6h3.2v1.4h-3.2zM388.0 807.3h4.0v1.1h-4.0zM386.0 821.5h2.3v1.8h-2.3zM384.7 790.9h3.9v3.1h-3.9zM365.4 435.7h4.3v2.2h-4.3zM378.3 615.3h4.6v1.6h-4.6zM350.9 165.7h2.1v1.4h-2.1zM350.4 138.8h2.1v3.3h-2.1zM352.9 228.0h3.4v2.9h-3.4zM355.3 242.7h4.0v3.1h-4.0zM383.6 721.1h2.9v1.7h-2.9zM369.7 447.0h4.7v1.8h-4.7zM367.2 411.3h2.8v1.4h-2.8zM370.3 487.3h2.9v2.7h-2.9zM376.4 615.8h2.1v2.7h-2.1zM386.1 827.0h4.7v1.7h-4.7zM355.9 299.4h5.0v1.1h-5.0zM375.3 623.2h4.2v2.1h-4.2zM358.7 254.0h2.4v3.3h-2.4zM385.1 821.2h2.7v2.5h-2.7zM365.0 368.7h3.0v1.5h-3.0zM361.1 325.5h2.4v1.8h-2.4zM357.6 220.3h3.6v2.1h-3.6zM360.2 345.7h3.1v1.4h-3.1zM355.8 159.0h3.7v1.9h-3.7zM354.0 164.7h3.8v2.4h-3.8zM363.3 353.8h4.3v3.4h-4.3zM354.1 164.7h4.2v3.3h-4.2zM365.8 455.2h4.1v3.3h-4.1zM367.4 415.7h2.6v1.2h-2.6zM353.0 251.0h4.4v3.5h-4.4zM353.8 147.1h3.1v3.2h-3.1zM368.4 438.0h3.5v1.8h-3.5zM367.0 388.2h3.4v1.1h-3.4zM357.8 244.0h3.5v2.6h-3.5zM385.3 806.8h3.1v2.2h-3.1zM361.3 309.8h3.3v2.3h-3.3zM368.9 505.6h4.1v2.5h-4.1zM373.6 530.4h4.6v2.8h-4.6zM372.1 542.1h4.9v1.8h-4.9zM378.7 648.6h2.1v3.1h-2.1zM363.7 410.1h3.0v2.6h-3.0zM375.4 582.5h3.5v1.8h-3.5zM361.3 379.3h2.2v1.9h-2.2zM366.0 431.6h2.5v1.0h-2.5zM373.0 556.5h2.5v1.6h-2.5zM379.1 610.1h4.4v1.3h-4.4zM373.4 544.7h3.1v2.8h-3.1zM364.2 350.4h4.8v1.2h-4.8zM383.5 781.4h5.0v1.0h-5.0zM359.5 257.3h4.2v3.3h-4.2zM368.4 545.2h4.7v1.3h-4.7zM384.9 712.0h2.0v3.3h-2.0zM388.1 771.0h4.7v1.3h-4.7zM380.5 692.1h4.0v2.4h-4.0zM358.4 348.8h4.4v3.4h-4.4zM375.0 621.8h3.1v2.1h-3.1zM364.1 426.5h3.7v3.4h-3.7zM377.6 610.8h2.1v2.3h-2.1zM362.0 384.9h3.3v2.9h-3.3zM381.5 696.5h3.9v2.2h-3.9zM359.4 294.7h3.1v2.9h-3.1zM357.4 317.3h3.4v2.8h-3.4zM380.7 690.3h4.1v3.4h-4.1zM385.6 721.1h3.8v2.8h-3.8zM360.2 284.4h3.7v2.7h-3.7zM371.6 588.1h3.0v1.2h-3.0zM373.0 525.1h3.1v1.6h-3.1zM381.7 689.1h4.5v2.4h-4.5zM360.9 328.5h3.7v3.3h-3.7zM359.0 312.3h2.3v2.3h-2.3zM375.3 621.5h4.5v3.3h-4.5zM351.5 183.0h4.2v1.7h-4.2zM391.0 816.9h3.1v2.6h-3.1zM387.6 792.1h2.6v1.4h-2.6zM355.9 256.6h4.3v2.0h-4.3zM363.5 378.3h3.4v3.5h-3.4zM361.8 371.5h4.6v2.8h-4.6zM373.8 602.0h3.5v2.9h-3.5zM350.0 149.2h2.9v2.3h-2.9zM385.6 697.6h2.6v1.7h-2.6zM382.3 653.1h3.8v3.1h-3.8zM363.0 384.4h4.2v2.6h-4.2zM386.8 757.2h3.2v1.7h-3.2zM352.6 182.3h2.3v2.7h-2.3zM379.0 659.1h2.9v1.5h-2.9zM354.1 137.5h5.1v2.1h-5.1zM378.4 676.6h5.2v1.5h-5.2zM357.5 293.2h3.6v1.5h-3.6zM373.1 516.7h2.7v1.5h-2.7zM360.0 256.9h3.4v3.5h-3.4zM372.7 526.6h4.3v1.7h-4.3zM368.9 422.6h4.0v2.0h-4.0zM376.1 611.3h4.7v2.0h-4.7zM386.2 825.1h4.5v3.2h-4.5zM366.2 436.4h3.7v3.4h-3.7zM350.5 158.9h2.8v1.4h-2.8zM354.7 144.0h3.0v2.7h-3.0zM370.8 495.1h4.3v2.9h-4.3zM374.3 626.3h3.6v3.0h-3.6zM381.0 641.9h2.3v2.1h-2.3zM371.7 595.0h4.5v3.2h-4.5zM389.2 827.1h3.5v2.7h-3.5zM358.3 260.7h4.8v3.2h-4.8zM370.3 521.2h2.6v2.2h-2.6zM385.7 720.1h3.3v3.4h-3.3zM355.2 180.0h4.7v1.7h-4.7zM372.4 550.3h3.3v3.0h-3.3zM385.9 766.7h2.8v1.7h-2.8zM365.3 396.3h5.0v1.1h-5.0zM378.5 647.7h4.3v2.1h-4.3zM376.8 630.3h4.5v1.7h-4.5zM355.4 171.0h2.8v1.2h-2.8zM381.5 710.2h4.6v1.4h-4.6zM359.7 291.5h3.4v2.5h-3.4zM352.2 251.4h4.9v1.2h-4.9zM376.3 581.0h4.8v1.2h-4.8zM386.6 736.2h3.5v2.6h-3.5zM348.6 137.6h5.0v3.3h-5.0zM366.1 455.6h2.1v2.3h-2.1zM352.8 141.1h3.0v3.4h-3.0zM363.6 366.1h2.9v2.4h-2.9zM384.2 744.1h2.2v2.5h-2.2zM385.9 787.2h2.5v2.5h-2.5zM378.0 672.3h2.6v2.3h-2.6zM361.8 319.4h2.7v1.3h-2.7zM367.8 475.3h3.3v2.0h-3.3zM373.5 592.9h4.3v3.4h-4.3zM388.5 805.3h3.2v3.4h-3.2zM353.4 188.1h2.0v2.9h-2.0zM375.5 576.1h3.8v1.2h-3.8zM364.6 327.5h2.5v3.1h-2.5zM353.8 241.7h3.9v2.8h-3.9zM355.0 242.1h4.9v1.5h-4.9zM351.7 137.2h4.0v1.4h-4.0zM383.1 666.5h3.7v3.4h-3.7zM374.9 540.3h2.0v2.4h-2.0zM375.7 619.2h4.7v1.6h-4.7zM361.9 367.1h2.2v1.0h-2.2zM370.6 525.6h3.5v2.9h-3.5zM381.8 648.0h3.4v1.4h-3.4zM365.8 364.4h4.3v1.3h-4.3zM376.4 609.2h5.0v3.3h-5.0zM370.8 475.8h2.0v2.8h-2.0zM367.3 452.9h4.9v3.3h-4.9zM374.3 529.5h3.4v1.8h-3.4zM367.0 498.5h3.9v2.0h-3.9zM370.4 567.2h5.0v1.3h-5.0zM360.3 325.5h3.0v3.2h-3.0zM369.5 425.6h3.4v2.3h-3.4zM357.8 222.8h2.5v1.9h-2.5zM374.1 614.0h2.3v2.3h-2.3zM386.0 794.7h3.5v2.3h-3.5zM382.7 670.6h2.1v1.3h-2.1zM381.6 640.9h4.1v1.8h-4.1zM349.5 146.9h3.2v3.2h-3.2zM366.6 440.5h3.2v1.5h-3.2zM385.6 699.5h2.9v2.6h-2.9zM353.1 151.3h4.0v1.9h-4.0zM364.7 421.2h4.8v2.9h-4.8zM359.8 335.3h3.5v1.7h-3.5zM364.0 425.7h4.7v2.3h-4.7zM351.8 221.3h3.4v1.4h-3.4zM372.0 571.7h3.8v2.2h-3.8zM379.2 608.7h2.9v1.1h-2.9zM359.0 276.9h3.8v2.6h-3.8zM367.0 505.4h5.0v2.0h-5.0zM357.7 337.4h4.4v2.4h-4.4zM357.2 323.4h3.9v2.2h-3.9zM359.5 360.8h3.4v1.8h-3.4zM354.8 160.5h2.9v3.0h-2.9zM379.2 707.7h4.2v3.2h-4.2zM360.9 318.9h4.4v3.2h-4.4zM360.8 376.9h4.2v1.6h-4.2zM358.7 253.3h4.4v1.8h-4.4zM363.8 371.2h4.6v3.0h-4.6zM354.7 155.9h2.7v1.4h-2.7zM365.9 370.0h3.1v2.2h-3.1zM363.9 397.4h2.6v1.7h-2.6zM374.9 558.7h4.6v3.0h-4.6zM355.9 219.2h3.9v1.2h-3.9zM365.6 403.8h2.9v2.3h-2.9zM365.9 371.3h4.0v2.3h-4.0zM382.2 735.2h3.7v1.2h-3.7zM368.7 519.6h4.5v2.2h-4.5zM366.1 491.8h3.5v2.0h-3.5zM357.7 207.1h2.3v1.2h-2.3zM365.8 360.7h2.1v2.5h-2.1zM365.2 454.2h2.8v1.6h-2.8zM386.4 813.5h4.5v1.8h-4.5zM367.0 418.1h2.6v3.1h-2.6zM372.5 533.8h3.1v3.0h-3.1zM351.4 201.1h4.4v1.4h-4.4zM379.5 620.0h2.6v1.9h-2.6zM366.9 507.9h3.7v2.0h-3.7zM363.4 335.9h4.4v1.1h-4.4zM388.7 796.8h2.6v2.5h-2.6zM352.8 142.7h3.3v3.4h-3.3zM352.7 223.4h2.3v1.4h-2.3zM355.9 166.0h3.2v1.0h-3.2zM372.0 567.4h2.5v3.1h-2.5zM363.2 435.1h3.2v3.0h-3.2zM351.4 135.8h2.4v2.2h-2.4zM351.3 138.6h4.1v2.4h-4.1zM367.7 466.4h5.1v3.3h-5.1zM385.8 817.0h4.9v1.6h-4.9zM379.0 615.8h2.6v2.9h-2.6zM361.8 351.3h5.2v2.2h-5.2zM380.4 651.8h4.8v2.2h-4.8zM354.7 178.2h3.2v3.2h-3.2zM363.8 422.3h4.6v1.6h-4.6zM355.7 183.1h3.5v1.5h-3.5zM363.2 330.9h4.4v3.3h-4.4zM378.2 650.7h3.2v2.5h-3.2zM378.1 669.2h5.2v1.8h-5.2zM350.0 138.3h4.4v3.2h-4.4zM353.9 249.8h3.0v2.0h-3.0zM360.6 331.2h3.8v3.0h-3.8zM356.0 274.8h4.0v3.1h-4.0zM359.5 290.5h2.4v2.7h-2.4zM357.1 223.1h4.7v3.2h-4.7zM372.8 613.3h4.4v3.5h-4.4zM357.7 267.0h4.6v1.2h-4.6zM385.0 771.3h4.3v3.1h-4.3zM363.7 373.1h4.9v1.7h-4.9zM353.2 196.0h2.7v3.4h-2.7zM367.5 520.9h4.4v3.0h-4.4zM384.7 805.9h2.1v3.3h-2.1zM387.3 751.1h3.9v1.5h-3.9zM367.5 459.4h2.3v1.5h-2.3zM355.6 238.1h5.0v2.2h-5.0zM372.4 611.5h5.0v1.8h-5.0zM361.7 369.3h4.5v1.2h-4.5zM358.0 291.1h4.5v1.1h-4.5zM386.8 800.2h3.9v3.1h-3.9zM382.4 646.0h2.0v1.7h-2.0zM379.6 684.8h2.3v1.2h-2.3zM384.4 753.4h2.6v2.0h-2.6zM383.9 704.6h4.9v2.9h-4.9zM366.7 463.4h2.1v1.5h-2.1zM359.2 303.1h3.1v1.3h-3.1zM373.8 578.4h2.4v2.3h-2.4zM374.4 586.8h3.0v2.6h-3.0zM358.2 264.6h3.6v1.6h-3.6zM387.0 749.9h4.0v2.9h-4.0zM384.8 694.1h2.7v1.3h-2.7zM381.6 727.1h4.5v1.0h-4.5zM382.2 699.8h2.5v2.1h-2.5zM378.0 666.1h2.5v1.8h-2.5zM365.0 432.8h2.2v3.4h-2.2zM387.0 767.1h2.6v1.2h-2.6zM379.8 676.4h4.0v3.4h-4.0zM374.9 615.1h3.0v1.2h-3.0zM363.8 317.7h3.4v3.1h-3.4zM366.2 421.1h4.2v3.3h-4.2zM378.2 664.5h4.9v3.3h-4.9zM383.8 709.5h4.3v1.7h-4.3zM354.9 232.7h3.0v2.7h-3.0zM374.8 557.3h3.6v2.9h-3.6zM365.1 399.5h4.3v1.9h-4.3zM356.8 296.1h3.4v1.2h-3.4zM351.8 200.7h4.8v3.5h-4.8zM353.7 205.9h4.4v1.9h-4.4zM365.0 413.5h4.9v2.4h-4.9zM358.5 305.0h4.6v2.9h-4.6zM358.5 247.0h3.2v2.4h-3.2zM376.4 602.6h3.5v1.7h-3.5zM381.3 696.4h4.4v3.1h-4.4zM368.7 452.1h4.2v2.6h-4.2zM379.8 676.8h4.2v1.6h-4.2zM364.4 433.6h2.9v3.2h-2.9zM363.6 420.6h3.5v3.1h-3.5zM359.5 305.5h4.9v3.1h-4.9zM384.0 677.2h3.2v2.6h-3.2zM364.6 354.6h3.4v1.1h-3.4zM390.1 782.4h2.8v1.4h-2.8zM375.3 571.2h4.3v2.5h-4.3zM351.2 165.3h2.8v1.6h-2.8zM357.9 237.1h3.8v2.5h-3.8zM363.2 312.4h3.8v2.5h-3.8zM374.9 574.5h2.7v2.8h-2.7zM366.7 384.1h2.8v3.1h-2.8zM388.6 822.0h4.4v1.1h-4.4zM374.0 604.8h3.0v1.2h-3.0zM375.3 566.3h5.2v1.9h-5.2zM365.9 375.0h4.1v1.3h-4.1zM385.0 693.2h3.7v2.3h-3.7zM381.3 712.6h3.9v1.8h-3.9zM383.9 743.7h2.8v1.7h-2.8zM354.0 167.9h3.4v1.4h-3.4zM374.3 581.4h4.9v2.2h-4.9zM389.9 807.9h4.6v2.6h-4.6zM354.9 243.2h3.0v2.5h-3.0zM361.0 304.6h2.7v1.5h-2.7zM362.7 325.2h5.1v2.2h-5.1zM361.7 293.2h3.8v3.5h-3.8zM388.6 750.0h2.8v2.6h-2.8zM354.0 259.1h3.7v1.8h-3.7zM359.4 270.2h2.7v1.2h-2.7zM365.9 409.2h3.1v3.4h-3.1zM375.9 584.6h4.8v3.5h-4.8zM374.6 533.4h2.7v2.5h-2.7zM364.6 410.9h4.4v1.6h-4.4zM367.7 476.6h3.6v2.6h-3.6zM351.4 192.2h4.9v1.5h-4.9zM371.9 477.0h2.2v3.5h-2.2zM354.9 199.2h2.7v1.5h-2.7zM379.9 609.8h2.8v1.5h-2.8zM376.1 618.6h4.1v1.3h-4.1zM380.8 642.9h3.1v1.6h-3.1zM360.5 363.4h2.0v1.9h-2.0zM385.2 738.6h4.5v2.4h-4.5zM373.9 529.7h2.3v3.2h-2.3zM365.5 491.7h5.1v2.4h-5.1zM370.6 500.1h4.4v1.2h-4.4zM372.3 496.0h5.1v2.6h-5.1zM363.2 431.0h5.0v2.8h-5.0zM372.1 499.4h2.1v3.4h-2.1zM389.6 827.1h2.6v3.1h-2.6zM360.7 284.3h4.5v2.8h-4.5zM349.7 155.8h2.2v1.7h-2.2zM366.3 379.1h2.8v2.9h-2.8zM358.3 226.3h3.6v1.6h-3.6zM358.4 275.0h5.0v1.2h-5.0zM387.2 740.2h4.8v2.8h-4.8zM378.7 657.3h3.0v3.4h-3.0zM355.5 222.8h4.8v1.8h-4.8zM363.5 354.6h2.6v1.3h-2.6zM371.5 547.1h4.7v1.6h-4.7zM382.3 672.6h4.7v1.8h-4.7zM371.8 589.8h3.7v3.1h-3.7zM352.6 205.1h2.3v1.9h-2.3zM361.7 306.8h2.8v2.4h-2.8zM361.1 329.6h3.1v1.1h-3.1zM358.9 360.7h5.1v3.5h-5.1zM385.3 821.9h3.2v3.3h-3.2zM377.8 665.6h2.6v1.9h-2.6zM380.9 730.9h4.9v3.3h-4.9zM389.2 799.8h3.9v1.9h-3.9zM377.7 654.4h3.8v3.4h-3.8zM375.8 612.1h4.5v2.6h-4.5zM374.4 570.6h2.8v1.3h-2.8zM366.4 441.2h4.7v1.9h-4.7zM354.0 252.0h4.4v3.0h-4.4zM365.8 443.4h5.0v3.4h-5.0zM385.2 711.6h5.1v1.1h-5.1zM382.6 685.7h4.8v3.2h-4.8zM386.6 708.2h3.0v3.5h-3.0zM365.6 489.3h4.1v2.3h-4.1zM357.7 251.2h3.9v1.2h-3.9zM384.9 799.3h4.0v1.4h-4.0zM370.4 542.7h4.9v1.9h-4.9zM367.2 410.7h4.2v1.4h-4.2zM372.5 502.9h5.2v1.4h-5.2zM365.4 437.1h3.0v1.4h-3.0zM360.2 290.9h3.5v1.9h-3.5zM377.5 625.8h2.9v2.3h-2.9zM356.5 241.2h4.5v1.7h-4.5zM371.7 563.3h5.1v1.6h-5.1zM384.1 683.5h4.6v1.8h-4.6zM365.6 462.7h4.4v2.5h-4.4zM351.7 148.9h3.9v1.9h-3.9zM372.8 521.7h2.5v2.5h-2.5zM386.3 825.7h4.6v2.4h-4.6zM388.0 784.2h4.8v2.0h-4.8zM372.8 492.7h2.6v2.9h-2.6zM360.2 377.7h4.7v1.8h-4.7zM366.7 495.7h3.6v1.7h-3.6zM364.7 335.0h3.1v2.2h-3.1zM388.0 743.5h2.6v2.7h-2.6zM361.1 296.8h2.1v1.1h-2.1zM386.9 807.3h2.1v1.0h-2.1zM379.9 621.3h4.4v3.2h-4.4zM371.6 520.1h4.0v2.4h-4.0zM359.5 303.4h4.6v1.5h-4.6zM360.3 299.1h4.0v2.0h-4.0zM375.5 563.2h4.7v3.4h-4.7zM360.7 334.9h2.0v3.1h-2.0zM368.9 476.3h4.4v2.4h-4.4zM387.8 779.4h3.0v1.3h-3.0zM364.7 369.5h2.3v1.4h-2.3zM380.1 660.9h3.8v1.2h-3.8zM383.1 745.2h5.0v3.4h-5.0zM364.8 453.0h4.0v1.1h-4.0zM388.7 787.3h2.1v2.5h-2.1zM359.4 357.5h3.3v2.1h-3.3zM375.0 586.4h2.9v2.1h-2.9zM354.4 220.4h4.4v1.4h-4.4zM366.8 480.7h5.2v3.4h-5.2zM360.3 347.0h2.7v3.0h-2.7zM371.2 529.8h4.9v3.1h-4.9zM355.5 286.5h4.1v1.1h-4.1zM377.5 666.5h3.2v2.4h-3.2zM359.0 246.6h3.8v3.3h-3.8zM363.9 367.9h2.6v2.9h-2.6zM388.9 766.2h2.8v1.9h-2.8zM363.1 355.7h3.7v1.3h-3.7zM359.0 295.0h3.5v1.5h-3.5zM374.9 600.7h4.9v2.0h-4.9zM378.4 655.0h2.2v1.4h-2.2zM347.9 137.2h4.2v2.8h-4.2zM360.3 259.4h2.5v3.1h-2.5zM383.4 800.3h4.5v2.7h-4.5zM364.7 402.5h4.2v2.5h-4.2zM377.8 594.1h2.9v1.6h-2.9zM371.6 596.9h4.8v2.7h-4.8zM370.2 566.1h5.1v2.2h-5.1zM379.3 689.5h4.8v2.2h-4.8zM357.7 314.4h2.3v1.7h-2.3zM383.6 740.7h3.6v2.2h-3.6zM374.0 530.1h4.4v2.4h-4.4zM369.3 431.6h2.6v1.1h-2.6zM380.0 669.2h3.8v1.4h-3.8zM388.0 732.5h2.8v2.0h-2.8zM353.2 240.1h2.8v1.3h-2.8zM357.9 300.7h5.1v3.1h-5.1zM370.2 541.6h4.5v2.8h-4.5zM377.4 622.9h3.3v1.9h-3.3zM363.1 321.9h5.1v2.8h-5.1zM361.2 339.4h3.3v2.5h-3.3zM363.1 412.6h3.9v2.7h-3.9zM379.4 661.0h3.9v2.5h-3.9zM359.8 346.4h4.8v2.2h-4.8zM372.7 606.1h3.8v2.8h-3.8zM355.0 168.5h4.0v1.9h-4.0zM362.2 313.6h3.3v3.2h-3.3zM361.6 293.5h4.4v2.2h-4.4zM384.7 687.6h4.0v1.1h-4.0zM364.8 478.4h4.6v1.8h-4.6zM379.5 668.6h5.0v3.4h-5.0zM351.5 147.0h2.2v1.3h-2.2zM354.7 148.4h2.5v1.1h-2.5zM376.9 583.7h3.4v2.2h-3.4zM349.3 157.4h4.6v1.0h-4.6zM367.5 393.1h3.1v1.6h-3.1zM361.9 372.9h2.7v1.2h-2.7zM368.3 414.2h3.7v1.1h-3.7zM370.2 505.6h4.5v2.1h-4.5zM370.1 542.6h2.6v2.8h-2.6zM387.1 744.0h2.6v2.6h-2.6zM369.9 480.5h2.5v1.5h-2.5zM359.0 247.9h3.7v2.1h-3.7zM379.5 668.1h3.2v1.6h-3.2zM364.4 362.9h4.9v2.6h-4.9zM355.4 254.8h2.2v2.4h-2.2zM375.3 598.9h3.9v3.0h-3.9zM355.7 217.7h5.1v1.8h-5.1zM355.1 236.3h3.7v2.8h-3.7zM387.8 798.8h2.8v3.0h-2.8zM382.0 721.8h3.8v2.0h-3.8zM383.6 772.1h4.3v3.1h-4.3zM382.0 669.8h4.7v1.7h-4.7zM373.1 577.4h4.8v3.1h-4.8zM385.3 797.7h2.4v2.4h-2.4zM371.3 510.9h3.9v1.0h-3.9zM378.0 584.9h3.6v1.5h-3.6zM385.6 740.5h5.2v2.6h-5.2zM380.7 726.1h4.0v2.7h-4.0zM353.5 229.4h5.0v1.0h-5.0zM367.1 412.7h2.4v2.3h-2.4zM375.1 527.4h2.3v2.3h-2.3zM368.7 529.5h5.2v2.8h-5.2zM371.9 543.6h2.9v3.3h-2.9zM375.7 597.9h2.8v2.3h-2.8zM353.0 257.6h4.3v2.1h-4.3zM382.8 672.3h2.0v1.7h-2.0zM352.4 247.2h5.1v3.3h-5.1zM377.3 623.8h3.7v2.4h-3.7zM370.3 485.6h3.7v1.1h-3.7zM353.8 233.0h3.3v2.4h-3.3zM378.1 688.1h4.7v2.5h-4.7zM361.1 295.5h2.4v2.7h-2.4zM372.5 603.8h4.6v3.0h-4.6zM354.5 173.6h2.8v1.9h-2.8zM375.4 559.3h2.4v3.0h-2.4zM370.4 553.4h4.1v3.2h-4.1zM362.9 423.3h2.9v3.3h-2.9zM371.5 532.6h3.0v1.8h-3.0zM358.2 271.6h3.4v1.5h-3.4zM386.6 800.2h4.8v2.1h-4.8zM366.7 509.2h4.6v1.0h-4.6zM382.5 721.0h2.4v2.3h-2.4zM368.4 436.3h2.5v2.5h-2.5zM364.9 385.8h2.2v3.0h-2.2zM354.2 140.5h4.6v1.2h-4.6zM357.9 207.0h2.9v1.7h-2.9zM370.6 568.3h4.9v2.1h-4.9zM381.2 748.2h4.9v1.1h-4.9zM387.8 790.9h4.4v3.4h-4.4zM369.6 430.1h2.1v1.9h-2.1zM358.7 232.5h2.2v1.5h-2.2zM371.8 535.3h5.2v2.4h-5.2zM376.0 636.7h4.4v1.1h-4.4zM387.2 777.3h2.3v2.7h-2.3zM367.0 426.1h4.8v1.3h-4.8zM357.2 183.5h2.2v2.8h-2.2zM382.1 761.1h4.1v2.2h-4.1zM390.1 823.0h2.2v1.8h-2.2zM377.6 683.1h4.4v3.4h-4.4zM385.0 796.0h4.8v1.3h-4.8zM366.0 450.5h4.9v1.3h-4.9zM385.3 722.9h4.2v2.1h-4.2zM374.0 591.8h3.5v1.2h-3.5zM355.1 172.2h5.0v2.9h-5.0zM365.6 471.5h4.7v3.5h-4.7zM354.6 190.7h5.1v1.2h-5.1zM372.0 491.8h2.5v3.2h-2.5zM380.4 698.0h5.0v1.5h-5.0zM364.9 395.4h2.5v1.9h-2.5zM384.4 772.1h3.0v1.3h-3.0zM360.2 250.4h2.3v1.5h-2.3zM349.7 164.7h3.1v2.4h-3.1zM363.6 348.4h2.2v2.7h-2.2zM370.6 470.1h3.6v1.3h-3.6zM360.5 340.3h2.0v1.7h-2.0zM368.6 506.6h3.8v1.1h-3.8zM366.6 478.8h3.8v1.5h-3.8zM364.3 355.9h3.2v2.8h-3.2zM368.2 510.4h3.9v2.5h-3.9zM372.2 518.1h5.0v2.4h-5.0zM370.9 501.3h5.1v2.0h-5.1zM362.2 328.4h3.2v2.7h-3.2zM357.4 267.7h5.0v3.3h-5.0zM363.4 357.8h4.0v2.6h-4.0zM359.4 299.5h4.0v3.5h-4.0zM361.2 283.6h3.7v3.0h-3.7zM358.6 260.8h5.0v1.8h-5.0zM382.4 751.7h4.8v3.0h-4.8zM368.3 531.3h3.9v1.8h-3.9zM350.6 138.3h3.0v1.8h-3.0zM388.6 823.6h4.7v2.9h-4.7zM374.5 547.7h2.9v2.7h-2.9zM380.3 634.0h3.8v2.0h-3.8zM359.2 351.8h4.5v1.8h-4.5zM360.1 272.5h2.6v2.6h-2.6zM368.1 446.2h2.1v2.8h-2.1zM369.7 558.0h3.4v1.3h-3.4zM354.5 240.0h3.6v3.2h-3.6zM351.6 205.3h2.1v3.0h-2.1zM385.6 722.6h4.5v1.3h-4.5zM375.2 626.0h2.9v3.3h-2.9zM382.6 682.6h4.4v2.1h-4.4z" fill="#9c9c9c"/>
<polyline points="353.3,135.0 357.0,235.0 363.0,330.0 368.4,440.0 376.0,580.0 381.6,660.0 386.0,730.0 390.0,828.0" fill="none" stroke="#4c4c4c" stroke-width="1.5"/>
<polyline points="440.2,135.0 444.5,235.0 448.4,300.0 456.0,440.0 463.6,580.0 469.5,700.0 473.0,760.0 475.0,828.0" fill="none" stroke="#999" stroke-width="6.5"/>
<path d="M469.9 760.5h4.5v3.2h-4.5zM469.0 743.3h4.2v2.5h-4.2zM448.9 306.0h4.7v2.9h-4.7zM461.7 614.3h3.0v3.3h-3.0zM441.2 191.1h4.2v3.5h-4.2zM451.7 418.3h2.6v2.1h-2.6zM454.7 464.5h2.9v1.3h-2.9zM443.1 254.0h4.2v2.4h-4.2zM449.3 306.7h2.2v3.0h-2.2zM466.6 647.0h5.1v1.6h-5.1zM448.0 290.8h4.6v1.6h-4.6zM455.7 449.5h4.4v1.2h-4.4zM447.2 345.1h2.2v2.3h-2.2zM467.8 709.1h4.3v3.4h-4.3zM440.5 237.3h3.3v3.4h-3.3zM465.4 635.8h4.5v2.1h-4.5zM449.5 325.9h4.5v2.0h-4.5zM452.4 393.5h3.1v1.8h-3.1zM473.3 785.5h5.1v3.0h-5.1zM464.4 667.0h3.9v1.3h-3.9zM452.9 465.8h3.8v1.8h-3.8zM455.2 434.0h3.9v3.4h-3.9zM465.7 698.0h4.4v2.7h-4.4zM456.4 476.1h3.8v1.8h-3.8zM450.0 390.7h2.9v2.5h-2.9zM457.2 490.3h3.7v2.7h-3.7zM441.9 165.4h2.3v2.3h-2.3zM468.3 735.1h3.0v1.6h-3.0zM464.7 619.9h2.5v1.9h-2.5zM470.9 808.0h4.3v1.4h-4.3zM452.2 376.3h4.5v2.5h-4.5zM462.1 643.4h5.1v1.3h-5.1zM445.4 303.4h4.3v3.0h-4.3zM450.7 359.5h4.6v1.0h-4.6zM443.3 201.5h2.9v2.1h-2.9zM467.2 678.5h5.1v1.2h-5.1zM449.8 382.0h4.1v1.7h-4.1zM454.7 477.6h2.1v2.4h-2.1zM452.7 471.0h4.9v2.9h-4.9zM461.5 593.5h2.2v2.9h-2.2zM469.3 722.5h4.6v1.8h-4.6zM436.8 148.2h4.8v1.9h-4.8zM460.1 584.6h3.4v2.6h-3.4zM456.0 472.0h4.7v1.3h-4.7zM461.2 549.8h3.5v1.9h-3.5zM436.9 162.6h4.7v1.2h-4.7zM462.6 625.0h4.8v2.0h-4.8zM447.1 276.4h2.5v2.8h-2.5zM443.8 259.5h3.3v2.5h-3.3zM455.1 420.5h4.6v2.0h-4.6zM460.7 576.5h3.6v2.8h-3.6zM458.3 477.0h3.3v3.2h-3.3zM467.8 732.9h4.3v3.3h-4.3zM448.0 293.5h2.3v1.1h-2.3zM453.9 411.0h2.9v1.2h-2.9zM458.1 505.6h2.8v3.1h-2.8zM467.2 663.1h2.6v1.4h-2.6zM439.8 171.4h2.8v1.7h-2.8zM461.8 569.9h4.9v2.4h-4.9zM453.0 414.0h4.1v3.0h-4.1zM459.4 567.3h3.0v3.4h-3.0zM451.1 381.4h4.2v3.5h-4.2zM443.6 222.1h4.7v2.8h-4.7zM453.2 433.2h4.0v1.7h-4.0zM443.7 194.4h3.2v1.7h-3.2zM455.4 454.5h3.1v2.2h-3.1zM450.2 395.0h3.4v1.0h-3.4zM460.6 597.8h4.6v1.9h-4.6zM472.8 766.7h3.5v2.7h-3.5zM464.8 682.3h2.7v3.2h-2.7zM439.6 188.8h4.2v3.3h-4.2zM472.9 811.8h4.0v1.2h-4.0zM470.5 723.6h3.5v2.5h-3.5zM454.6 414.8h2.6v2.3h-2.6zM457.4 487.4h5.1v1.9h-5.1zM450.9 365.6h4.3v1.3h-4.3zM451.1 398.7h4.6v1.7h-4.6zM447.0 316.8h3.5v1.7h-3.5zM470.9 807.7h2.2v3.2h-2.2zM440.3 160.3h4.7v2.6h-4.7zM445.0 264.9h2.0v2.9h-2.0zM457.7 528.1h2.4v3.5h-2.4zM471.8 787.6h4.6v2.9h-4.6zM456.7 496.5h5.1v3.2h-5.1zM467.7 680.8h3.7v1.2h-3.7zM444.1 200.7h2.5v2.3h-2.5zM474.0 803.7h4.3v1.4h-4.3zM473.1 756.3h4.6v2.6h-4.6zM452.1 435.7h5.0v2.4h-5.0zM448.0 314.7h4.3v3.1h-4.3zM458.5 545.7h2.5v2.9h-2.5zM462.9 617.7h4.6v2.4h-4.6zM462.2 562.7h3.1v3.5h-3.1zM444.3 267.4h3.7v1.6h-3.7zM464.3 642.0h3.4v2.1h-3.4zM439.9 229.7h3.9v2.1h-3.9zM473.9 787.7h3.0v3.1h-3.0zM466.8 701.6h2.4v1.8h-2.4zM468.2 688.3h4.8v2.3h-4.8zM452.0 357.5h2.5v1.8h-2.5zM450.4 398.8h2.6v3.1h-2.6zM471.9 795.5h3.0v2.5h-3.0zM467.9 726.3h2.8v2.5h-2.8zM466.1 643.1h2.4v1.4h-2.4zM439.4 197.9h2.9v3.2h-2.9zM452.7 387.1h5.1v1.2h-5.1zM439.0 185.0h4.2v2.6h-4.2zM458.3 542.4h2.4v1.8h-2.4zM470.1 715.0h3.8v1.9h-3.8zM442.4 236.7h4.1v3.2h-4.1zM459.6 556.5h2.4v3.3h-2.4zM455.0 450.9h2.9v3.2h-2.9zM468.1 656.6h2.2v3.4h-2.2zM471.2 774.5h3.3v2.0h-3.3zM451.8 402.4h4.6v1.5h-4.6zM440.3 150.2h2.7v2.3h-2.7zM442.6 218.9h3.0v1.8h-3.0zM450.1 359.3h4.9v1.4h-4.9zM447.4 316.2h2.8v2.9h-2.8zM447.4 301.4h4.2v1.5h-4.2zM471.8 767.3h2.5v1.0h-2.5zM457.5 493.9h4.3v2.2h-4.3zM449.9 361.8h4.5v2.0h-4.5zM447.5 287.0h3.9v2.7h-3.9zM466.6 671.2h3.5v1.3h-3.5zM458.1 529.8h2.3v3.4h-2.3zM449.1 302.3h3.4v2.9h-3.4zM474.5 820.2h2.7v2.0h-2.7zM467.4 632.4h2.1v2.2h-2.1zM471.1 789.6h3.8v3.2h-3.8zM464.6 670.7h2.3v1.8h-2.3zM469.2 694.9h3.2v1.7h-3.2zM470.1 798.0h3.5v1.8h-3.5zM461.5 599.3h2.3v3.4h-2.3zM458.0 459.8h3.3v2.5h-3.3zM444.4 231.4h3.3v2.2h-3.3zM459.8 525.9h5.1v3.1h-5.1zM453.0 377.8h3.1v1.3h-3.1zM441.6 262.6h5.1v3.4h-5.1zM440.4 163.6h5.1v2.7h-5.1zM442.0 242.7h3.6v2.0h-3.6zM449.5 381.6h2.1v3.2h-2.1zM469.0 732.9h5.0v3.1h-5.0zM456.1 436.4h3.6v3.3h-3.6zM470.9 714.7h2.1v2.1h-2.1zM456.8 522.1h3.7v3.4h-3.7zM453.1 385.9h3.0v1.1h-3.0zM437.3 175.0h4.5v2.5h-4.5zM462.9 584.5h5.1v2.5h-5.1zM439.3 167.6h4.1v2.8h-4.1zM469.0 693.1h3.0v1.2h-3.0zM453.7 466.8h3.7v2.4h-3.7zM451.5 388.9h2.6v2.5h-2.6zM473.8 777.2h2.6v1.6h-2.6zM451.9 421.4h3.3v1.2h-3.3zM466.4 637.1h3.9v3.0h-3.9zM450.6 338.5h3.7v1.7h-3.7zM468.7 733.9h4.6v2.8h-4.6zM459.2 575.6h4.7v3.0h-4.7zM448.2 362.6h3.4v2.8h-3.4zM450.8 357.7h3.1v3.4h-3.1zM437.9 161.4h4.2v1.3h-4.2zM455.2 459.1h2.9v2.6h-2.9zM465.0 597.1h3.3v1.4h-3.3zM452.5 423.7h2.4v1.9h-2.4zM465.2 628.3h4.1v1.5h-4.1zM441.9 248.8h4.1v3.0h-4.1zM451.3 343.8h2.6v3.2h-2.6zM452.1 392.7h3.7v2.1h-3.7zM456.1 429.9h2.0v1.3h-2.0zM458.3 543.8h4.5v1.3h-4.5zM442.5 245.1h4.9v2.5h-4.9zM461.1 534.6h3.3v1.6h-3.3zM453.9 458.9h2.6v2.7h-2.6zM466.1 712.5h3.1v2.6h-3.1zM460.4 565.9h4.3v1.7h-4.3zM461.7 557.0h2.9v1.6h-2.9zM458.8 493.1h4.0v2.2h-4.0zM470.6 788.0h4.0v2.6h-4.0zM457.3 506.9h3.8v2.1h-3.8zM458.0 491.5h4.5v2.2h-4.5zM461.6 518.9h2.5v2.5h-2.5zM453.5 430.3h2.2v1.7h-2.2zM449.0 340.5h5.0v3.1h-5.0zM439.6 222.4h4.1v2.4h-4.1zM465.9 675.2h3.0v1.5h-3.0zM447.5 293.6h4.6v1.3h-4.6zM453.6 376.3h2.1v1.0h-2.1zM464.7 631.0h5.1v1.0h-5.1zM471.9 772.5h3.9v1.8h-3.9zM461.6 594.1h4.2v2.7h-4.2zM455.7 501.2h4.4v1.6h-4.4zM466.3 713.3h4.5v3.2h-4.5zM443.4 230.7h4.4v1.0h-4.4zM470.6 730.6h3.3v1.9h-3.3zM446.2 296.1h2.9v2.7h-2.9zM450.6 398.9h4.2v3.2h-4.2zM453.2 454.3h3.6v2.2h-3.6zM471.0 748.2h3.7v2.9h-3.7zM471.2 788.5h4.4v1.6h-4.4zM470.5 813.3h5.1v3.4h-5.1zM441.2 172.0h2.0v2.2h-2.0zM445.4 293.8h4.1v2.1h-4.1zM469.5 764.3h4.4v1.2h-4.4zM450.5 398.4h2.6v1.1h-2.6zM453.1 429.8h3.9v2.6h-3.9zM466.5 665.4h2.7v2.5h-2.7zM441.5 181.2h2.8v1.0h-2.8zM460.3 554.4h3.5v2.7h-3.5zM454.7 417.3h2.1v1.3h-2.1zM449.2 373.7h4.8v3.3h-4.8zM457.2 523.7h3.2v1.9h-3.2zM456.8 535.8h5.1v3.0h-5.1zM457.9 510.7h2.4v2.9h-2.4zM454.4 427.0h2.7v2.1h-2.7zM442.2 250.4h4.0v3.2h-4.0zM469.0 780.9h4.5v1.4h-4.5zM440.5 251.3h4.9v1.7h-4.9zM451.0 374.6h2.0v2.6h-2.0zM438.2 170.5h3.3v2.2h-3.3zM450.7 315.4h2.0v1.8h-2.0zM461.1 538.7h2.5v3.1h-2.5zM469.0 778.5h4.0v1.3h-4.0zM453.8 433.1h5.1v3.0h-5.1zM444.7 277.2h3.5v3.1h-3.5zM442.0 167.6h3.4v3.2h-3.4zM469.5 754.0h4.7v1.9h-4.7zM438.6 160.8h5.2v1.6h-5.2zM463.0 639.3h2.3v1.6h-2.3zM448.0 376.2h4.1v2.8h-4.1zM445.9 278.5h2.7v3.4h-2.7zM445.5 279.8h3.3v1.6h-3.3zM463.7 586.9h2.5v1.6h-2.5zM462.7 638.9h4.5v2.7h-4.5zM457.7 550.0h4.6v2.0h-4.6zM444.1 247.7h4.0v2.9h-4.0zM452.3 356.0h2.8v1.1h-2.8zM467.1 712.9h3.7v2.4h-3.7zM467.5 672.6h4.4v3.1h-4.4zM454.0 467.2h2.3v1.5h-2.3zM441.1 190.8h2.5v1.7h-2.5zM468.3 671.7h3.0v2.3h-3.0zM452.0 425.4h4.3v1.1h-4.3zM456.2 510.6h4.1v1.1h-4.1zM469.6 715.2h2.1v3.0h-2.1zM448.6 335.6h2.6v3.4h-2.6zM442.3 222.9h3.1v1.7h-3.1zM458.0 474.5h2.6v1.7h-2.6zM461.8 534.7h3.4v3.5h-3.4zM439.2 166.8h5.0v3.0h-5.0zM447.6 337.8h4.2v2.5h-4.2zM459.8 587.5h4.7v3.2h-4.7zM472.5 821.8h2.1v1.5h-2.1zM457.2 525.6h2.5v1.4h-2.5zM453.9 403.4h2.0v1.9h-2.0zM468.3 746.3h3.0v3.1h-3.0zM463.1 586.5h4.9v3.2h-4.9zM472.4 760.8h4.5v1.4h-4.5zM442.7 226.9h3.2v1.9h-3.2zM444.4 227.1h3.7v3.2h-3.7zM467.1 649.5h4.2v1.9h-4.2zM460.2 520.6h4.0v2.6h-4.0zM437.6 174.3h4.0v3.4h-4.0zM472.1 741.2h2.5v3.2h-2.5zM448.4 389.0h5.0v2.6h-5.0zM453.7 412.6h3.3v1.8h-3.3zM436.9 164.4h4.1v2.8h-4.1zM441.5 192.2h5.0v3.0h-5.0zM441.4 201.3h3.5v1.4h-3.5zM453.3 465.8h4.2v2.7h-4.2zM459.9 555.1h3.5v2.0h-3.5zM440.1 147.1h2.1v2.1h-2.1zM454.9 500.0h4.0v3.1h-4.0zM471.5 803.2h4.1v2.9h-4.1zM455.3 462.0h2.8v2.0h-2.8zM453.6 423.3h3.5v1.2h-3.5zM472.6 778.0h4.5v1.8h-4.5zM453.0 424.8h4.2v1.1h-4.2zM469.5 754.2h2.9v2.6h-2.9zM440.2 185.1h3.4v1.1h-3.4zM465.0 628.9h3.3v1.4h-3.3zM470.5 716.7h3.2v3.5h-3.2zM472.7 811.7h2.6v3.4h-2.6zM469.3 766.3h4.8v2.7h-4.8zM450.3 403.6h4.5v2.7h-4.5zM443.2 249.4h3.8v2.5h-3.8zM466.3 642.5h2.5v1.4h-2.5zM441.7 222.3h5.0v1.4h-5.0zM472.8 777.8h2.6v2.8h-2.6zM455.2 464.7h2.7v2.0h-2.7zM448.8 355.6h4.2v2.6h-4.2zM442.3 213.7h3.0v2.8h-3.0zM442.1 266.9h4.2v1.5h-4.2zM455.6 445.0h4.0v2.9h-4.0zM461.3 559.8h5.0v2.8h-5.0zM449.1 362.1h3.2v2.5h-3.2zM451.4 406.3h3.9v1.3h-3.9zM473.8 818.3h3.5v2.4h-3.5zM472.5 797.4h3.4v2.1h-3.4zM442.4 275.1h5.1v1.8h-5.1zM439.9 226.9h3.5v3.2h-3.5zM459.3 520.1h3.9v2.3h-3.9zM466.8 707.1h2.1v1.6h-2.1zM454.5 401.9h3.2v2.9h-3.2zM472.9 747.4h2.6v3.0h-2.6zM461.2 606.1h4.0v3.2h-4.0zM449.4 347.4h2.3v3.3h-2.3zM447.8 352.1h4.8v2.2h-4.8zM469.1 705.5h2.9v3.4h-2.9zM467.3 707.4h4.9v1.6h-4.9zM446.8 314.6h2.4v1.1h-2.4zM441.2 245.7h3.1v1.5h-3.1zM469.4 719.9h2.5v1.1h-2.5zM465.1 609.9h4.7v1.9h-4.7zM460.6 599.0h4.9v3.4h-4.9zM450.1 387.0h4.4v1.1h-4.4zM470.8 811.5h2.8v2.5h-2.8zM457.8 473.7h2.4v2.4h-2.4zM438.6 201.7h4.9v1.2h-4.9zM448.0 284.9h2.5v3.0h-2.5zM445.4 302.8h4.3v3.1h-4.3zM449.1 371.2h5.0v2.3h-5.0zM454.3 444.0h2.6v2.0h-2.6zM449.8 355.7h2.8v2.4h-2.8zM442.6 270.6h3.4v2.5h-3.4zM459.8 524.2h3.9v3.2h-3.9zM449.9 394.8h2.8v1.1h-2.8zM449.0 316.7h2.0v2.1h-2.0zM469.1 739.8h3.6v1.0h-3.6zM460.6 508.0h2.2v1.2h-2.2zM460.9 526.8h4.0v1.1h-4.0zM466.0 697.5h4.3v3.4h-4.3zM450.5 357.5h2.5v1.7h-2.5zM443.5 278.4h5.1v1.7h-5.1zM449.3 367.5h4.0v1.2h-4.0zM450.7 326.9h3.0v2.5h-3.0zM464.7 684.5h5.1v2.3h-5.1zM456.0 477.0h2.7v1.1h-2.7zM468.2 765.8h4.9v2.3h-4.9zM461.6 587.6h2.7v1.2h-2.7zM461.2 608.6h2.8v1.3h-2.8zM461.0 601.9h2.5v1.0h-2.5zM470.9 819.2h2.9v1.5h-2.9zM461.0 570.9h4.6v1.3h-4.6zM464.4 602.4h2.6v3.3h-2.6zM470.5 708.5h3.4v2.2h-3.4zM443.0 213.0h2.3v1.2h-2.3zM473.1 760.3h3.7v1.3h-3.7zM449.0 401.7h5.0v2.4h-5.0zM454.3 423.7h2.7v2.3h-2.7zM470.2 744.0h2.6v1.3h-2.6zM464.6 631.1h3.3v1.2h-3.3zM471.1 744.4h3.4v2.6h-3.4zM454.7 479.9h3.9v3.0h-3.9zM455.3 495.7h4.1v2.4h-4.1zM441.7 180.1h3.2v2.4h-3.2zM458.6 519.1h4.9v3.2h-4.9zM464.0 667.0h3.9v1.0h-3.9zM459.9 558.1h4.1v1.9h-4.1zM451.7 378.7h3.9v2.0h-3.9zM471.6 754.7h3.4v1.8h-3.4zM467.6 696.5h5.0v3.4h-5.0zM471.0 758.1h5.0v1.9h-5.0zM467.7 667.3h2.6v3.0h-2.6zM454.0 469.9h4.0v1.6h-4.0zM470.7 761.4h4.4v3.1h-4.4zM460.8 510.3h2.2v2.7h-2.2zM466.9 687.5h3.0v3.5h-3.0zM437.8 175.9h5.2v2.1h-5.2zM471.5 793.8h3.6v2.9h-3.6zM465.9 687.1h2.2v3.1h-2.2zM438.4 168.2h3.5v3.1h-3.5zM443.7 273.5h3.5v1.9h-3.5zM465.9 714.5h4.7v1.8h-4.7zM472.8 814.4h3.2v1.8h-3.2zM441.3 235.7h4.8v1.3h-4.8zM471.7 774.8h4.3v2.1h-4.3zM456.5 515.5h2.1v2.1h-2.1zM455.4 432.5h4.4v3.1h-4.4zM456.7 481.8h3.2v3.0h-3.2zM442.0 258.2h4.8v1.2h-4.8zM451.2 340.4h2.2v2.8h-2.2zM445.9 292.8h2.2v1.4h-2.2zM440.1 160.2h4.0v2.6h-4.0zM443.1 256.2h3.3v1.1h-3.3zM458.8 490.4h2.2v2.2h-2.2zM461.8 598.8h3.9v3.1h-3.9zM443.0 250.6h4.2v2.4h-4.2zM447.1 343.5h4.3v2.4h-4.3zM468.4 712.7h2.8v3.1h-2.8zM445.8 292.1h3.8v2.0h-3.8zM444.2 292.0h4.8v2.9h-4.8zM445.4 257.2h2.5v3.4h-2.5zM444.6 265.9h2.2v1.5h-2.2zM470.6 777.0h3.9v3.3h-3.9zM458.1 498.3h4.6v1.8h-4.6zM470.9 756.7h2.3v3.3h-2.3zM473.3 823.1h3.2v2.9h-3.2zM468.0 706.7h5.0v1.8h-5.0zM469.0 721.9h3.8v3.1h-3.8zM460.4 599.7h4.4v1.8h-4.4zM456.0 478.2h3.3v2.7h-3.3zM440.7 238.2h5.0v2.9h-5.0zM468.4 674.8h2.6v3.3h-2.6zM451.7 356.9h2.7v3.0h-2.7zM454.0 462.1h4.5v2.6h-4.5zM470.2 735.8h3.7v3.3h-3.7zM440.2 172.9h4.3v2.3h-4.3zM449.5 352.8h3.4v3.4h-3.4zM451.4 434.4h4.3v2.8h-4.3zM459.0 504.6h3.8v1.9h-3.8zM463.4 630.9h2.0v2.8h-2.0zM457.9 509.0h2.2v3.2h-2.2zM442.9 219.7h3.2v1.0h-3.2zM446.8 276.6h3.3v1.8h-3.3zM450.1 337.5h3.7v3.1h-3.7zM465.2 663.9h5.0v2.7h-5.0zM453.4 435.5h5.2v1.4h-5.2zM468.7 748.9h4.8v1.9h-4.8zM441.9 270.2h5.1v1.2h-5.1zM444.3 235.2h2.4v1.3h-2.4zM471.9 822.2h2.4v3.5h-2.4zM447.6 293.2h4.2v3.2h-4.2zM472.2 752.1h2.6v2.2h-2.6zM446.7 270.3h2.6v3.1h-2.6zM457.4 493.8h4.1v3.2h-4.1zM445.3 335.2h5.0v2.2h-5.0zM457.1 449.4h2.3v2.8h-2.3zM448.3 368.4h3.0v2.9h-3.0zM459.7 566.3h2.7v2.6h-2.7zM465.6 663.1h2.9v2.3h-2.9zM443.6 212.5h3.4v3.0h-3.4zM470.5 760.8h3.7v1.3h-3.7zM470.7 723.0h2.1v2.3h-2.1zM438.1 161.9h3.9v2.8h-3.9zM452.9 390.3h5.0v1.5h-5.0zM464.0 674.0h4.3v2.4h-4.3zM475.3 798.0h2.7v1.5h-2.7zM444.6 229.0h2.6v3.0h-2.6zM470.6 737.9h2.3v1.9h-2.3zM468.7 680.2h3.6v3.1h-3.6zM457.5 496.4h3.9v2.1h-3.9zM470.2 725.6h2.8v1.5h-2.8zM446.7 292.2h4.8v1.8h-4.8zM441.4 179.9h4.5v3.2h-4.5zM455.5 507.8h4.0v2.0h-4.0zM471.1 779.5h3.3v2.7h-3.3zM470.5 770.2h4.0v2.7h-4.0zM472.5 813.0h4.7v1.2h-4.7zM454.0 402.7h3.1v1.0h-3.1zM472.1 819.2h4.5v2.1h-4.5zM472.8 763.0h4.3v1.3h-4.3zM458.8 516.0h3.2v3.1h-3.2zM466.0 672.7h4.4v2.2h-4.4zM456.8 492.3h4.7v2.7h-4.7zM438.9 170.1h2.3v2.8h-2.3zM470.3 741.7h4.5v2.6h-4.5zM463.4 569.0h3.5v1.2h-3.5zM448.5 302.8h3.1v3.4h-3.1zM468.1 722.2h4.7v3.1h-4.7zM452.2 411.6h3.7v1.1h-3.7zM466.0 638.9h3.0v2.5h-3.0zM449.4 377.5h4.0v1.9h-4.0zM453.3 408.7h4.3v2.4h-4.3zM461.9 615.7h2.1v1.1h-2.1zM449.0 334.7h3.8v3.0h-3.8zM450.7 328.4h3.2v2.0h-3.2zM462.5 617.2h2.6v1.8h-2.6zM461.2 602.8h3.2v1.1h-3.2zM457.1 493.3h4.1v3.2h-4.1zM456.6 471.1h5.0v2.8h-5.0zM464.0 592.4h5.0v2.7h-5.0zM473.9 757.2h2.9v2.5h-2.9zM440.7 182.5h2.5v1.8h-2.5zM464.1 607.9h3.3v1.1h-3.3zM456.3 521.4h3.6v1.2h-3.6zM439.7 144.9h5.0v1.8h-5.0zM438.6 174.3h4.0v2.5h-4.0zM437.7 177.3h3.7v3.5h-3.7zM451.9 382.3h4.1v1.1h-4.1zM468.7 684.0h3.2v3.1h-3.2zM445.0 269.8h3.6v1.1h-3.6zM451.0 340.1h3.9v1.6h-3.9zM438.0 188.7h4.8v2.4h-4.8zM470.5 768.9h3.8v2.7h-3.8zM452.2 416.1h4.1v3.3h-4.1zM449.2 300.4h2.2v1.9h-2.2zM463.3 647.4h2.9v1.2h-2.9zM467.9 705.9h4.1v2.0h-4.1zM451.5 416.7h4.4v1.0h-4.4zM459.9 495.2h3.1v2.2h-3.1zM460.8 518.0h3.6v3.0h-3.6zM462.5 641.0h3.4v3.3h-3.4zM454.0 434.1h3.7v1.4h-3.7zM453.7 427.9h4.9v1.0h-4.9zM468.8 770.1h3.9v1.8h-3.9zM452.6 416.0h4.4v3.3h-4.4zM457.0 507.4h3.8v1.2h-3.8zM461.9 598.0h3.4v1.2h-3.4zM460.5 585.9h4.6v1.4h-4.6zM455.3 424.0h3.3v2.6h-3.3zM458.7 523.8h4.6v1.7h-4.6zM443.0 250.2h2.4v1.1h-2.4zM458.5 473.8h3.1v3.4h-3.1zM449.8 407.7h5.1v1.5h-5.1zM466.9 655.8h2.8v3.1h-2.8zM468.0 702.1h4.3v3.1h-4.3zM465.3 643.6h3.3v2.8h-3.3zM458.0 460.8h3.0v3.2h-3.0zM472.4 731.6h2.0v2.7h-2.0zM469.9 783.4h3.9v2.7h-3.9zM463.3 643.4h2.5v2.5h-2.5zM462.6 563.1h4.4v1.6h-4.4zM439.8 170.2h3.3v2.9h-3.3zM473.0 763.7h3.3v2.5h-3.3zM466.9 672.5h4.7v3.4h-4.7zM459.6 505.2h2.3v1.3h-2.3zM465.9 701.4h4.3v3.2h-4.3zM451.9 407.4h2.3v1.0h-2.3zM453.6 469.9h4.8v3.4h-4.8zM456.1 495.3h4.9v2.8h-4.9zM463.5 600.5h3.2v3.1h-3.2zM445.8 324.1h3.2v2.8h-3.2zM458.7 527.1h2.4v2.9h-2.4zM475.6 812.2h2.4v3.3h-2.4zM440.7 216.0h3.8v1.6h-3.8zM458.0 531.8h5.1v3.4h-5.1zM452.1 439.2h3.0v2.5h-3.0zM445.0 284.7h4.8v1.9h-4.8zM451.8 443.2h3.9v1.4h-3.9zM471.4 819.1h4.6v2.6h-4.6zM437.7 170.4h5.2v2.2h-5.2zM442.9 229.7h3.2v2.2h-3.2zM466.6 637.0h4.7v1.1h-4.7zM463.5 672.2h4.4v2.1h-4.4zM445.3 288.8h3.7v3.3h-3.7zM444.1 255.4h3.6v1.4h-3.6zM452.6 399.5h4.6v1.8h-4.6zM438.7 157.2h4.5v1.9h-4.5zM475.7 827.0h2.3v1.8h-2.3zM438.9 210.3h4.3v2.8h-4.3zM459.0 506.3h4.3v1.8h-4.3zM470.3 710.3h3.6v3.4h-3.6zM452.2 387.3h2.2v2.1h-2.2zM456.8 472.7h4.9v2.1h-4.9zM436.8 141.7h3.6v1.7h-3.6zM465.9 691.0h4.0v1.3h-4.0zM466.4 704.1h4.4v2.4h-4.4zM451.9 434.1h2.4v3.0h-2.4zM452.7 445.1h2.9v1.4h-2.9zM442.1 187.8h4.7v2.4h-4.7zM470.8 727.3h4.1v1.6h-4.1zM454.2 487.5h4.6v1.6h-4.6zM467.9 671.5h2.6v2.8h-2.6zM445.7 280.5h4.8v3.3h-4.8zM442.5 176.0h2.5v2.7h-2.5zM461.0 625.9h4.5v2.3h-4.5zM448.2 344.0h2.3v3.5h-2.3zM453.3 386.1h2.1v1.7h-2.1zM467.4 729.2h3.2v2.7h-3.2zM440.1 141.1h2.7v2.0h-2.7zM467.7 677.7h3.3v3.2h-3.3zM469.1 712.1h2.9v1.5h-2.9zM474.1 810.1h2.6v2.9h-2.6zM473.1 822.2h4.2v2.9h-4.2zM441.4 173.2h4.0v2.4h-4.0zM442.7 174.1h3.6v2.8h-3.6zM447.4 270.2h3.6v1.5h-3.6zM473.5 759.8h3.4v1.9h-3.4zM459.7 553.9h2.2v2.6h-2.2zM444.5 242.9h2.1v1.3h-2.1zM464.0 683.1h4.6v2.3h-4.6zM441.9 148.8h2.8v1.4h-2.8zM441.3 240.8h2.7v3.0h-2.7zM470.2 765.0h3.2v1.6h-3.2zM445.8 283.4h2.9v2.5h-2.9zM470.9 792.7h3.5v2.0h-3.5zM448.5 354.2h4.8v2.2h-4.8zM450.4 351.7h2.5v1.0h-2.5zM455.8 487.9h3.2v1.0h-3.2zM463.3 588.4h4.0v2.2h-4.0zM467.2 656.3h2.9v1.2h-2.9zM468.1 712.8h4.4v2.9h-4.4zM439.1 175.3h3.1v2.5h-3.1zM457.2 488.8h5.2v1.5h-5.2zM474.6 783.3h3.0v2.6h-3.0zM456.0 501.6h4.6v2.7h-4.6zM461.6 517.9h2.1v2.6h-2.1zM453.8 391.2h3.4v3.2h-3.4zM476.3 821.2h2.1v2.7h-2.1zM460.7 579.0h2.4v3.0h-2.4zM462.4 631.4h4.8v1.8h-4.8zM445.6 302.1h4.7v1.9h-4.7zM462.0 622.1h3.9v1.2h-3.9zM459.8 515.7h2.3v3.2h-2.3zM472.1 739.7h2.9v3.5h-2.9zM454.2 409.7h2.4v3.5h-2.4zM450.7 361.9h3.0v1.4h-3.0zM449.4 381.9h3.6v2.8h-3.6zM457.3 495.0h4.6v2.8h-4.6zM456.5 487.6h2.7v2.8h-2.7zM452.4 374.7h2.6v1.3h-2.6zM443.2 227.8h2.8v2.6h-2.8zM473.9 826.9h3.0v3.1h-3.0zM439.9 208.2h4.4v3.3h-4.4zM441.8 210.7h2.1v1.3h-2.1zM459.2 537.7h3.9v2.9h-3.9zM473.8 777.8h2.1v1.6h-2.1zM473.4 764.9h2.2v2.7h-2.2zM439.9 169.5h2.4v3.3h-2.4zM459.1 514.2h3.9v1.3h-3.9zM468.2 724.7h3.1v2.5h-3.1zM452.1 427.0h2.9v1.6h-2.9zM471.4 813.5h4.9v2.7h-4.9zM446.7 275.1h5.0v3.3h-5.0zM456.7 451.9h3.2v2.1h-3.2zM443.0 186.5h2.1v2.2h-2.1zM461.0 549.9h4.5v2.3h-4.5zM461.4 607.4h4.2v2.5h-4.2zM469.5 702.1h4.8v1.2h-4.8zM461.7 544.7h2.6v2.8h-2.6zM466.4 703.3h2.8v2.6h-2.8zM441.7 222.4h3.7v2.9h-3.7zM439.8 228.8h4.6v3.5h-4.6zM451.3 392.0h2.5v1.4h-2.5zM453.9 402.9h4.9v1.2h-4.9zM441.8 159.2h4.0v2.3h-4.0zM449.5 351.4h4.1v2.0h-4.1zM462.6 578.9h3.7v3.2h-3.7zM460.3 581.1h3.3v1.5h-3.3zM450.8 341.7h3.4v2.7h-3.4zM472.2 751.8h4.7v1.2h-4.7zM464.2 579.5h3.3v2.7h-3.3zM442.4 179.1h3.4v1.8h-3.4zM459.6 513.6h2.7v3.5h-2.7zM450.9 351.4h4.7v2.3h-4.7zM456.9 461.4h4.3v2.9h-4.3zM473.9 798.9h4.0v2.3h-4.0zM457.2 491.1h3.6v3.3h-3.6zM452.7 373.9h2.8v2.7h-2.8zM471.8 760.8h5.2v2.6h-5.2zM454.3 470.9h3.4v1.9h-3.4zM465.0 647.8h3.7v1.2h-3.7zM454.0 405.0h2.6v1.1h-2.6zM454.2 406.2h2.8v1.8h-2.8zM464.6 672.8h2.1v3.3h-2.1zM459.4 478.0h2.4v2.2h-2.4zM462.2 608.4h3.7v2.3h-3.7zM440.9 238.9h4.9v3.0h-4.9zM445.3 334.5h5.2v2.2h-5.2zM470.9 796.6h3.6v1.7h-3.6zM442.3 180.8h4.2v1.3h-4.2zM466.2 658.6h4.3v1.8h-4.3zM458.6 480.8h2.4v3.4h-2.4zM457.6 519.4h4.5v2.8h-4.5zM472.1 783.2h4.9v1.2h-4.9zM440.9 195.6h4.7v2.0h-4.7zM469.7 805.2h4.2v3.0h-4.2zM462.3 589.1h3.6v2.3h-3.6zM468.2 698.0h2.2v2.0h-2.2zM469.3 730.5h3.0v1.5h-3.0zM445.7 333.8h4.7v1.6h-4.7zM445.5 266.1h4.1v1.0h-4.1zM467.0 726.6h3.3v2.0h-3.3zM441.5 243.9h2.8v2.1h-2.8zM455.9 451.5h2.6v1.9h-2.6zM465.8 701.5h4.4v3.2h-4.4zM440.7 152.9h3.6v3.1h-3.6zM467.0 713.2h3.0v1.0h-3.0zM458.7 476.9h2.1v2.8h-2.1zM452.5 459.4h4.0v1.9h-4.0zM465.0 588.9h2.1v2.1h-2.1zM465.1 610.9h2.4v2.9h-2.4zM447.1 336.0h3.1v1.4h-3.1zM447.4 305.7h3.1v3.2h-3.1zM463.4 606.4h2.4v2.6h-2.4zM460.2 523.0h2.9v2.0h-2.9zM470.4 703.6h2.0v1.9h-2.0zM439.7 233.1h5.0v1.3h-5.0zM467.3 721.6h5.1v2.9h-5.1zM464.1 662.1h2.7v3.4h-2.7zM469.8 751.8h4.7v3.3h-4.7zM456.4 506.8h4.6v1.1h-4.6zM463.5 569.7h3.7v2.5h-3.7zM468.3 729.4h3.8v2.3h-3.8zM441.4 199.3h4.4v1.9h-4.4zM444.4 251.3h4.8v1.9h-4.8zM460.9 556.4h5.0v2.5h-5.0zM468.3 678.3h4.0v2.6h-4.0zM454.8 461.1h3.5v2.0h-3.5zM471.7 805.7h4.5v2.8h-4.5zM446.9 334.1h3.3v1.7h-3.3zM455.0 406.9h2.6v2.6h-2.6zM444.7 307.1h3.0v3.1h-3.0zM450.5 421.7h4.9v1.2h-4.9zM438.1 150.3h4.1v2.8h-4.1zM444.2 283.4h2.9v2.2h-2.9zM441.4 247.1h3.9v3.2h-3.9zM456.6 486.8h2.2v2.7h-2.2zM447.8 356.3h3.4v1.8h-3.4zM467.5 656.2h3.6v2.0h-3.6zM453.6 426.8h4.2v1.5h-4.2zM456.3 501.5h3.6v3.0h-3.6zM448.7 354.6h2.0v2.0h-2.0zM452.4 370.4h2.9v3.1h-2.9zM462.6 617.7h3.3v1.4h-3.3zM437.5 148.4h4.7v1.3h-4.7zM441.2 218.1h5.0v2.3h-5.0zM447.5 312.4h3.1v2.2h-3.1zM465.3 626.0h3.1v1.5h-3.1zM471.9 808.0h4.9v1.6h-4.9zM459.7 589.0h3.8v1.4h-3.8zM469.9 765.8h3.0v3.0h-3.0zM449.3 370.0h4.0v1.5h-4.0zM462.3 613.9h3.8v1.9h-3.8zM467.3 722.5h2.6v1.1h-2.6zM440.2 190.0h3.4v3.2h-3.4zM453.4 430.3h4.0v2.4h-4.0zM457.9 481.9h3.4v2.0h-3.4zM451.2 438.7h4.9v2.4h-4.9zM457.5 478.3h4.2v2.8h-4.2zM464.5 598.9h4.8v1.4h-4.8zM453.8 453.2h4.3v2.2h-4.3zM468.8 697.2h4.7v1.1h-4.7zM442.3 199.5h3.7v3.0h-3.7zM450.6 328.4h3.4v3.5h-3.4zM439.2 163.8h3.6v3.1h-3.6zM450.5 381.9h4.7v2.5h-4.7zM452.7 397.4h2.5v3.0h-2.5zM442.1 168.9h2.4v3.0h-2.4zM471.8 796.5h5.1v1.9h-5.1zM441.1 184.5h3.4v1.7h-3.4zM437.5 157.9h4.3v3.5h-4.3zM464.0 590.1h3.5v2.3h-3.5zM446.1 301.4h4.4v3.4h-4.4zM454.9 488.6h3.3v3.0h-3.3zM458.0 486.7h3.0v2.9h-3.0zM442.5 254.1h2.1v1.3h-2.1zM464.5 693.1h4.3v3.0h-4.3zM463.0 588.1h4.3v2.5h-4.3zM438.2 136.9h3.0v2.5h-3.0zM449.8 316.9h2.5v2.0h-2.5zM448.2 324.0h4.4v1.6h-4.4zM454.7 430.5h3.7v3.2h-3.7zM455.5 461.1h3.7v1.5h-3.7zM445.6 274.2h4.8v2.2h-4.8zM442.7 261.4h2.8v1.0h-2.8zM472.1 744.0h2.3v1.0h-2.3zM441.4 188.0h4.8v2.3h-4.8zM443.3 267.7h2.8v2.2h-2.8zM452.7 422.3h3.4v2.0h-3.4zM471.5 805.1h5.2v1.1h-5.2zM464.4 664.5h2.2v1.0h-2.2zM472.0 740.7h4.1v1.1h-4.1zM442.5 250.7h3.7v1.5h-3.7zM460.1 521.8h4.0v2.8h-4.0zM443.9 208.0h3.7v2.1h-3.7zM461.6 544.3h3.0v1.4h-3.0zM455.4 405.1h2.2v1.1h-2.2zM465.4 638.2h2.4v1.5h-2.4zM462.1 599.0h3.2v2.0h-3.2zM456.4 513.7h3.9v1.6h-3.9zM455.2 439.8h4.4v3.2h-4.4zM440.1 177.8h4.1v1.3h-4.1zM472.7 773.4h5.0v3.4h-5.0zM449.4 323.5h2.2v2.9h-2.2zM450.1 394.0h4.8v1.4h-4.8zM467.7 685.7h2.3v3.0h-2.3zM466.5 683.3h3.3v2.7h-3.3zM439.5 147.1h2.9v3.4h-2.9zM464.1 575.7h2.2v2.0h-2.2zM465.1 594.3h2.5v1.9h-2.5zM457.8 471.0h4.3v2.9h-4.3zM437.4 145.2h3.6v3.4h-3.6zM474.3 802.9h2.9v2.6h-2.9zM463.8 618.4h3.9v2.4h-3.9zM453.1 372.7h2.8v2.2h-2.8zM443.1 268.2h2.4v2.2h-2.4zM459.2 576.1h4.9v1.6h-4.9zM455.7 475.5h3.6v2.0h-3.6zM444.3 211.0h2.7v1.9h-2.7zM444.0 248.0h3.5v2.5h-3.5zM447.3 329.9h3.8v2.3h-3.8zM474.0 824.0h4.5v2.2h-4.5zM459.7 547.2h4.1v2.9h-4.1zM468.0 726.7h2.9v2.3h-2.9zM465.8 704.9h2.8v1.4h-2.8zM452.3 410.5h4.2v3.3h-4.2zM459.2 529.7h2.5v3.4h-2.5zM470.2 731.0h3.7v2.1h-3.7zM439.0 150.9h4.6v1.8h-4.6zM444.9 312.0h4.3v2.7h-4.3zM461.3 617.4h4.7v1.7h-4.7zM460.9 560.9h3.7v2.7h-3.7zM448.0 337.2h5.2v2.1h-5.2zM458.5 542.0h3.3v2.6h-3.3zM442.3 179.2h2.2v1.2h-2.2zM441.9 226.8h5.1v3.0h-5.1zM458.8 546.3h3.3v1.2h-3.3zM439.9 170.2h3.2v2.7h-3.2z" fill="#808080"/>
<polyline points="440.2,135.0 444.5,235.0 448.4,300.0 456.0,440.0 463.6,580.0 469.5,700.0 473.0,760.0 475.0,828.0" fill="none" stroke="#474747" stroke-width="2.8"/>
<polyline points="474.0,135.0 477.4,235.0 480.8,300.0 490.0,500.0 500.5,700.0 502.7,740.0" fill="none" stroke="#b0b0b0" stroke-width="3.2"/>
<path d="M479.5 309.2h1.3v1.9h-1.3zM501.2 722.2h2.9v3.3h-2.9zM498.5 678.4h1.4v3.0h-1.4zM484.3 423.8h1.8v1.0h-1.8zM493.6 620.0h2.9v2.4h-2.9zM490.7 525.4h1.9v1.1h-1.9zM486.9 463.0h2.1v1.8h-2.1zM490.4 529.9h3.0v3.0h-3.0zM484.1 411.9h2.5v1.4h-2.5zM471.7 139.1h2.2v1.3h-2.2zM475.5 226.2h2.7v1.4h-2.7zM487.9 511.8h2.6v2.4h-2.6zM485.8 445.0h2.5v2.8h-2.5zM479.5 308.4h1.4v3.0h-1.4zM485.7 410.6h1.4v1.2h-1.4zM492.1 562.8h2.5v2.2h-2.5zM473.6 150.6h1.6v3.2h-1.6zM488.3 496.6h2.3v2.1h-2.3zM476.3 197.2h1.8v3.1h-1.8zM498.0 688.0h2.4v1.9h-2.4zM480.0 279.4h2.4v1.4h-2.4zM474.8 175.6h2.4v3.4h-2.4zM486.7 477.0h2.3v3.4h-2.3zM482.0 351.5h2.0v2.1h-2.0zM488.7 459.2h1.4v3.0h-1.4zM475.7 239.3h2.0v2.1h-2.0zM486.5 421.1h2.0v2.7h-2.0zM497.5 641.0h2.7v2.6h-2.7zM481.8 326.1h2.6v3.3h-2.6zM476.9 246.0h2.0v3.1h-2.0zM490.4 520.1h1.6v2.9h-1.6zM500.6 706.0h1.9v2.8h-1.9zM476.5 215.2h2.7v3.3h-2.7zM483.8 382.9h2.3v2.9h-2.3zM493.2 584.9h2.0v3.4h-2.0zM498.4 661.9h3.0v2.7h-3.0zM477.9 294.5h2.6v2.6h-2.6zM498.8 707.0h1.3v1.6h-1.3zM479.2 276.9h2.0v2.8h-2.0zM497.3 651.3h2.1v2.4h-2.1zM485.5 413.9h2.7v2.2h-2.7zM492.8 581.4h1.8v1.4h-1.8zM483.6 406.3h2.8v3.2h-2.8zM497.4 664.6h2.1v2.4h-2.1zM498.2 699.6h1.7v3.1h-1.7zM483.5 379.7h2.0v1.4h-2.0zM482.1 335.9h3.1v1.8h-3.1zM480.8 299.4h1.3v2.8h-1.3zM477.3 278.0h2.9v2.6h-2.9zM499.9 694.1h2.8v2.0h-2.8zM486.8 453.1h1.9v3.1h-1.9zM475.7 163.8h1.3v3.4h-1.3zM473.2 154.0h2.8v2.5h-2.8zM488.4 478.4h3.1v1.2h-3.1zM472.2 156.9h2.3v2.0h-2.3zM475.0 167.5h1.4v3.3h-1.4zM471.9 146.1h2.1v3.2h-2.1zM483.5 360.6h2.8v1.7h-2.8zM479.5 326.2h2.3v3.1h-2.3zM477.4 273.4h2.6v2.0h-2.6zM487.4 448.4h1.5v1.9h-1.5zM489.0 520.7h2.9v2.1h-2.9zM473.3 167.9h2.6v1.5h-2.6zM472.1 140.8h2.7v1.5h-2.7zM491.3 544.8h2.2v3.0h-2.2zM491.1 536.8h2.8v2.8h-2.8zM478.4 288.7h3.2v2.1h-3.2zM486.4 454.5h3.2v2.3h-3.2zM494.5 602.7h3.1v2.1h-3.1zM493.5 558.6h1.7v2.3h-1.7zM473.1 153.0h1.9v3.5h-1.9zM479.5 273.1h2.0v2.5h-2.0zM484.0 407.9h3.1v1.5h-3.1zM478.4 258.9h2.5v2.4h-2.5zM491.4 541.3h2.1v3.4h-2.1zM489.3 530.1h2.6v1.9h-2.6zM481.6 368.6h2.1v1.2h-2.1zM495.2 599.2h1.3v1.2h-1.3zM486.8 456.7h2.4v2.7h-2.4zM475.3 177.9h1.9v1.2h-1.9zM476.2 208.8h2.0v2.8h-2.0zM480.2 307.3h1.3v1.5h-1.3zM493.6 575.0h2.3v1.8h-2.3zM494.1 611.0h2.8v2.2h-2.8zM488.8 510.5h1.8v3.2h-1.8zM493.6 568.3h2.0v1.2h-2.0zM474.6 192.6h2.2v3.4h-2.2zM486.9 448.3h2.3v1.2h-2.3zM495.2 634.5h2.2v3.1h-2.2zM475.2 186.3h1.4v2.4h-1.4zM486.1 403.2h1.3v1.2h-1.3zM485.1 439.7h2.6v3.0h-2.6zM477.5 253.7h1.3v2.2h-1.3zM473.1 148.0h1.8v1.3h-1.8zM481.0 348.1h2.7v2.6h-2.7zM499.2 701.2h2.2v3.0h-2.2zM476.5 258.4h1.9v1.5h-1.9zM475.1 177.4h2.5v3.4h-2.5zM493.5 617.4h2.4v1.2h-2.4zM488.8 466.0h1.6v3.5h-1.6zM490.2 558.9h3.0v2.4h-3.0zM480.0 330.7h2.1v3.4h-2.1zM500.6 734.5h2.9v3.2h-2.9zM480.1 296.3h1.8v1.0h-1.8zM482.0 364.2h2.3v1.6h-2.3zM476.4 224.7h1.8v1.5h-1.8zM495.3 603.4h2.3v1.2h-2.3zM494.9 633.4h1.3v3.4h-1.3zM487.9 489.9h3.2v1.8h-3.2zM483.7 391.5h2.0v1.9h-2.0zM494.5 579.7h2.4v3.1h-2.4zM488.4 514.7h2.3v1.9h-2.3zM483.1 376.5h2.1v2.3h-2.1zM475.3 225.0h1.9v2.3h-1.9zM481.8 363.3h1.9v1.9h-1.9zM475.4 211.9h2.1v1.2h-2.1zM494.9 602.3h1.3v2.0h-1.3zM496.6 645.4h1.9v3.3h-1.9zM475.7 202.7h1.9v1.6h-1.9zM483.0 411.3h2.9v3.2h-2.9zM481.9 357.6h3.0v1.8h-3.0zM479.7 271.5h1.7v1.7h-1.7zM480.0 314.7h3.0v1.3h-3.0zM481.7 328.7h1.7v3.4h-1.7zM478.1 242.4h2.1v2.4h-2.1zM484.6 425.9h2.7v2.0h-2.7zM480.9 353.9h2.1v1.2h-2.1zM479.9 312.7h3.2v1.1h-3.2zM478.5 296.8h2.4v2.4h-2.4zM487.7 481.8h1.8v2.7h-1.8zM483.5 410.1h2.0v2.9h-2.0zM478.2 265.8h3.1v1.3h-3.1zM498.4 665.1h2.1v3.1h-2.1zM498.2 689.8h1.9v2.6h-1.9zM493.6 571.0h2.5v1.0h-2.5zM483.3 347.5h2.1v2.5h-2.1zM496.1 621.0h1.6v2.7h-1.6zM502.5 736.1h1.7v2.9h-1.7zM472.3 158.1h3.0v3.1h-3.0zM497.2 680.8h2.7v2.6h-2.7zM488.2 507.0h2.5v2.4h-2.5zM476.6 258.2h2.6v2.0h-2.6zM497.6 664.6h1.9v1.8h-1.9zM475.9 215.2h3.1v3.1h-3.1zM491.5 539.8h2.0v2.3h-2.0zM483.3 374.3h1.4v3.2h-1.4zM490.1 487.7h1.3v1.1h-1.3zM495.1 592.8h1.9v1.3h-1.9zM499.7 712.9h2.6v2.5h-2.6zM500.3 701.9h1.9v1.8h-1.9zM493.1 592.5h2.3v2.0h-2.3zM474.1 141.8h1.4v1.0h-1.4zM478.8 279.0h2.0v1.6h-2.0zM484.4 411.4h2.1v3.4h-2.1zM494.3 600.0h1.3v2.7h-1.3zM475.4 203.4h2.6v1.6h-2.6zM490.9 513.1h2.2v1.9h-2.2zM487.8 488.4h1.8v1.6h-1.8zM483.1 364.2h2.4v1.3h-2.4zM493.4 618.3h2.6v2.5h-2.6zM489.2 527.6h1.6v1.3h-1.6zM486.2 455.3h2.5v1.9h-2.5zM487.8 499.0h1.7v2.6h-1.7zM475.9 191.2h1.3v2.3h-1.3zM479.6 286.1h2.7v3.0h-2.7zM490.3 504.7h1.8v2.1h-1.8zM486.6 471.0h1.4v2.6h-1.4zM490.2 505.3h2.0v1.5h-2.0zM497.3 649.7h3.1v3.0h-3.1zM474.7 178.2h2.3v3.2h-2.3zM473.8 175.6h2.1v1.8h-2.1zM482.1 351.7h1.6v1.5h-1.6zM495.1 627.0h2.2v3.3h-2.2zM486.7 453.4h2.5v3.2h-2.5zM487.0 477.6h3.0v3.3h-3.0zM486.1 419.1h1.7v2.1h-1.7zM480.5 331.0h2.9v2.9h-2.9zM499.8 707.7h1.5v2.9h-1.5zM484.7 415.4h2.5v2.4h-2.5zM475.3 174.5h2.2v3.4h-2.2zM492.9 558.7h2.7v3.0h-2.7zM473.7 157.4h1.4v1.3h-1.4zM485.8 450.5h3.1v3.1h-3.1zM497.9 653.2h1.4v2.6h-1.4zM481.8 340.2h2.9v3.0h-2.9zM496.2 611.4h2.3v1.5h-2.3zM493.8 611.0h2.4v1.3h-2.4zM487.2 468.3h2.5v1.5h-2.5zM484.4 420.0h2.7v2.7h-2.7zM494.5 621.2h3.0v1.3h-3.0zM482.8 343.9h2.7v3.4h-2.7zM500.7 726.9h1.9v2.3h-1.9zM488.1 489.4h2.5v1.9h-2.5zM501.2 701.2h1.6v3.1h-1.6zM482.5 375.4h2.8v1.9h-2.8zM492.7 543.5h2.1v1.5h-2.1zM484.0 399.4h3.0v1.5h-3.0zM475.8 193.4h2.7v3.0h-2.7zM496.8 622.1h1.3v1.5h-1.3zM499.1 675.5h1.5v2.6h-1.5zM473.8 198.6h3.1v2.6h-3.1zM488.3 501.0h1.6v1.8h-1.6zM499.8 713.7h2.0v1.6h-2.0zM484.1 425.1h2.0v1.3h-2.0zM473.8 196.0h2.2v1.6h-2.2zM498.7 671.4h1.5v1.6h-1.5zM475.5 173.6h1.4v3.1h-1.4zM484.5 375.1h2.3v3.0h-2.3zM489.5 498.7h2.4v1.7h-2.4zM501.1 735.2h2.1v1.2h-2.1zM476.0 212.7h1.8v1.7h-1.8zM496.8 662.6h2.3v2.3h-2.3zM486.4 471.7h3.2v3.4h-3.2zM475.5 178.7h2.7v2.8h-2.7zM481.7 323.0h1.9v1.5h-1.9zM492.5 586.3h1.9v1.7h-1.9zM487.4 488.9h1.8v3.4h-1.8zM488.4 516.4h2.9v2.7h-2.9zM491.7 555.1h1.8v3.4h-1.8zM500.6 710.2h2.8v2.0h-2.8zM480.1 328.7h2.1v2.6h-2.1zM482.5 341.6h1.8v3.2h-1.8zM475.0 185.8h2.1v2.5h-2.1zM497.1 671.0h2.9v2.2h-2.9zM474.0 150.2h1.5v2.0h-1.5zM493.4 589.4h1.7v3.0h-1.7zM489.6 535.4h3.0v1.1h-3.0zM475.5 239.8h2.7v2.6h-2.7zM494.4 616.6h2.9v3.0h-2.9zM477.0 237.3h2.2v1.9h-2.2zM492.1 559.9h2.3v2.0h-2.3zM484.9 389.5h3.0v3.5h-3.0zM477.5 235.8h2.0v2.7h-2.0zM479.1 282.9h3.1v2.6h-3.1zM491.2 541.8h2.0v3.3h-2.0zM494.4 630.5h2.5v3.1h-2.5zM482.8 385.7h2.6v1.0h-2.6zM489.4 497.8h1.7v1.2h-1.7zM494.3 620.8h2.0v1.1h-2.0zM486.5 422.8h2.3v2.3h-2.3zM473.5 138.7h2.9v1.0h-2.9zM494.3 599.9h2.9v1.7h-2.9zM493.9 613.4h2.4v3.0h-2.4zM474.3 194.1h1.3v2.8h-1.3zM497.6 680.7h2.2v2.4h-2.2zM474.2 192.7h2.4v1.7h-2.4zM496.1 642.6h1.6v2.1h-1.6zM491.1 559.0h1.3v2.0h-1.3zM473.1 168.9h1.7v2.4h-1.7zM494.8 576.5h1.3v2.1h-1.3zM489.0 494.7h2.6v2.5h-2.6zM490.6 541.9h1.9v3.0h-1.9zM483.6 416.3h3.0v2.1h-3.0zM498.8 656.9h1.6v2.0h-1.6zM483.3 367.8h1.3v2.8h-1.3zM487.9 503.2h2.8v1.2h-2.8zM501.1 715.9h1.3v1.9h-1.3zM479.1 300.7h2.1v1.4h-2.1zM497.0 623.8h1.3v3.2h-1.3zM485.1 397.0h3.2v1.5h-3.2zM478.8 255.2h2.2v1.9h-2.2zM477.7 271.7h2.5v1.5h-2.5zM496.4 632.3h2.5v2.4h-2.5zM476.1 192.0h1.8v1.6h-1.8zM475.4 168.2h1.5v1.3h-1.5zM476.1 258.6h2.5v2.9h-2.5zM479.7 325.6h3.2v1.8h-3.2zM472.4 154.7h2.8v3.1h-2.8zM496.8 685.1h3.0v2.2h-3.0zM483.0 367.1h3.1v2.3h-3.1zM488.3 514.7h2.2v2.7h-2.2zM496.1 630.8h1.7v1.9h-1.7zM482.8 345.7h3.0v2.3h-3.0zM489.0 518.4h1.7v1.5h-1.7zM475.7 176.3h1.6v2.8h-1.6zM492.6 596.0h1.9v2.9h-1.9zM493.2 578.4h2.7v3.3h-2.7zM489.1 526.1h1.8v3.5h-1.8zM481.0 317.0h1.7v1.2h-1.7zM482.6 383.3h3.2v2.1h-3.2zM473.3 174.5h2.5v1.9h-2.5zM487.9 499.9h2.2v2.4h-2.2zM481.9 360.9h1.9v2.5h-1.9zM482.8 360.8h3.2v1.3h-3.2zM471.9 148.4h3.1v2.0h-3.1zM486.1 434.4h1.6v2.3h-1.6zM483.1 355.4h1.4v3.4h-1.4zM502.1 734.4h1.9v2.3h-1.9zM494.9 586.2h1.7v2.4h-1.7zM488.3 515.0h2.4v2.4h-2.4zM475.3 155.8h1.3v2.8h-1.3zM475.0 179.4h2.7v1.4h-2.7zM489.1 483.7h2.9v2.6h-2.9zM494.8 604.6h2.8v2.0h-2.8zM487.4 451.6h2.0v2.6h-2.0zM500.6 710.9h2.9v3.1h-2.9zM489.6 535.8h2.5v2.6h-2.5zM497.5 648.2h1.6v2.7h-1.6zM476.7 270.4h2.9v2.2h-2.9zM498.9 664.9h1.9v2.3h-1.9z" fill="#a6a6a6"/>
<polyline points="502.7,740.0 506.0,806.0" fill="none" stroke="#aaa" stroke-width="1" stroke-dasharray="2 2.5"/>
<polyline points="382.6,135.0 386.6,235.0 396.4,440.0 403.4,580.0 407.0,660.0 410.2,730.0 411.7,754.2 409.0,762.8 404.7,765.0 405.5,776.9 412.5,781.5 414.8,794.0 417.2,828.0" fill="none" stroke="#111" stroke-width="2.4"/>
<path d="M380.4 132.1h4.4v5.8h-4.4zM380.8 141.8h4.4v5.8h-4.4zM381.2 151.5h4.4v5.8h-4.4zM381.6 161.2h4.4v5.8h-4.4zM382.0 170.9h4.4v5.8h-4.4zM382.3 180.6h4.4v5.8h-4.4zM382.7 190.3h4.4v5.8h-4.4zM383.1 199.9h4.4v5.8h-4.4zM383.5 209.6h4.4v5.8h-4.4zM383.9 219.3h4.4v5.8h-4.4zM384.3 229.0h4.4v5.8h-4.4zM384.7 238.7h4.4v5.8h-4.4zM385.2 248.4h4.4v5.8h-4.4zM385.6 258.1h4.4v5.8h-4.4zM386.1 267.8h4.4v5.8h-4.4zM386.6 277.5h4.4v5.8h-4.4zM387.0 287.2h4.4v5.8h-4.4zM387.5 296.8h4.4v5.8h-4.4zM388.0 306.5h4.4v5.8h-4.4zM388.4 316.2h4.4v5.8h-4.4zM388.9 325.9h4.4v5.8h-4.4zM389.3 335.6h4.4v5.8h-4.4zM389.8 345.3h4.4v5.8h-4.4zM390.3 355.0h4.4v5.8h-4.4zM390.7 364.7h4.4v5.8h-4.4zM391.2 374.4h4.4v5.8h-4.4zM391.7 384.0h4.4v5.8h-4.4zM392.1 393.7h4.4v5.8h-4.4zM392.6 403.4h4.4v5.8h-4.4zM393.1 413.1h4.4v5.8h-4.4zM393.5 422.8h4.4v5.8h-4.4zM394.0 432.5h4.4v5.8h-4.4zM394.5 442.2h4.4v5.8h-4.4zM394.9 451.9h4.4v5.8h-4.4zM395.4 461.6h4.4v5.8h-4.4zM395.9 471.2h4.4v5.8h-4.4zM396.4 480.9h4.4v5.8h-4.4zM396.9 490.6h4.4v5.8h-4.4zM397.4 500.3h4.4v5.8h-4.4zM397.8 510.0h4.4v5.8h-4.4zM398.3 519.7h4.4v5.8h-4.4zM398.8 529.4h4.4v5.8h-4.4zM399.3 539.1h4.4v5.8h-4.4zM399.8 548.7h4.4v5.8h-4.4zM400.3 558.4h4.4v5.8h-4.4zM400.8 568.1h4.4v5.8h-4.4zM401.2 577.8h4.4v5.8h-4.4zM401.7 587.5h4.4v5.8h-4.4zM402.1 597.2h4.4v5.8h-4.4zM402.5 606.9h4.4v5.8h-4.4zM403.0 616.6h4.4v5.8h-4.4zM403.4 626.3h4.4v5.8h-4.4zM403.8 636.0h4.4v5.8h-4.4zM404.3 645.6h4.4v5.8h-4.4zM404.7 655.3h4.4v5.8h-4.4zM405.2 665.0h4.4v5.8h-4.4zM405.6 674.7h4.4v5.8h-4.4zM406.0 684.4h4.4v5.8h-4.4zM406.5 694.1h4.4v5.8h-4.4zM406.9 703.8h4.4v5.8h-4.4zM407.4 713.5h4.4v5.8h-4.4zM407.8 723.2h4.4v5.8h-4.4zM408.4 732.8h4.4v5.8h-4.4zM409.0 742.5h4.4v5.8h-4.4zM409.2 752.2h4.4v5.8h-4.4zM405.4 760.6h4.4v5.8h-4.4zM402.9 768.6h4.4v5.8h-4.4zM406.8 776.3h4.4v5.8h-4.4zM411.3 784.1h4.4v5.8h-4.4zM412.8 793.6h4.4v5.8h-4.4zM413.5 803.3h4.4v5.8h-4.4zM414.1 813.0h4.4v5.8h-4.4zM414.8 822.7h4.4v5.8h-4.4z" fill="#111"/>
<path d="M381.9 134.2h1.4v1.6h-1.4zM382.3 143.9h1.4v1.6h-1.4zM382.7 153.6h1.4v1.6h-1.4zM383.1 163.3h1.4v1.6h-1.4zM383.5 173.0h1.4v1.6h-1.4zM383.8 182.7h1.4v1.6h-1.4zM384.2 192.4h1.4v1.6h-1.4zM384.6 202.0h1.4v1.6h-1.4zM385.0 211.7h1.4v1.6h-1.4zM385.4 221.4h1.4v1.6h-1.4zM385.8 231.1h1.4v1.6h-1.4zM386.2 240.8h1.4v1.6h-1.4zM386.7 250.5h1.4v1.6h-1.4zM387.1 260.2h1.4v1.6h-1.4zM387.6 269.9h1.4v1.6h-1.4zM388.1 279.6h1.4v1.6h-1.4zM388.5 289.3h1.4v1.6h-1.4zM389.0 298.9h1.4v1.6h-1.4zM389.5 308.6h1.4v1.6h-1.4zM389.9 318.3h1.4v1.6h-1.4zM390.4 328.0h1.4v1.6h-1.4zM390.8 337.7h1.4v1.6h-1.4zM391.3 347.4h1.4v1.6h-1.4zM391.8 357.1h1.4v1.6h-1.4zM392.2 366.8h1.4v1.6h-1.4zM392.7 376.5h1.4v1.6h-1.4zM393.2 386.1h1.4v1.6h-1.4zM393.6 395.8h1.4v1.6h-1.4zM394.1 405.5h1.4v1.6h-1.4zM394.6 415.2h1.4v1.6h-1.4zM395.0 424.9h1.4v1.6h-1.4zM395.5 434.6h1.4v1.6h-1.4zM396.0 444.3h1.4v1.6h-1.4zM396.4 454.0h1.4v1.6h-1.4zM396.9 463.7h1.4v1.6h-1.4zM397.4 473.3h1.4v1.6h-1.4zM397.9 483.0h1.4v1.6h-1.4zM398.4 492.7h1.4v1.6h-1.4zM398.9 502.4h1.4v1.6h-1.4zM399.3 512.1h1.4v1.6h-1.4zM399.8 521.8h1.4v1.6h-1.4zM400.3 531.5h1.4v1.6h-1.4zM400.8 541.2h1.4v1.6h-1.4zM401.3 550.8h1.4v1.6h-1.4zM401.8 560.5h1.4v1.6h-1.4zM402.3 570.2h1.4v1.6h-1.4zM402.7 579.9h1.4v1.6h-1.4zM403.2 589.6h1.4v1.6h-1.4zM403.6 599.3h1.4v1.6h-1.4zM404.0 609.0h1.4v1.6h-1.4zM404.5 618.7h1.4v1.6h-1.4zM404.9 628.4h1.4v1.6h-1.4zM405.3 638.1h1.4v1.6h-1.4zM405.8 647.7h1.4v1.6h-1.4zM406.2 657.4h1.4v1.6h-1.4zM406.7 667.1h1.4v1.6h-1.4zM407.1 676.8h1.4v1.6h-1.4zM407.5 686.5h1.4v1.6h-1.4zM408.0 696.2h1.4v1.6h-1.4zM408.4 705.9h1.4v1.6h-1.4zM408.9 715.6h1.4v1.6h-1.4zM409.3 725.3h1.4v1.6h-1.4zM409.9 734.9h1.4v1.6h-1.4zM410.5 744.6h1.4v1.6h-1.4zM410.7 754.3h1.4v1.6h-1.4zM406.9 762.7h1.4v1.6h-1.4zM404.4 770.7h1.4v1.6h-1.4zM408.3 778.4h1.4v1.6h-1.4zM412.8 786.2h1.4v1.6h-1.4zM414.3 795.7h1.4v1.6h-1.4zM415.0 805.4h1.4v1.6h-1.4zM415.6 815.1h1.4v1.6h-1.4zM416.3 824.8h1.4v1.6h-1.4z" fill="#888"/>
<polyline points="405.2,135.0 409.5,235.0 419.9,440.0 425.8,580.0 430.8,660.0 432.3,689.0 434.7,699.0 440.0,701.9 440.0,717.8 435.0,722.5 433.0,732.6 434.7,760.0 439.0,828.0" fill="none" stroke="#111" stroke-width="2.4"/>
<path d="M403.0 132.1h4.4v5.8h-4.4zM403.4 141.8h4.4v5.8h-4.4zM403.8 151.5h4.4v5.8h-4.4zM404.3 161.2h4.4v5.8h-4.4zM404.7 170.9h4.4v5.8h-4.4zM405.1 180.6h4.4v5.8h-4.4zM405.5 190.2h4.4v5.8h-4.4zM405.9 199.9h4.4v5.8h-4.4zM406.3 209.6h4.4v5.8h-4.4zM406.8 219.3h4.4v5.8h-4.4zM407.2 229.0h4.4v5.8h-4.4zM407.6 238.7h4.4v5.8h-4.4zM408.1 248.4h4.4v5.8h-4.4zM408.6 258.1h4.4v5.8h-4.4zM409.1 267.8h4.4v5.8h-4.4zM409.6 277.4h4.4v5.8h-4.4zM410.1 287.1h4.4v5.8h-4.4zM410.6 296.8h4.4v5.8h-4.4zM411.1 306.5h4.4v5.8h-4.4zM411.6 316.2h4.4v5.8h-4.4zM412.1 325.9h4.4v5.8h-4.4zM412.5 335.6h4.4v5.8h-4.4zM413.0 345.3h4.4v5.8h-4.4zM413.5 354.9h4.4v5.8h-4.4zM414.0 364.6h4.4v5.8h-4.4zM414.5 374.3h4.4v5.8h-4.4zM415.0 384.0h4.4v5.8h-4.4zM415.5 393.7h4.4v5.8h-4.4zM416.0 403.4h4.4v5.8h-4.4zM416.5 413.1h4.4v5.8h-4.4zM417.0 422.8h4.4v5.8h-4.4zM417.5 432.4h4.4v5.8h-4.4zM417.9 442.1h4.4v5.8h-4.4zM418.3 451.8h4.4v5.8h-4.4zM418.7 461.5h4.4v5.8h-4.4zM419.1 471.2h4.4v5.8h-4.4zM419.5 480.9h4.4v5.8h-4.4zM420.0 490.6h4.4v5.8h-4.4zM420.4 500.3h4.4v5.8h-4.4zM420.8 510.0h4.4v5.8h-4.4zM421.2 519.7h4.4v5.8h-4.4zM421.6 529.4h4.4v5.8h-4.4zM422.0 539.1h4.4v5.8h-4.4zM422.4 548.7h4.4v5.8h-4.4zM422.8 558.4h4.4v5.8h-4.4zM423.2 568.1h4.4v5.8h-4.4zM423.6 577.8h4.4v5.8h-4.4zM424.2 587.5h4.4v5.8h-4.4zM424.9 597.2h4.4v5.8h-4.4zM425.5 606.9h4.4v5.8h-4.4zM426.1 616.5h4.4v5.8h-4.4zM426.7 626.2h4.4v5.8h-4.4zM427.3 635.9h4.4v5.8h-4.4zM427.9 645.6h4.4v5.8h-4.4zM428.5 655.3h4.4v5.8h-4.4zM429.0 665.0h4.4v5.8h-4.4zM429.5 674.6h4.4v5.8h-4.4zM430.0 684.3h4.4v5.8h-4.4zM431.9 693.8h4.4v5.8h-4.4zM437.8 700.3h4.4v5.8h-4.4zM437.8 710.0h4.4v5.8h-4.4zM434.3 718.2h4.4v5.8h-4.4zM431.3 727.1h4.4v5.8h-4.4zM431.2 736.7h4.4v5.8h-4.4zM431.8 746.4h4.4v5.8h-4.4zM432.4 756.1h4.4v5.8h-4.4zM433.0 765.8h4.4v5.8h-4.4zM433.7 775.5h4.4v5.8h-4.4zM434.3 785.1h4.4v5.8h-4.4zM434.9 794.8h4.4v5.8h-4.4zM435.5 804.5h4.4v5.8h-4.4zM436.1 814.2h4.4v5.8h-4.4zM436.7 823.9h4.4v5.8h-4.4z" fill="#111"/>
<path d="M404.5 134.2h1.4v1.6h-1.4zM404.9 143.9h1.4v1.6h-1.4zM405.3 153.6h1.4v1.6h-1.4zM405.8 163.3h1.4v1.6h-1.4zM406.2 173.0h1.4v1.6h-1.4zM406.6 182.7h1.4v1.6h-1.4zM407.0 192.3h1.4v1.6h-1.4zM407.4 202.0h1.4v1.6h-1.4zM407.8 211.7h1.4v1.6h-1.4zM408.3 221.4h1.4v1.6h-1.4zM408.7 231.1h1.4v1.6h-1.4zM409.1 240.8h1.4v1.6h-1.4zM409.6 250.5h1.4v1.6h-1.4zM410.1 260.2h1.4v1.6h-1.4zM410.6 269.9h1.4v1.6h-1.4zM411.1 279.5h1.4v1.6h-1.4zM411.6 289.2h1.4v1.6h-1.4zM412.1 298.9h1.4v1.6h-1.4zM412.6 308.6h1.4v1.6h-1.4zM413.1 318.3h1.4v1.6h-1.4zM413.6 328.0h1.4v1.6h-1.4zM414.0 337.7h1.4v1.6h-1.4zM414.5 347.4h1.4v1.6h-1.4zM415.0 357.0h1.4v1.6h-1.4zM415.5 366.7h1.4v1.6h-1.4zM416.0 376.4h1.4v1.6h-1.4zM416.5 386.1h1.4v1.6h-1.4zM417.0 395.8h1.4v1.6h-1.4zM417.5 405.5h1.4v1.6h-1.4zM418.0 415.2h1.4v1.6h-1.4zM418.5 424.9h1.4v1.6h-1.4zM419.0 434.5h1.4v1.6h-1.4zM419.4 444.2h1.4v1.6h-1.4zM419.8 453.9h1.4v1.6h-1.4zM420.2 463.6h1.4v1.6h-1.4zM420.6 473.3h1.4v1.6h-1.4zM421.0 483.0h1.4v1.6h-1.4zM421.5 492.7h1.4v1.6h-1.4zM421.9 502.4h1.4v1.6h-1.4zM422.3 512.1h1.4v1.6h-1.4zM422.7 521.8h1.4v1.6h-1.4zM423.1 531.5h1.4v1.6h-1.4zM423.5 541.2h1.4v1.6h-1.4zM423.9 550.8h1.4v1.6h-1.4zM424.3 560.5h1.4v1.6h-1.4zM424.7 570.2h1.4v1.6h-1.4zM425.1 579.9h1.4v1.6h-1.4zM425.7 589.6h1.4v1.6h-1.4zM426.4 599.3h1.4v1.6h-1.4zM427.0 609.0h1.4v1.6h-1.4zM427.6 618.6h1.4v1.6h-1.4zM428.2 628.3h1.4v1.6h-1.4zM428.8 638.0h1.4v1.6h-1.4zM429.4 647.7h1.4v1.6h-1.4zM430.0 657.4h1.4v1.6h-1.4zM430.5 667.1h1.4v1.6h-1.4zM431.0 676.7h1.4v1.6h-1.4zM431.5 686.4h1.4v1.6h-1.4zM433.4 695.9h1.4v1.6h-1.4zM439.3 702.4h1.4v1.6h-1.4zM439.3 712.1h1.4v1.6h-1.4zM435.8 720.3h1.4v1.6h-1.4zM432.8 729.2h1.4v1.6h-1.4zM432.7 738.8h1.4v1.6h-1.4zM433.3 748.5h1.4v1.6h-1.4zM433.9 758.2h1.4v1.6h-1.4zM434.5 767.9h1.4v1.6h-1.4zM435.2 777.6h1.4v1.6h-1.4zM435.8 787.2h1.4v1.6h-1.4zM436.4 796.9h1.4v1.6h-1.4zM437.0 806.6h1.4v1.6h-1.4zM437.6 816.3h1.4v1.6h-1.4zM438.2 826.0h1.4v1.6h-1.4z" fill="#888"/>
<line x1="456" y1="471" x2="568" y2="483" stroke="#555" stroke-width="0.75"/>
<path d="M571.5 577 C568 600 567 625 568.5 635 L572 650" fill="none" stroke="#333" stroke-width="1.6"/>
<path d="M477 795.8 L568 801" fill="none" stroke="#444" stroke-width="3.2" stroke-dasharray="5 4.3"/>
<path d="M541 759.3 L562 759.6" stroke="#333" stroke-width="0.8"/>
<path d="M558 757.8 L571 759.9 L558 761.3z" fill="#222"/>
<circle cx="386.0" cy="221.0" r="1.6" fill="#fff" stroke="#111" stroke-width="0.9"/><circle cx="408.8" cy="218.0" r="1.6" fill="#fff" stroke="#111" stroke-width="0.9"/><circle cx="390.9" cy="325.0" r="1.6" fill="#fff" stroke="#111" stroke-width="0.9"/><circle cx="414.1" cy="325.0" r="1.6" fill="#fff" stroke="#111" stroke-width="0.9"/><circle cx="404.2" cy="598.0" r="1.6" fill="#fff" stroke="#111" stroke-width="0.9"/><circle cx="426.9" cy="598.0" r="1.6" fill="#fff" stroke="#111" stroke-width="0.9"/><circle cx="432.3" cy="689.0" r="1.6" fill="#fff" stroke="#111" stroke-width="0.9"/><circle cx="434.7" cy="699.0" r="1.6" fill="#fff" stroke="#111" stroke-width="0.9"/><circle cx="440.0" cy="701.9" r="1.6" fill="#fff" stroke="#111" stroke-width="0.9"/><circle cx="440.0" cy="717.8" r="1.6" fill="#fff" stroke="#111" stroke-width="0.9"/><circle cx="435.0" cy="722.5" r="1.6" fill="#fff" stroke="#111" stroke-width="0.9"/><circle cx="433.0" cy="732.6" r="1.6" fill="#fff" stroke="#111" stroke-width="0.9"/><circle cx="411.7" cy="754.2" r="1.6" fill="#fff" stroke="#111" stroke-width="0.9"/><circle cx="409.0" cy="762.8" r="1.6" fill="#fff" stroke="#111" stroke-width="0.9"/><circle cx="404.7" cy="765.0" r="1.6" fill="#fff" stroke="#111" stroke-width="0.9"/><circle cx="405.5" cy="776.9" r="1.6" fill="#fff" stroke="#111" stroke-width="0.9"/><circle cx="412.5" cy="781.5" r="1.6" fill="#fff" stroke="#111" stroke-width="0.9"/><circle cx="414.8" cy="794.0" r="1.6" fill="#fff" stroke="#111" stroke-width="0.9"/><circle cx="457.7" cy="471.0" r="1.6" fill="#fff" stroke="#111" stroke-width="0.9"/><circle cx="460.1" cy="516.0" r="1.6" fill="#fff" stroke="#111" stroke-width="0.9"/><circle cx="474.0" cy="795.6" r="1.6" fill="#fff" stroke="#111" stroke-width="0.9"/><circle cx="474.8" cy="822.0" r="1.6" fill="#fff" stroke="#111" stroke-width="0.9"/><circle cx="383.2" cy="685.0" r="1.6" fill="#fff" stroke="#111" stroke-width="0.9"/>
<path d="M392 827h22" stroke="#777" stroke-width="1" stroke-dasharray="1.5 2.5"/>
</g>
<path d="M159.10 274.50L157.95 253.00L157.05 253.00L155.90 274.50z" fill="#111"/><path d="M157.50 274.50L157.50 253.00L156.22 274.50z" fill="#fff" opacity="0.25"/><path d="M160.53 275.30L167.67 256.61L166.84 256.27L158.68 274.54z" fill="#1a1a1a"/><path d="M163.09 277.81L179.03 259.10L178.40 258.47L159.69 274.41z" fill="#111"/><path d="M161.39 276.11L178.71 258.79L160.03 274.75z" fill="#fff" opacity="0.25"/><path d="M162.96 278.82L181.23 270.66L180.89 269.83L162.20 276.97z" fill="#1a1a1a"/><path d="M163.00 281.60L184.50 280.45L184.50 279.55L163.00 278.40z" fill="#111"/><path d="M163.00 280.00L184.50 280.00L163.00 278.72z" fill="#fff" opacity="0.25"/><path d="M162.20 283.03L180.89 290.17L181.23 289.34L162.96 281.18z" fill="#1a1a1a"/><path d="M159.69 285.59L178.40 301.53L179.03 300.90L163.09 282.19z" fill="#111"/><path d="M161.39 283.89L178.71 301.21L162.75 282.53z" fill="#fff" opacity="0.25"/><path d="M158.68 285.46L166.84 303.73L167.67 303.39L160.53 284.70z" fill="#1a1a1a"/><path d="M155.90 285.50L157.05 307.00L157.95 307.00L159.10 285.50z" fill="#111"/><path d="M157.50 285.50L157.50 307.00L158.78 285.50z" fill="#fff" opacity="0.25"/><path d="M154.47 284.70L147.33 303.39L148.16 303.73L156.32 285.46z" fill="#1a1a1a"/><path d="M151.91 282.19L135.97 300.90L136.60 301.53L155.31 285.59z" fill="#111"/><path d="M153.61 283.89L136.29 301.21L154.97 285.25z" fill="#fff" opacity="0.25"/><path d="M152.04 281.18L133.77 289.34L134.11 290.17L152.80 283.03z" fill="#1a1a1a"/><path d="M152.00 278.40L130.50 279.55L130.50 280.45L152.00 281.60z" fill="#111"/><path d="M152.00 280.00L130.50 280.00L152.00 281.28z" fill="#fff" opacity="0.25"/><path d="M152.80 276.97L134.11 269.83L133.77 270.66L152.04 278.82z" fill="#1a1a1a"/><path d="M155.31 274.41L136.60 258.47L135.97 259.10L151.91 277.81z" fill="#111"/><path d="M153.61 276.11L136.29 258.79L152.25 277.47z" fill="#fff" opacity="0.25"/><path d="M156.32 274.54L148.16 256.27L147.33 256.61L154.47 275.30z" fill="#1a1a1a"/><circle cx="157.5" cy="280" r="6.3" fill="#e4e4e4" stroke="#666" stroke-width="0.9"/><path d="M154 277l3 2l3-2M154.5 282l3-1.5l3 2M157.5 275v10" stroke="#666" stroke-width="0.8" fill="none"/><path d="M155.8 233.6L160.6 239.6V233.4" stroke="#111" stroke-width="1.1" fill="none"/><path d="M157.2 242.3v2.6l1 1.6M155.3 248.5h3.3" stroke="#333" stroke-width="0.9" fill="none"/><path d="M157.4 314.2c-1.5 0.8-1.8 2.1-0.3 3.3c1.6 1.2 1.8 2.6 0.6 3.8M155.2 320.5l1.6 1.3M157 322.8v1.8" stroke="#222" stroke-width="1.1" fill="none"/>
<path d="M112 784.6H235" stroke="#777" stroke-width="0.8"/><path d="M112 787.6H235" stroke="#333" stroke-width="1"/><rect x="137" y="784.3" width="24.8" height="3.6" fill="#111"/><rect x="186" y="784.3" width="24.6" height="3.6" fill="#111"/>
</svg>
<div class="lbl" style="left:356px;top:152.6px;font-size:9.8px;">50:28:0000000:53382</div>
<div class="lbl" style="left:393.7px;top:200.1px;font-size:9.8px;">50:28:0000000:54026</div>
<div class="lbl" style="left:371px;top:216.6px;font-size:9.8px;transform:scaleX(0.77);transform-origin:0 50%;">136</div>
<div class="lbl" style="left:419.5px;top:213.6px;font-size:9.8px;transform:scaleX(0.77);transform-origin:0 50%;">201</div>
<div class="lbl" style="left:374px;top:320.6px;font-size:9.8px;transform:scaleX(0.77);transform-origin:0 50%;">137</div>
<div class="lbl" style="left:424.5px;top:320.6px;font-size:9.8px;transform:scaleX(0.77);transform-origin:0 50%;">208</div>
<div class="lbl" style="left:372px;top:336.5px;font-size:16px;-webkit-text-stroke:0.12px #111;">17</div>
<div class="lbl" style="left:492px;top:334.6px;font-size:9.8px;">50:28:0100306:13</div>
<div class="lbl" style="left:403px;top:468.5px;font-size:16px;-webkit-text-stroke:0.12px #111;">26</div>
<div class="lbl" style="left:433px;top:463.5px;font-size:16px;-webkit-text-stroke:0.12px #111;">29</div>
<div class="lbl" style="left:462.5px;top:463.1px;font-size:9.8px;transform:scaleX(0.77);transform-origin:0 50%;">265</div>
<div class="lbl" style="left:464.7px;top:511.1px;font-size:9.8px;transform:scaleX(0.77);transform-origin:0 50%;">266</div>
<div class="lbl" style="left:407.5px;top:593.6px;font-size:9.8px;transform:scaleX(0.77);transform-origin:0 50%;">138</div>
<div class="lbl" style="left:428px;top:593.6px;font-size:9.8px;transform:scaleX(0.77);transform-origin:0 50%;">209</div>
<div class="lbl" style="left:497.6px;top:650.5px;font-size:9.9px;">50:28:0100306:12</div>
<div class="lbl" style="left:371px;top:677.6px;font-size:9.8px;transform:scaleX(0.77);transform-origin:0 50%;">95</div>
<div class="lbl" style="left:367.7px;top:685.1px;font-size:9.8px;transform:scaleX(0.77);transform-origin:0 50%;">115</div>
<div class="lbl" style="left:416px;top:678.6px;font-size:9.8px;transform:scaleX(0.77);transform-origin:0 50%;">210</div>
<div class="lbl" style="left:420px;top:698.6px;font-size:9.8px;transform:scaleX(0.77);transform-origin:0 50%;">211</div>
<div class="lbl" style="left:444px;top:699.6px;font-size:9.8px;transform:scaleX(0.77);transform-origin:0 50%;">212</div>
<div class="lbl" style="left:421px;top:715.6px;font-size:9.8px;transform:scaleX(0.77);transform-origin:0 50%;">214</div>
<div class="lbl" style="left:446px;top:723.6px;font-size:9.8px;transform:scaleX(0.77);transform-origin:0 50%;">213</div>
<div class="lbl" style="left:441px;top:734.1px;font-size:9.8px;transform:scaleX(0.77);transform-origin:0 50%;">215</div>
<div class="lbl" style="left:414.8px;top:749.8px;font-size:9.8px;transform:scaleX(0.77);transform-origin:0 50%;">139</div>
<div class="lbl" style="left:412.5px;top:760.3px;font-size:9.8px;transform:scaleX(0.77);transform-origin:0 50%;">140</div>
<div class="lbl" style="left:392px;top:754.6px;font-size:9.8px;transform:scaleX(0.77);transform-origin:0 50%;">141</div>
<div class="lbl" style="left:415.3px;top:775.9px;font-size:9.8px;transform:scaleX(0.77);transform-origin:0 50%;">143</div>
<div class="lbl" style="left:396px;top:784.1px;font-size:9.8px;transform:scaleX(0.77);transform-origin:0 50%;">142</div>
<div class="lbl" style="left:418.75px;top:790.4px;font-size:9.8px;transform:scaleX(0.77);transform-origin:0 50%;">144</div>
<div class="lbl" style="left:364.8px;top:767.0px;font-size:16px;color:#222;">11</div>
<div class="lbl" style="left:480.8px;top:785.6px;font-size:9.8px;transform:scaleX(0.77);transform-origin:0 50%;">267</div>
<div class="lbl" style="left:481.6px;top:817.1px;font-size:9.8px;transform:scaleX(0.77);transform-origin:0 50%;">268</div>
<div class="lbl" style="left:490px;top:751.3px;font-size:12.4px;">кладбище</div>

<div class="rot" style="left:406px;top:236px;transform:rotate(86.97deg);">автомобильная дорога Каширское шоссе</div>
<div class="t" style="left:334px;top:36.3px;font-size:11.6px;">59</div>
<div class="t title" style="top:59px;">Документация по планировке территории для реконструкции автомобильной дороги</div>
<div class="t title" style="top:74px;">Каширское шоссе на участке от 65 км Каширского шоссе до автомобильной дороги</div>
<div class="t title" style="top:89px;">А-112 «Чепелево – Вельяминово» в городском округе Домодедово Московской области</div>
<div class="t title" style="top:104px;left:4.5px;">Чертеж межевания территории</div>

<div class="s" style="left:151px;top:347px;font-size:11px;line-height:12.2px;color:#3a3a3a;transform:scaleX(0.92);transform-origin:0 0;">Схема<br>расположения<br>листов</div>
<div class="box" style="left:158px;top:385px;width:57px;height:39px;"></div>
<div class="box" style="left:165px;top:421px;width:40px;height:55px;"></div>
<div class="box" style="left:157px;top:476px;width:58px;height:38px;"></div>
<div class="box" style="left:157px;top:508px;width:40px;height:55px;"></div>
<div class="box" style="left:168px;top:561px;width:40px;height:55px;"></div>
<div class="box" style="left:178px;top:609px;width:40px;height:56px;"></div>
<div class="box" style="left:144px;top:659px;width:53px;height:40px;"></div>
<div class="box" style="left:200px;top:659px;width:53px;height:40px;"></div>
<div class="bl" style="left:185.6px;top:403.4px;">Лист 1</div>
<div class="bl" style="left:184px;top:451.8px;">Лист 2</div>
<div class="bl" style="left:186.7px;top:493.4px;">Лист 3</div>
<div class="bl" style="left:177.1px;top:535.3px;">Лист 4</div>
<div class="bl" style="left:189px;top:588.9px;">Лист 5</div>
<div class="bl" style="left:199px;top:638.8px;">Лист 6</div>
<div class="bl" style="left:172.3px;top:678.4px;">Лист 7</div>
<div class="bl" style="left:223.4px;top:678.4px;">Лист 8</div>
<div class="s sc" style="left:110.8px;">0</div>
<div class="s sc" style="left:132px;">20</div>
<div class="s sc" style="left:155.6px;">40</div>
<div class="s sc" style="left:181.2px;">60</div>
<div class="s sc" style="left:205.7px;">80</div>
<div class="s sc" style="left:228.7px;">100 м</div>
</body></html>
